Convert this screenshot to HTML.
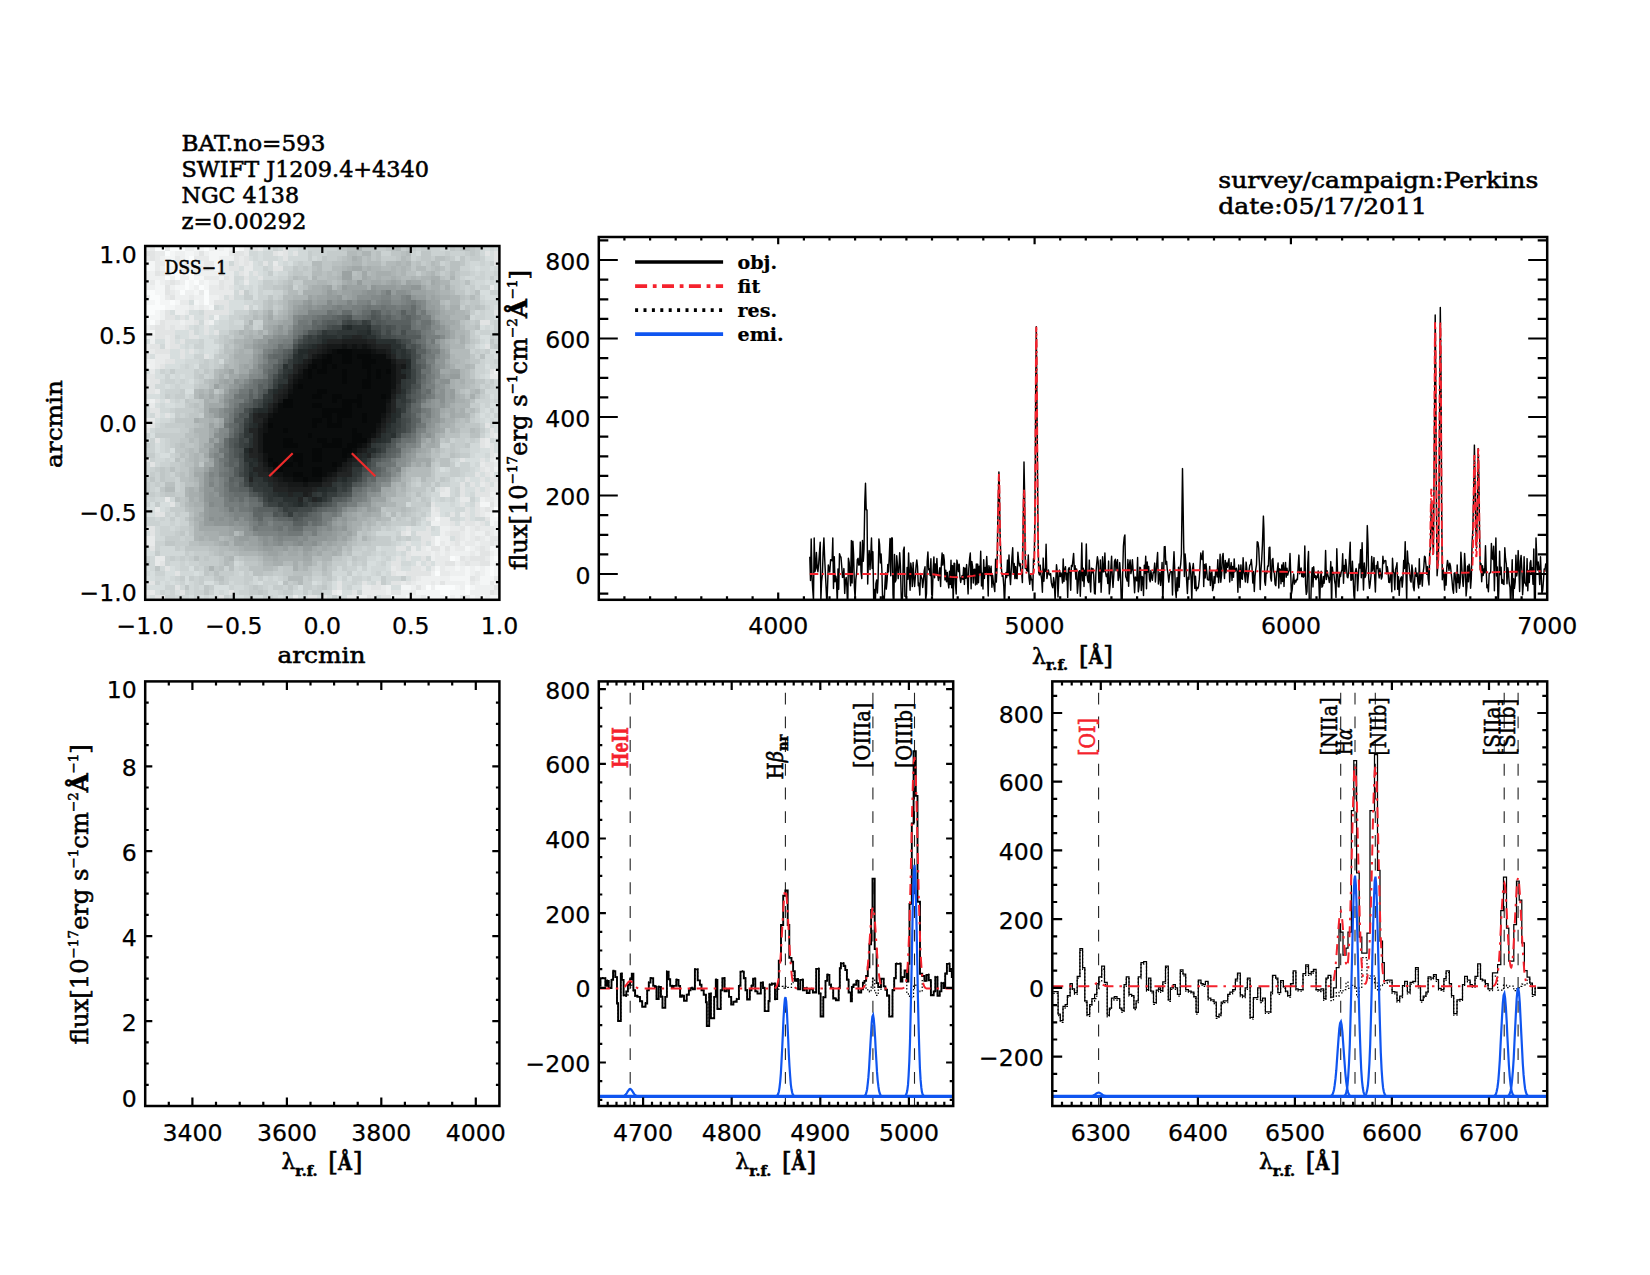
<!DOCTYPE html>
<html lang="en"><head><meta charset="utf-8"><title>BAT 593 - NGC 4138 spectrum</title>
<style>html,body{margin:0;padding:0;background:#fff}svg{display:block}text{font-family:"DejaVu Serif","Liberation Serif",serif;font-size:22px;fill:#000;stroke:#000;stroke-width:0.55px}.tk{font-family:"DejaVu Sans","Liberation Sans",sans-serif;font-size:23.6px;stroke-width:0.25px}.sm{font-size:14.5px;font-weight:bold}.lg{font-size:19px;font-weight:bold;stroke-width:0.2px}.sp{font-size:13px}.r{fill:#f5222d;stroke:#f5222d}</style></head><body>
<svg width="1650" height="1275" viewBox="0 0 1650 1275">
<rect width="1650" height="1275" fill="#fff"/>
<g transform="translate(145.2 246) scale(4.91944)" shape-rendering="crispEdges">
<rect width="72" height="72" fill="#e6eaea"/>
<path fill="rgb(6,8,8)" d="M39 21h3v1h-3zM37 22h1v1h-1zM40 22h2v1h-2zM43 22h3v1h-3zM36 23h2v1h-2zM40 23h2v1h-2zM44 23h3v1h-3zM34 24h1v1h-1zM36 24h1v1h-1zM38 24h1v1h-1zM44 24h2v1h-2zM33 25h1v1h-1zM35 25h2v1h-2zM40 25h1v1h-1zM45 25h1v1h-1zM47 25h1v1h-1zM49 25h1v1h-1zM33 26h1v1h-1zM40 26h1v1h-1zM45 26h1v1h-1zM47 26h1v1h-1zM40 27h1v1h-1zM44 27h2v1h-2zM31 28h1v1h-1zM44 28h2v1h-2zM35 29h2v1h-2zM34 30h2v1h-2zM38 30h2v1h-2zM43 30h1v1h-1zM48 30h1v1h-1zM28 31h2v1h-2zM38 31h1v1h-1zM40 31h4v1h-4zM28 32h2v1h-2zM34 32h2v1h-2zM40 32h2v1h-2zM43 32h1v1h-1zM36 33h6v1h-6zM36 34h2v1h-2zM39 34h3v1h-3zM44 34h1v1h-1zM34 35h2v1h-2zM37 35h1v1h-1zM39 35h1v1h-1zM44 35h1v1h-1zM25 36h1v1h-1zM34 36h1v1h-1zM37 36h3v1h-3zM28 37h1v1h-1zM42 37h1v1h-1zM33 38h1v1h-1zM42 38h2v1h-2zM28 39h2v1h-2zM35 39h2v1h-2zM38 39h2v1h-2zM42 39h3v1h-3zM28 40h3v1h-3zM36 40h4v1h-4zM41 40h2v1h-2zM34 41h2v1h-2zM40 41h2v1h-2zM30 42h2v1h-2zM34 42h2v1h-2zM40 42h1v1h-1zM25 43h1v1h-1zM30 43h2v1h-2zM34 43h2v1h-2zM26 44h1v1h-1zM28 44h2v1h-2zM31 44h1v1h-1zM38 44h1v1h-1zM27 45h1v1h-1zM34 45h2v1h-2zM30 46h2v1h-2zM34 46h2v1h-2zM32 47h1v1h-1z"/>
<path fill="rgb(10,12,12)" d="M38 21h1v1h-1zM42 21h4v1h-4zM36 22h1v1h-1zM38 22h2v1h-2zM42 22h1v1h-1zM46 22h3v1h-3zM34 23h2v1h-2zM38 23h2v1h-2zM42 23h2v1h-2zM47 23h3v1h-3zM33 24h1v1h-1zM35 24h1v1h-1zM37 24h1v1h-1zM39 24h5v1h-5zM46 24h4v1h-4zM32 25h1v1h-1zM34 25h1v1h-1zM37 25h3v1h-3zM41 25h4v1h-4zM46 25h1v1h-1zM48 25h1v1h-1zM32 26h1v1h-1zM34 26h6v1h-6zM41 26h4v1h-4zM46 26h1v1h-1zM48 26h2v1h-2zM31 27h9v1h-9zM41 27h3v1h-3zM46 27h4v1h-4zM30 28h1v1h-1zM32 28h12v1h-12zM46 28h4v1h-4zM30 29h5v1h-5zM37 29h13v1h-13zM29 30h5v1h-5zM36 30h2v1h-2zM40 30h3v1h-3zM44 30h4v1h-4zM49 30h1v1h-1zM30 31h8v1h-8zM39 31h1v1h-1zM44 31h5v1h-5zM27 32h1v1h-1zM30 32h4v1h-4zM36 32h4v1h-4zM42 32h1v1h-1zM44 32h5v1h-5zM27 33h9v1h-9zM42 33h7v1h-7zM26 34h10v1h-10zM38 34h1v1h-1zM42 34h2v1h-2zM45 34h3v1h-3zM25 35h9v1h-9zM36 35h1v1h-1zM38 35h1v1h-1zM40 35h4v1h-4zM45 35h3v1h-3zM26 36h8v1h-8zM35 36h2v1h-2zM40 36h7v1h-7zM25 37h3v1h-3zM29 37h13v1h-13zM43 37h4v1h-4zM24 38h9v1h-9zM34 38h8v1h-8zM44 38h2v1h-2zM24 39h4v1h-4zM30 39h5v1h-5zM37 39h1v1h-1zM40 39h2v1h-2zM24 40h4v1h-4zM31 40h5v1h-5zM40 40h1v1h-1zM43 40h1v1h-1zM24 41h10v1h-10zM36 41h4v1h-4zM42 41h1v1h-1zM25 42h5v1h-5zM32 42h2v1h-2zM36 42h4v1h-4zM41 42h1v1h-1zM26 43h4v1h-4zM32 43h2v1h-2zM36 43h5v1h-5zM25 44h1v1h-1zM27 44h1v1h-1zM30 44h1v1h-1zM32 44h6v1h-6zM39 44h1v1h-1zM26 45h1v1h-1zM28 45h6v1h-6zM36 45h3v1h-3zM28 46h2v1h-2zM32 46h2v1h-2zM36 46h1v1h-1zM30 47h2v1h-2zM33 47h3v1h-3z"/>
<path fill="rgb(16,18,18)" d="M40 20h1v1h-1zM42 20h1v1h-1zM44 20h1v1h-1zM37 21h1v1h-1zM46 21h1v1h-1zM35 22h1v1h-1zM50 24h1v1h-1zM50 25h1v1h-1zM31 26h1v1h-1zM50 26h1v1h-1zM30 27h1v1h-1zM50 27h1v1h-1zM50 28h1v1h-1zM29 29h1v1h-1zM49 31h1v1h-1zM26 33h1v1h-1zM25 34h1v1h-1zM48 34h1v1h-1zM24 36h1v1h-1zM47 36h1v1h-1zM24 37h1v1h-1zM46 38h1v1h-1zM45 39h1v1h-1zM44 40h1v1h-1zM24 42h1v1h-1zM24 43h1v1h-1zM26 46h2v1h-2zM37 46h1v1h-1zM28 47h2v1h-2zM32 48h1v1h-1z"/>
<path fill="rgb(22,24,24)" d="M37 20h3v1h-3zM41 20h1v1h-1zM43 20h1v1h-1zM45 20h1v1h-1zM36 21h1v1h-1zM47 21h2v1h-2zM34 22h1v1h-1zM49 22h1v1h-1zM33 23h1v1h-1zM50 23h1v1h-1zM32 24h1v1h-1zM52 24h1v1h-1zM31 25h1v1h-1zM30 26h1v1h-1zM29 28h1v1h-1zM50 29h1v1h-1zM28 30h1v1h-1zM27 31h1v1h-1zM26 32h1v1h-1zM49 32h1v1h-1zM49 33h1v1h-1zM24 35h1v1h-1zM48 35h1v1h-1zM23 37h1v1h-1zM47 37h1v1h-1zM23 38h1v1h-1zM23 39h1v1h-1zM23 40h1v1h-1zM23 41h1v1h-1zM43 41h1v1h-1zM42 42h1v1h-1zM41 43h1v1h-1zM24 44h1v1h-1zM40 44h1v1h-1zM25 45h1v1h-1zM39 45h1v1h-1zM38 46h1v1h-1zM27 47h1v1h-1zM36 47h1v1h-1zM29 48h3v1h-3zM33 48h3v1h-3z"/>
<path fill="rgb(28,30,30)" d="M40 19h5v1h-5zM36 20h1v1h-1zM46 20h1v1h-1zM35 21h1v1h-1zM49 21h1v1h-1zM32 23h1v1h-1zM31 24h1v1h-1zM51 24h1v1h-1zM51 25h1v1h-1zM51 26h2v1h-2zM29 27h1v1h-1zM51 27h1v1h-1zM28 29h1v1h-1zM27 30h1v1h-1zM50 30h1v1h-1zM25 33h1v1h-1zM23 34h2v1h-2zM49 34h1v1h-1zM23 36h1v1h-1zM48 36h1v1h-1zM47 38h1v1h-1zM45 40h1v1h-1zM21 41h1v1h-1zM44 41h1v1h-1zM23 42h1v1h-1zM23 43h1v1h-1zM42 43h1v1h-1zM41 44h1v1h-1zM24 45h1v1h-1zM40 45h1v1h-1zM25 46h1v1h-1zM26 47h1v1h-1zM37 47h1v1h-1zM27 48h2v1h-2zM29 49h5v1h-5zM32 50h1v1h-1z"/>
<path fill="rgb(34,36,36)" d="M42 18h2v1h-2zM37 19h3v1h-3zM45 19h2v1h-2zM35 20h1v1h-1zM47 20h3v1h-3zM33 21h2v1h-2zM33 22h1v1h-1zM50 22h1v1h-1zM51 23h2v1h-2zM30 24h1v1h-1zM30 25h1v1h-1zM29 26h1v1h-1zM28 28h1v1h-1zM51 28h1v1h-1zM27 29h1v1h-1zM51 29h1v1h-1zM26 30h1v1h-1zM26 31h1v1h-1zM50 31h1v1h-1zM25 32h1v1h-1zM50 32h1v1h-1zM50 33h1v1h-1zM22 34h1v1h-1zM22 35h2v1h-2zM49 35h1v1h-1zM21 37h2v1h-2zM48 37h1v1h-1zM22 38h1v1h-1zM22 39h1v1h-1zM46 39h1v1h-1zM22 40h1v1h-1zM22 41h1v1h-1zM21 42h2v1h-2zM43 42h1v1h-1zM45 42h1v1h-1zM23 44h1v1h-1zM22 45h2v1h-2zM41 45h1v1h-1zM23 46h2v1h-2zM39 46h3v1h-3zM21 47h1v1h-1zM25 47h1v1h-1zM38 47h1v1h-1zM26 48h1v1h-1zM36 48h2v1h-2zM26 49h3v1h-3zM34 49h1v1h-1zM29 50h1v1h-1zM33 50h1v1h-1zM31 51h1v1h-1zM34 51h1v1h-1z"/>
<path fill="rgb(35,42,42)" d="M41 16h1v1h-1zM45 17h1v1h-1zM40 18h2v1h-2zM44 18h1v1h-1zM36 19h1v1h-1zM34 20h1v1h-1zM31 21h2v1h-2zM50 21h1v1h-1zM31 22h1v1h-1zM31 23h1v1h-1zM53 23h1v1h-1zM53 24h1v1h-1zM52 25h1v1h-1zM27 28h1v1h-1zM26 29h1v1h-1zM23 33h2v1h-2zM50 34h1v1h-1zM50 35h1v1h-1zM22 36h1v1h-1zM49 36h1v1h-1zM47 39h1v1h-1zM20 41h1v1h-1zM45 41h2v1h-2zM44 42h1v1h-1zM22 43h1v1h-1zM43 43h1v1h-1zM21 44h1v1h-1zM42 44h2v1h-2zM21 46h1v1h-1zM24 47h1v1h-1zM40 47h1v1h-1zM25 48h1v1h-1zM35 49h2v1h-2zM27 50h2v1h-2zM30 50h2v1h-2zM35 51h1v1h-1zM31 52h1v1h-1z"/>
<path fill="rgb(41,48,48)" d="M40 16h1v1h-1zM45 16h1v1h-1zM43 17h2v1h-2zM36 18h3v1h-3zM45 18h2v1h-2zM47 19h4v1h-4zM33 20h1v1h-1zM50 20h2v1h-2zM52 21h1v1h-1zM30 22h1v1h-1zM32 22h1v1h-1zM52 22h1v1h-1zM30 23h1v1h-1zM28 24h1v1h-1zM29 25h1v1h-1zM53 25h1v1h-1zM28 26h1v1h-1zM53 26h1v1h-1zM52 29h1v1h-1zM51 30h1v1h-1zM25 31h1v1h-1zM24 32h1v1h-1zM22 33h1v1h-1zM51 33h1v1h-1zM51 34h1v1h-1zM21 36h1v1h-1zM49 37h1v1h-1zM48 38h1v1h-1zM50 38h1v1h-1zM21 39h1v1h-1zM48 39h1v1h-1zM21 40h1v1h-1zM20 42h1v1h-1zM20 43h2v1h-2zM44 43h1v1h-1zM22 44h1v1h-1zM21 45h1v1h-1zM22 46h1v1h-1zM39 47h1v1h-1zM37 49h2v1h-2zM26 50h1v1h-1zM36 50h1v1h-1zM28 51h3v1h-3zM33 51h1v1h-1zM30 52h1v1h-1z"/>
<path fill="rgb(47,54,54)" d="M42 16h3v1h-3zM36 17h1v1h-1zM39 17h4v1h-4zM35 18h1v1h-1zM39 18h1v1h-1zM35 19h1v1h-1zM32 20h1v1h-1zM51 21h1v1h-1zM51 22h1v1h-1zM53 22h1v1h-1zM28 25h1v1h-1zM27 27h2v1h-2zM52 27h1v1h-1zM52 28h1v1h-1zM25 29h1v1h-1zM25 30h1v1h-1zM52 30h1v1h-1zM24 31h1v1h-1zM52 31h1v1h-1zM21 34h1v1h-1zM21 35h1v1h-1zM50 36h1v1h-1zM20 37h1v1h-1zM50 37h1v1h-1zM20 38h2v1h-2zM49 38h1v1h-1zM49 39h1v1h-1zM46 40h1v1h-1zM47 41h1v1h-1zM44 44h1v1h-1zM42 45h2v1h-2zM42 46h1v1h-1zM22 47h2v1h-2zM41 47h1v1h-1zM21 48h1v1h-1zM23 48h2v1h-2zM38 48h1v1h-1zM40 48h1v1h-1zM24 49h2v1h-2zM25 50h1v1h-1zM34 50h1v1h-1zM25 51h1v1h-1zM36 51h1v1h-1zM27 52h1v1h-1zM29 52h1v1h-1zM32 52h1v1h-1z"/>
<path fill="rgb(53,60,60)" d="M44 15h1v1h-1zM37 17h2v1h-2zM46 17h1v1h-1zM33 18h1v1h-1zM47 18h1v1h-1zM33 19h2v1h-2zM51 19h1v1h-1zM31 20h1v1h-1zM52 20h1v1h-1zM30 21h1v1h-1zM53 21h1v1h-1zM29 23h1v1h-1zM29 24h1v1h-1zM27 26h1v1h-1zM53 27h1v1h-1zM26 28h1v1h-1zM53 28h1v1h-1zM24 30h1v1h-1zM51 31h1v1h-1zM51 32h2v1h-2zM52 33h1v1h-1zM51 35h1v1h-1zM20 36h1v1h-1zM51 36h1v1h-1zM20 40h1v1h-1zM47 40h1v1h-1zM46 42h1v1h-1zM45 43h1v1h-1zM20 44h1v1h-1zM20 45h1v1h-1zM20 46h1v1h-1zM43 46h1v1h-1zM42 47h1v1h-1zM22 48h1v1h-1zM39 48h1v1h-1zM41 48h1v1h-1zM22 49h2v1h-2zM40 49h1v1h-1zM24 50h1v1h-1zM35 50h1v1h-1zM37 50h2v1h-2zM26 51h2v1h-2zM32 51h1v1h-1zM28 52h1v1h-1zM34 52h1v1h-1zM28 53h1v1h-1zM29 54h1v1h-1z"/>
<path fill="rgb(59,66,66)" d="M41 15h1v1h-1zM45 15h1v1h-1zM47 17h1v1h-1zM34 18h1v1h-1zM32 19h1v1h-1zM54 25h1v1h-1zM54 26h1v1h-1zM26 27h1v1h-1zM54 27h1v1h-1zM53 29h1v1h-1zM53 31h1v1h-1zM23 32h1v1h-1zM21 33h1v1h-1zM20 35h1v1h-1zM51 37h1v1h-1zM19 39h1v1h-1zM19 40h1v1h-1zM48 40h1v1h-1zM48 41h1v1h-1zM20 47h1v1h-1zM39 49h1v1h-1zM24 51h1v1h-1zM37 51h1v1h-1zM25 52h2v1h-2zM33 52h1v1h-1zM35 52h1v1h-1zM29 53h2v1h-2z"/>
<path fill="rgb(65,72,72)" d="M40 15h1v1h-1zM42 15h1v1h-1zM38 16h2v1h-2zM46 16h2v1h-2zM35 17h1v1h-1zM49 17h1v1h-1zM32 18h1v1h-1zM48 18h2v1h-2zM52 19h1v1h-1zM54 21h1v1h-1zM54 22h1v1h-1zM54 23h1v1h-1zM54 24h1v1h-1zM27 25h1v1h-1zM23 31h1v1h-1zM52 35h1v1h-1zM52 36h1v1h-1zM52 37h1v1h-1zM19 38h1v1h-1zM51 38h1v1h-1zM20 39h1v1h-1zM19 42h1v1h-1zM47 42h1v1h-1zM45 44h1v1h-1zM44 45h1v1h-1zM19 46h1v1h-1zM43 47h1v1h-1zM20 48h1v1h-1zM41 49h1v1h-1zM23 50h1v1h-1zM39 50h1v1h-1zM31 53h3v1h-3z"/>
<path fill="rgb(71,78,78)" d="M43 15h1v1h-1zM37 16h1v1h-1zM49 16h1v1h-1zM52 17h1v1h-1zM50 18h1v1h-1zM31 19h1v1h-1zM53 19h1v1h-1zM30 20h1v1h-1zM54 20h1v1h-1zM29 22h1v1h-1zM28 23h1v1h-1zM26 26h1v1h-1zM54 28h1v1h-1zM53 30h1v1h-1zM22 31h1v1h-1zM22 32h1v1h-1zM53 32h1v1h-1zM20 33h1v1h-1zM52 34h1v1h-1zM53 35h1v1h-1zM18 40h1v1h-1zM49 40h1v1h-1zM19 41h1v1h-1zM19 43h1v1h-1zM19 44h1v1h-1zM19 45h1v1h-1zM45 45h1v1h-1zM21 49h1v1h-1zM40 50h1v1h-1zM24 52h1v1h-1zM36 52h1v1h-1zM27 53h1v1h-1zM28 54h1v1h-1zM31 54h1v1h-1z"/>
<path fill="rgb(77,84,84)" d="M41 14h1v1h-1zM46 14h1v1h-1zM47 15h1v1h-1zM48 16h1v1h-1zM50 16h1v1h-1zM33 17h2v1h-2zM48 17h1v1h-1zM51 18h2v1h-2zM53 20h1v1h-1zM55 22h1v1h-1zM27 24h1v1h-1zM55 24h1v1h-1zM55 25h1v1h-1zM55 26h1v1h-1zM25 28h1v1h-1zM55 28h1v1h-1zM24 29h1v1h-1zM54 29h1v1h-1zM54 31h1v1h-1zM53 33h1v1h-1zM19 34h2v1h-2zM53 34h1v1h-1zM19 36h1v1h-1zM53 36h1v1h-1zM19 37h1v1h-1zM53 37h1v1h-1zM18 39h1v1h-1zM50 39h1v1h-1zM18 41h1v1h-1zM18 42h1v1h-1zM48 42h1v1h-1zM46 43h1v1h-1zM46 44h1v1h-1zM44 46h1v1h-1zM42 48h1v1h-1zM22 50h1v1h-1zM41 50h1v1h-1zM37 52h1v1h-1zM34 53h1v1h-1zM26 54h1v1h-1zM30 54h1v1h-1zM32 54h1v1h-1zM30 55h1v1h-1z"/>
<path fill="rgb(83,90,90)" d="M46 13h1v1h-1zM40 14h1v1h-1zM47 14h1v1h-1zM37 15h2v1h-2zM46 15h1v1h-1zM48 15h1v1h-1zM36 16h1v1h-1zM52 16h2v1h-2zM50 17h1v1h-1zM53 18h3v1h-3zM55 20h1v1h-1zM29 21h1v1h-1zM28 22h1v1h-1zM25 27h1v1h-1zM55 27h1v1h-1zM23 30h1v1h-1zM54 30h1v1h-1zM21 32h1v1h-1zM18 35h2v1h-2zM18 38h1v1h-1zM17 39h1v1h-1zM17 40h1v1h-1zM50 40h1v1h-1zM49 41h1v1h-1zM47 43h1v1h-1zM18 45h1v1h-1zM46 45h1v1h-1zM18 46h1v1h-1zM45 46h1v1h-1zM44 47h1v1h-1zM19 48h1v1h-1zM43 48h1v1h-1zM21 50h1v1h-1zM23 51h1v1h-1zM38 51h2v1h-2zM26 53h1v1h-1zM27 54h1v1h-1zM31 55h1v1h-1z"/>
<path fill="rgb(89,96,96)" d="M47 13h1v1h-1zM52 13h1v1h-1zM39 14h1v1h-1zM45 14h1v1h-1zM49 14h1v1h-1zM53 14h1v1h-1zM36 15h1v1h-1zM39 15h1v1h-1zM49 15h5v1h-5zM35 16h1v1h-1zM51 16h1v1h-1zM51 17h1v1h-1zM53 17h2v1h-2zM31 18h1v1h-1zM30 19h1v1h-1zM54 19h1v1h-1zM28 21h1v1h-1zM55 21h2v1h-2zM27 23h1v1h-1zM55 23h1v1h-1zM26 24h1v1h-1zM56 24h1v1h-1zM26 25h1v1h-1zM25 26h1v1h-1zM23 28h1v1h-1zM23 29h1v1h-1zM55 29h1v1h-1zM21 30h1v1h-1zM55 30h1v1h-1zM21 31h1v1h-1zM20 32h1v1h-1zM54 34h1v1h-1zM54 35h1v1h-1zM54 36h1v1h-1zM18 37h1v1h-1zM52 38h1v1h-1zM51 39h1v1h-1zM17 41h1v1h-1zM50 41h1v1h-1zM17 42h1v1h-1zM49 42h1v1h-1zM17 43h2v1h-2zM17 44h1v1h-1zM47 45h1v1h-1zM46 46h1v1h-1zM17 47h1v1h-1zM19 47h1v1h-1zM19 49h2v1h-2zM40 51h1v1h-1zM38 52h1v1h-1zM23 53h3v1h-3zM35 53h1v1h-1zM33 54h1v1h-1zM29 55h1v1h-1zM30 56h2v1h-2z"/>
<path fill="rgb(95,102,102)" d="M38 14h1v1h-1zM44 14h1v1h-1zM48 14h1v1h-1zM52 14h1v1h-1zM34 15h1v1h-1zM34 16h1v1h-1zM32 17h1v1h-1zM55 17h1v1h-1zM26 22h2v1h-2zM56 23h1v1h-1zM25 25h1v1h-1zM56 26h1v1h-1zM24 27h1v1h-1zM24 28h1v1h-1zM21 29h1v1h-1zM55 31h1v1h-1zM19 32h1v1h-1zM54 32h1v1h-1zM19 33h1v1h-1zM54 33h2v1h-2zM18 34h1v1h-1zM55 35h1v1h-1zM18 36h1v1h-1zM54 37h1v1h-1zM53 38h1v1h-1zM51 41h1v1h-1zM50 42h1v1h-1zM48 43h1v1h-1zM18 44h1v1h-1zM47 46h1v1h-1zM18 47h1v1h-1zM46 47h1v1h-1zM17 48h1v1h-1zM44 48h1v1h-1zM17 49h2v1h-2zM22 53h1v1h-1zM36 53h1v1h-1zM22 54h2v1h-2zM34 54h1v1h-1zM23 55h1v1h-1zM27 55h2v1h-2zM32 55h3v1h-3zM32 56h1v1h-1z"/>
<path fill="rgb(101,108,108)" d="M54 12h1v1h-1zM40 13h2v1h-2zM44 13h2v1h-2zM49 13h1v1h-1zM54 13h1v1h-1zM36 14h2v1h-2zM42 14h2v1h-2zM50 14h1v1h-1zM54 14h1v1h-1zM35 15h1v1h-1zM55 19h1v1h-1zM56 20h1v1h-1zM27 21h1v1h-1zM25 22h1v1h-1zM56 22h1v1h-1zM23 27h1v1h-1zM56 27h1v1h-1zM57 29h1v1h-1zM22 30h1v1h-1zM56 30h1v1h-1zM20 31h1v1h-1zM55 32h1v1h-1zM18 33h1v1h-1zM17 36h1v1h-1zM17 38h1v1h-1zM16 39h1v1h-1zM16 40h1v1h-1zM16 42h1v1h-1zM49 43h1v1h-1zM16 44h1v1h-1zM47 44h1v1h-1zM17 45h1v1h-1zM48 45h1v1h-1zM17 46h1v1h-1zM45 47h1v1h-1zM18 48h1v1h-1zM42 49h2v1h-2zM18 50h3v1h-3zM19 51h1v1h-1zM21 51h2v1h-2zM41 51h1v1h-1zM23 52h1v1h-1zM37 53h2v1h-2zM24 54h2v1h-2zM35 54h1v1h-1zM26 55h1v1h-1zM35 55h1v1h-1zM34 56h1v1h-1zM30 57h2v1h-2z"/>
<path fill="rgb(107,114,114)" d="M45 12h1v1h-1zM48 12h1v1h-1zM37 13h1v1h-1zM48 13h1v1h-1zM51 13h1v1h-1zM53 13h1v1h-1zM35 14h1v1h-1zM51 14h1v1h-1zM55 14h1v1h-1zM54 15h1v1h-1zM56 15h2v1h-2zM32 16h2v1h-2zM54 16h1v1h-1zM56 16h1v1h-1zM31 17h1v1h-1zM30 18h1v1h-1zM56 18h1v1h-1zM56 19h1v1h-1zM27 20h1v1h-1zM29 20h1v1h-1zM26 21h1v1h-1zM57 21h1v1h-1zM25 23h2v1h-2zM25 24h1v1h-1zM57 24h1v1h-1zM24 25h1v1h-1zM56 25h2v1h-2zM22 27h1v1h-1zM22 28h1v1h-1zM56 28h1v1h-1zM22 29h1v1h-1zM56 29h1v1h-1zM19 30h2v1h-2zM55 34h1v1h-1zM55 36h1v1h-1zM17 37h1v1h-1zM54 38h1v1h-1zM52 39h2v1h-2zM51 40h1v1h-1zM16 41h1v1h-1zM51 42h1v1h-1zM16 43h1v1h-1zM48 44h2v1h-2zM16 46h1v1h-1zM48 46h1v1h-1zM16 48h1v1h-1zM45 48h1v1h-1zM17 50h1v1h-1zM42 50h1v1h-1zM17 51h1v1h-1zM21 52h2v1h-2zM39 52h2v1h-2zM21 53h1v1h-1zM22 55h1v1h-1zM23 56h1v1h-1zM28 56h2v1h-2zM35 56h1v1h-1zM27 57h1v1h-1zM29 57h1v1h-1z"/>
<path fill="rgb(113,120,120)" d="M54 11h1v1h-1zM44 12h1v1h-1zM46 12h2v1h-2zM49 12h2v1h-2zM52 12h2v1h-2zM38 13h1v1h-1zM43 13h1v1h-1zM50 13h1v1h-1zM56 13h1v1h-1zM34 14h1v1h-1zM31 15h2v1h-2zM31 16h1v1h-1zM55 16h1v1h-1zM57 16h1v1h-1zM30 17h1v1h-1zM56 17h1v1h-1zM58 19h1v1h-1zM28 20h1v1h-1zM57 22h2v1h-2zM24 24h1v1h-1zM24 26h1v1h-1zM57 26h1v1h-1zM57 27h1v1h-1zM21 28h1v1h-1zM19 29h2v1h-2zM18 30h1v1h-1zM57 30h1v1h-1zM56 31h1v1h-1zM18 32h1v1h-1zM56 33h1v1h-1zM17 34h1v1h-1zM17 35h1v1h-1zM16 36h1v1h-1zM56 36h1v1h-1zM54 39h1v1h-1zM52 40h1v1h-1zM15 41h1v1h-1zM15 43h1v1h-1zM50 44h1v1h-1zM16 45h1v1h-1zM15 46h1v1h-1zM49 46h1v1h-1zM16 47h1v1h-1zM46 48h1v1h-1zM16 49h1v1h-1zM44 49h1v1h-1zM16 50h1v1h-1zM43 50h1v1h-1zM18 51h1v1h-1zM20 51h1v1h-1zM19 52h1v1h-1zM17 53h1v1h-1zM19 53h2v1h-2zM39 53h1v1h-1zM38 54h1v1h-1zM24 55h2v1h-2zM24 56h1v1h-1zM26 56h2v1h-2zM33 56h1v1h-1zM22 57h1v1h-1zM26 57h1v1h-1zM29 58h3v1h-3z"/>
<path fill="rgb(119,126,126)" d="M49 9h1v1h-1zM53 10h1v1h-1zM45 11h1v1h-1zM48 11h2v1h-2zM53 11h1v1h-1zM39 12h1v1h-1zM42 12h2v1h-2zM51 12h1v1h-1zM55 12h1v1h-1zM39 13h1v1h-1zM42 13h1v1h-1zM32 14h2v1h-2zM56 14h2v1h-2zM33 15h1v1h-1zM55 15h1v1h-1zM30 16h1v1h-1zM57 17h1v1h-1zM57 18h3v1h-3zM28 19h2v1h-2zM57 20h1v1h-1zM25 21h1v1h-1zM58 21h2v1h-2zM24 22h1v1h-1zM57 23h2v1h-2zM58 26h1v1h-1zM21 27h1v1h-1zM20 28h1v1h-1zM57 28h2v1h-2zM58 30h1v1h-1zM18 31h2v1h-2zM17 33h1v1h-1zM57 33h1v1h-1zM57 34h1v1h-1zM55 37h1v1h-1zM50 43h1v1h-1zM15 44h1v1h-1zM15 45h1v1h-1zM49 45h1v1h-1zM47 47h2v1h-2zM46 49h1v1h-1zM44 50h1v1h-1zM16 51h1v1h-1zM42 51h2v1h-2zM16 52h3v1h-3zM20 52h1v1h-1zM41 52h2v1h-2zM21 54h1v1h-1zM36 54h2v1h-2zM21 55h1v1h-1zM36 55h2v1h-2zM22 56h1v1h-1zM36 56h1v1h-1zM23 57h3v1h-3zM28 57h1v1h-1zM32 57h3v1h-3zM27 58h2v1h-2zM34 58h1v1h-1z"/>
<path fill="rgb(125,132,132)" d="M48 10h2v1h-2zM52 10h1v1h-1zM41 11h1v1h-1zM43 11h2v1h-2zM47 11h1v1h-1zM52 11h1v1h-1zM55 11h1v1h-1zM38 12h1v1h-1zM40 12h2v1h-2zM33 13h4v1h-4zM55 13h1v1h-1zM31 14h1v1h-1zM58 15h1v1h-1zM58 17h1v1h-1zM29 18h1v1h-1zM27 19h1v1h-1zM57 19h1v1h-1zM26 20h1v1h-1zM58 20h1v1h-1zM24 21h1v1h-1zM24 23h1v1h-1zM23 24h1v1h-1zM58 24h1v1h-1zM58 25h1v1h-1zM23 26h1v1h-1zM58 27h1v1h-1zM58 29h1v1h-1zM17 31h1v1h-1zM17 32h1v1h-1zM16 33h1v1h-1zM56 34h1v1h-1zM16 35h1v1h-1zM56 35h1v1h-1zM56 37h1v1h-1zM16 38h1v1h-1zM55 38h1v1h-1zM15 40h1v1h-1zM53 40h2v1h-2zM52 41h1v1h-1zM14 42h1v1h-1zM51 45h1v1h-1zM13 46h1v1h-1zM15 47h1v1h-1zM49 47h1v1h-1zM13 48h1v1h-1zM15 48h1v1h-1zM47 48h1v1h-1zM15 49h1v1h-1zM45 49h1v1h-1zM47 49h1v1h-1zM15 50h1v1h-1zM44 51h1v1h-1zM18 53h1v1h-1zM18 54h3v1h-3zM39 54h1v1h-1zM18 55h1v1h-1zM20 55h1v1h-1zM21 56h1v1h-1zM25 56h1v1h-1zM23 58h4v1h-4zM27 59h1v1h-1z"/>
<path fill="rgb(131,138,138)" d="M48 9h1v1h-1zM46 10h2v1h-2zM37 11h1v1h-1zM50 11h2v1h-2zM56 11h1v1h-1zM36 12h2v1h-2zM56 12h1v1h-1zM30 14h1v1h-1zM30 15h1v1h-1zM58 16h2v1h-2zM29 17h1v1h-1zM27 18h2v1h-2zM60 18h1v1h-1zM25 19h2v1h-2zM25 20h1v1h-1zM59 20h1v1h-1zM59 22h1v1h-1zM23 25h1v1h-1zM59 25h1v1h-1zM21 26h2v1h-2zM59 26h1v1h-1zM20 27h1v1h-1zM19 28h1v1h-1zM18 29h1v1h-1zM57 31h1v1h-1zM56 32h1v1h-1zM16 34h1v1h-1zM57 35h1v1h-1zM15 37h2v1h-2zM15 38h1v1h-1zM15 39h1v1h-1zM55 39h1v1h-1zM14 40h1v1h-1zM53 41h1v1h-1zM15 42h1v1h-1zM52 42h1v1h-1zM14 43h1v1h-1zM51 43h1v1h-1zM14 44h1v1h-1zM14 45h1v1h-1zM50 45h1v1h-1zM14 46h1v1h-1zM50 46h1v1h-1zM13 47h1v1h-1zM14 49h1v1h-1zM13 52h1v1h-1zM16 53h1v1h-1zM40 53h1v1h-1zM17 54h1v1h-1zM37 56h1v1h-1zM21 57h1v1h-1zM35 57h1v1h-1zM37 57h1v1h-1zM22 58h1v1h-1zM32 58h2v1h-2zM26 59h1v1h-1zM28 59h3v1h-3zM32 59h1v1h-1zM27 60h1v1h-1zM31 60h1v1h-1z"/>
<path fill="rgb(137,144,144)" d="M45 9h2v1h-2zM51 9h2v1h-2zM43 10h3v1h-3zM50 10h2v1h-2zM39 11h2v1h-2zM42 11h1v1h-1zM46 11h1v1h-1zM33 12h1v1h-1zM35 12h1v1h-1zM57 13h1v1h-1zM59 15h1v1h-1zM26 18h1v1h-1zM24 20h1v1h-1zM23 22h1v1h-1zM23 23h1v1h-1zM59 24h1v1h-1zM22 25h1v1h-1zM18 27h1v1h-1zM60 27h2v1h-2zM59 28h1v1h-1zM17 29h1v1h-1zM60 29h1v1h-1zM17 30h1v1h-1zM59 30h2v1h-2zM16 31h1v1h-1zM60 31h1v1h-1zM57 32h1v1h-1zM15 33h1v1h-1zM58 33h1v1h-1zM15 34h1v1h-1zM58 34h1v1h-1zM57 36h1v1h-1zM14 38h1v1h-1zM57 38h1v1h-1zM55 40h1v1h-1zM14 41h1v1h-1zM13 42h1v1h-1zM52 43h1v1h-1zM51 44h2v1h-2zM13 45h1v1h-1zM14 47h1v1h-1zM14 48h1v1h-1zM48 48h2v1h-2zM13 50h1v1h-1zM45 50h2v1h-2zM13 51h3v1h-3zM45 51h1v1h-1zM14 52h2v1h-2zM43 52h1v1h-1zM15 53h1v1h-1zM16 54h1v1h-1zM13 55h1v1h-1zM15 55h1v1h-1zM17 55h1v1h-1zM19 55h1v1h-1zM38 55h1v1h-1zM17 56h1v1h-1zM19 56h2v1h-2zM36 57h1v1h-1zM35 58h1v1h-1zM24 59h1v1h-1zM31 59h1v1h-1zM24 60h1v1h-1zM26 60h1v1h-1zM30 60h1v1h-1zM34 60h1v1h-1z"/>
<path fill="rgb(143,150,150)" d="M46 8h1v1h-1zM54 8h2v1h-2zM44 9h1v1h-1zM47 9h1v1h-1zM53 9h1v1h-1zM39 10h1v1h-1zM54 10h1v1h-1zM33 11h1v1h-1zM38 11h1v1h-1zM32 12h1v1h-1zM34 12h1v1h-1zM31 13h2v1h-2zM58 13h1v1h-1zM58 14h1v1h-1zM27 16h1v1h-1zM29 16h1v1h-1zM60 16h1v1h-1zM27 17h1v1h-1zM59 17h2v1h-2zM59 19h1v1h-1zM23 20h1v1h-1zM60 21h1v1h-1zM60 22h1v1h-1zM59 23h2v1h-2zM22 24h1v1h-1zM60 24h1v1h-1zM21 25h1v1h-1zM19 27h1v1h-1zM59 27h1v1h-1zM18 28h1v1h-1zM60 28h1v1h-1zM59 29h1v1h-1zM16 30h1v1h-1zM58 31h1v1h-1zM16 32h1v1h-1zM58 32h1v1h-1zM60 32h1v1h-1zM59 33h1v1h-1zM59 34h1v1h-1zM58 35h2v1h-2zM58 36h1v1h-1zM57 37h1v1h-1zM56 38h1v1h-1zM13 39h1v1h-1zM13 41h1v1h-1zM54 41h1v1h-1zM53 42h1v1h-1zM53 43h1v1h-1zM12 46h1v1h-1zM51 46h1v1h-1zM12 47h1v1h-1zM12 48h1v1h-1zM12 49h2v1h-2zM12 50h1v1h-1zM14 50h1v1h-1zM47 50h1v1h-1zM12 51h1v1h-1zM44 52h2v1h-2zM13 53h2v1h-2zM41 53h2v1h-2zM13 54h3v1h-3zM14 55h1v1h-1zM16 55h1v1h-1zM40 55h1v1h-1zM14 56h3v1h-3zM18 56h1v1h-1zM20 57h1v1h-1zM38 57h1v1h-1zM40 57h1v1h-1zM20 58h2v1h-2zM36 58h2v1h-2zM23 59h1v1h-1zM25 59h1v1h-1zM33 59h4v1h-4zM25 60h1v1h-1zM28 60h2v1h-2zM32 60h2v1h-2z"/>
<path fill="rgb(149,156,156)" d="M43 7h1v1h-1zM40 8h1v1h-1zM47 8h4v1h-4zM52 8h2v1h-2zM37 9h1v1h-1zM42 9h2v1h-2zM50 9h1v1h-1zM37 10h2v1h-2zM42 10h1v1h-1zM55 10h2v1h-2zM32 11h1v1h-1zM35 11h2v1h-2zM57 11h1v1h-1zM31 12h1v1h-1zM57 12h2v1h-2zM30 13h1v1h-1zM59 13h1v1h-1zM26 17h1v1h-1zM28 17h1v1h-1zM61 17h1v1h-1zM24 18h2v1h-2zM61 18h1v1h-1zM23 19h2v1h-2zM22 20h1v1h-1zM23 21h1v1h-1zM22 22h1v1h-1zM61 22h1v1h-1zM22 23h1v1h-1zM19 26h2v1h-2zM60 26h1v1h-1zM62 26h2v1h-2zM17 28h1v1h-1zM62 29h1v1h-1zM62 30h1v1h-1zM59 31h1v1h-1zM59 32h1v1h-1zM13 33h2v1h-2zM14 34h1v1h-1zM14 37h1v1h-1zM58 37h1v1h-1zM58 38h1v1h-1zM54 42h1v1h-1zM53 44h1v1h-1zM50 47h1v1h-1zM12 52h1v1h-1zM12 53h1v1h-1zM45 53h1v1h-1zM12 54h1v1h-1zM40 54h1v1h-1zM12 55h1v1h-1zM39 55h1v1h-1zM12 56h2v1h-2zM38 56h1v1h-1zM40 56h1v1h-1zM18 57h2v1h-2zM39 57h1v1h-1zM38 58h1v1h-1zM19 59h2v1h-2zM37 59h2v1h-2zM23 60h1v1h-1zM35 60h1v1h-1zM24 61h2v1h-2zM28 61h1v1h-1zM32 61h2v1h-2z"/>
<path fill="rgb(155,162,162)" d="M40 5h2v1h-2zM40 6h2v1h-2zM50 7h1v1h-1zM53 7h1v1h-1zM37 8h1v1h-1zM41 8h4v1h-4zM51 8h1v1h-1zM38 9h1v1h-1zM40 9h2v1h-2zM54 9h3v1h-3zM33 10h1v1h-1zM35 10h2v1h-2zM41 10h1v1h-1zM58 10h1v1h-1zM34 11h1v1h-1zM58 11h2v1h-2zM30 12h1v1h-1zM59 12h1v1h-1zM29 14h1v1h-1zM59 14h1v1h-1zM28 15h2v1h-2zM60 15h1v1h-1zM26 16h1v1h-1zM28 16h1v1h-1zM61 16h1v1h-1zM22 19h1v1h-1zM60 19h1v1h-1zM60 20h1v1h-1zM22 21h1v1h-1zM61 21h1v1h-1zM20 24h1v1h-1zM61 24h1v1h-1zM17 25h1v1h-1zM62 25h2v1h-2zM61 26h1v1h-1zM16 27h1v1h-1zM14 28h1v1h-1zM61 28h1v1h-1zM16 29h1v1h-1zM61 29h1v1h-1zM61 30h1v1h-1zM15 31h1v1h-1zM61 31h2v1h-2zM61 32h1v1h-1zM60 35h1v1h-1zM13 36h1v1h-1zM15 36h1v1h-1zM59 36h1v1h-1zM59 37h1v1h-1zM14 39h1v1h-1zM56 39h1v1h-1zM58 39h1v1h-1zM13 40h1v1h-1zM55 41h1v1h-1zM13 43h1v1h-1zM54 43h1v1h-1zM12 45h1v1h-1zM51 47h1v1h-1zM11 49h1v1h-1zM46 51h3v1h-3zM43 53h1v1h-1zM46 53h1v1h-1zM41 54h1v1h-1zM41 55h2v1h-2zM39 56h1v1h-1zM17 57h1v1h-1zM17 58h1v1h-1zM39 58h1v1h-1zM41 58h1v1h-1zM18 59h1v1h-1zM21 59h2v1h-2zM40 59h1v1h-1zM18 60h2v1h-2zM21 60h2v1h-2zM37 60h1v1h-1zM23 61h1v1h-1zM26 61h2v1h-2zM30 61h1v1h-1zM25 62h2v1h-2zM32 62h1v1h-1z"/>
<path fill="rgb(161,168,168)" d="M42 4h2v1h-2zM44 5h1v1h-1zM44 6h1v1h-1zM41 7h1v1h-1zM46 7h2v1h-2zM49 7h1v1h-1zM51 7h1v1h-1zM54 7h2v1h-2zM58 7h1v1h-1zM36 8h1v1h-1zM56 8h1v1h-1zM36 9h1v1h-1zM39 9h1v1h-1zM57 9h2v1h-2zM34 10h1v1h-1zM40 10h1v1h-1zM57 10h1v1h-1zM59 10h1v1h-1zM30 11h2v1h-2zM29 13h1v1h-1zM60 13h1v1h-1zM25 14h1v1h-1zM60 14h2v1h-2zM27 15h1v1h-1zM61 15h2v1h-2zM25 16h1v1h-1zM25 17h1v1h-1zM62 17h1v1h-1zM62 18h1v1h-1zM20 20h2v1h-2zM61 20h1v1h-1zM21 23h1v1h-1zM61 23h1v1h-1zM19 24h1v1h-1zM21 24h1v1h-1zM19 25h2v1h-2zM60 25h2v1h-2zM17 26h2v1h-2zM15 27h1v1h-1zM17 27h1v1h-1zM16 28h1v1h-1zM13 30h1v1h-1zM15 30h1v1h-1zM13 32h3v1h-3zM60 33h1v1h-1zM62 33h1v1h-1zM13 34h1v1h-1zM62 34h1v1h-1zM15 35h1v1h-1zM13 37h1v1h-1zM60 37h1v1h-1zM13 38h1v1h-1zM12 40h1v1h-1zM57 40h2v1h-2zM56 41h1v1h-1zM12 42h1v1h-1zM55 43h3v1h-3zM12 44h2v1h-2zM55 44h1v1h-1zM57 44h1v1h-1zM52 45h1v1h-1zM10 46h2v1h-2zM11 47h1v1h-1zM11 48h1v1h-1zM48 49h2v1h-2zM11 50h1v1h-1zM48 50h1v1h-1zM11 51h1v1h-1zM46 52h1v1h-1zM44 53h1v1h-1zM47 53h1v1h-1zM11 54h1v1h-1zM42 54h1v1h-1zM44 54h2v1h-2zM11 56h1v1h-1zM41 56h1v1h-1zM11 57h6v1h-6zM41 57h1v1h-1zM15 58h2v1h-2zM40 58h1v1h-1zM39 59h1v1h-1zM16 60h1v1h-1zM20 60h1v1h-1zM36 60h1v1h-1zM38 60h1v1h-1zM20 61h3v1h-3zM29 61h1v1h-1zM31 61h1v1h-1zM34 61h1v1h-1zM36 61h1v1h-1zM24 62h1v1h-1zM27 62h1v1h-1zM29 62h2v1h-2zM33 62h1v1h-1zM35 62h1v1h-1zM26 63h1v1h-1zM32 63h2v1h-2z"/>
<path fill="rgb(167,174,174)" d="M42 2h1v1h-1zM41 4h1v1h-1zM45 4h1v1h-1zM47 5h3v1h-3zM45 6h1v1h-1zM47 6h1v1h-1zM50 6h1v1h-1zM58 6h2v1h-2zM40 7h1v1h-1zM42 7h1v1h-1zM44 7h2v1h-2zM48 7h1v1h-1zM59 7h1v1h-1zM34 8h2v1h-2zM39 8h1v1h-1zM45 8h1v1h-1zM58 8h2v1h-2zM61 8h1v1h-1zM32 9h4v1h-4zM59 9h1v1h-1zM60 10h2v1h-2zM29 11h1v1h-1zM29 12h1v1h-1zM60 12h1v1h-1zM62 12h2v1h-2zM25 13h1v1h-1zM61 13h2v1h-2zM28 14h1v1h-1zM65 14h1v1h-1zM25 15h2v1h-2zM63 15h1v1h-1zM24 16h1v1h-1zM62 16h2v1h-2zM23 17h1v1h-1zM21 18h1v1h-1zM64 18h1v1h-1zM20 19h2v1h-2zM61 19h1v1h-1zM64 19h1v1h-1zM19 21h1v1h-1zM18 22h4v1h-4zM19 23h2v1h-2zM62 24h1v1h-1zM16 25h1v1h-1zM15 26h1v1h-1zM62 27h1v1h-1zM64 27h1v1h-1zM15 28h1v1h-1zM62 28h1v1h-1zM13 29h1v1h-1zM11 30h1v1h-1zM63 30h1v1h-1zM66 30h1v1h-1zM12 31h1v1h-1zM63 31h2v1h-2zM12 32h1v1h-1zM62 32h1v1h-1zM12 33h1v1h-1zM61 33h1v1h-1zM64 33h1v1h-1zM12 34h1v1h-1zM60 34h1v1h-1zM63 34h2v1h-2zM10 35h1v1h-1zM13 35h1v1h-1zM61 35h2v1h-2zM14 36h1v1h-1zM60 36h2v1h-2zM59 38h1v1h-1zM57 39h1v1h-1zM59 39h1v1h-1zM56 40h1v1h-1zM59 40h1v1h-1zM11 41h2v1h-2zM57 41h1v1h-1zM55 42h2v1h-2zM54 44h1v1h-1zM10 45h2v1h-2zM52 46h1v1h-1zM50 48h1v1h-1zM52 48h1v1h-1zM9 49h1v1h-1zM50 49h1v1h-1zM9 50h2v1h-2zM49 50h2v1h-2zM9 51h1v1h-1zM10 52h2v1h-2zM47 52h2v1h-2zM43 54h1v1h-1zM46 54h2v1h-2zM10 55h2v1h-2zM43 55h2v1h-2zM42 56h2v1h-2zM42 57h1v1h-1zM12 58h3v1h-3zM19 58h1v1h-1zM42 58h1v1h-1zM11 59h1v1h-1zM13 59h2v1h-2zM17 59h1v1h-1zM41 59h1v1h-1zM15 60h1v1h-1zM39 60h2v1h-2zM19 61h1v1h-1zM35 61h1v1h-1zM37 61h1v1h-1zM39 61h1v1h-1zM23 62h1v1h-1zM28 62h1v1h-1zM31 62h1v1h-1zM34 62h1v1h-1zM38 62h1v1h-1zM24 63h2v1h-2zM27 63h5v1h-5zM26 64h2v1h-2zM30 64h1v1h-1zM32 64h2v1h-2zM30 65h1v1h-1z"/>
<path fill="rgb(173,180,180)" d="M43 0h1v1h-1zM44 1h2v1h-2zM43 2h1v1h-1zM42 3h2v1h-2zM51 3h1v1h-1zM53 3h1v1h-1zM40 4h1v1h-1zM44 4h1v1h-1zM46 4h2v1h-2zM50 4h1v1h-1zM52 4h1v1h-1zM46 5h1v1h-1zM50 5h1v1h-1zM52 5h1v1h-1zM58 5h1v1h-1zM34 6h1v1h-1zM39 6h1v1h-1zM46 6h1v1h-1zM48 6h2v1h-2zM51 6h1v1h-1zM54 6h1v1h-1zM56 6h2v1h-2zM62 6h1v1h-1zM35 7h2v1h-2zM52 7h1v1h-1zM56 7h1v1h-1zM60 7h2v1h-2zM33 8h1v1h-1zM57 8h1v1h-1zM60 9h2v1h-2zM30 10h3v1h-3zM62 10h2v1h-2zM62 11h2v1h-2zM28 13h1v1h-1zM63 13h2v1h-2zM24 14h1v1h-1zM27 14h1v1h-1zM62 14h3v1h-3zM21 15h1v1h-1zM24 15h1v1h-1zM19 17h1v1h-1zM21 17h1v1h-1zM63 17h2v1h-2zM20 18h1v1h-1zM22 18h2v1h-2zM63 18h1v1h-1zM18 19h2v1h-2zM62 19h1v1h-1zM19 20h1v1h-1zM62 20h3v1h-3zM18 21h1v1h-1zM20 21h2v1h-2zM62 22h1v1h-1zM18 23h1v1h-1zM62 23h2v1h-2zM16 24h1v1h-1zM18 24h1v1h-1zM65 24h1v1h-1zM15 25h1v1h-1zM18 25h1v1h-1zM64 25h1v1h-1zM64 26h1v1h-1zM14 27h1v1h-1zM63 27h1v1h-1zM63 28h2v1h-2zM11 29h1v1h-1zM63 29h1v1h-1zM67 29h1v1h-1zM12 30h1v1h-1zM14 30h1v1h-1zM64 30h1v1h-1zM13 31h2v1h-2zM65 31h1v1h-1zM63 32h3v1h-3zM63 33h1v1h-1zM61 34h1v1h-1zM65 34h1v1h-1zM11 35h2v1h-2zM14 35h1v1h-1zM12 36h1v1h-1zM62 36h1v1h-1zM10 37h3v1h-3zM62 37h1v1h-1zM11 38h2v1h-2zM60 38h1v1h-1zM11 39h2v1h-2zM11 40h1v1h-1zM10 42h1v1h-1zM57 42h1v1h-1zM10 43h1v1h-1zM12 43h1v1h-1zM10 44h1v1h-1zM56 44h1v1h-1zM53 45h1v1h-1zM10 47h1v1h-1zM52 47h1v1h-1zM51 48h1v1h-1zM8 49h1v1h-1zM10 49h1v1h-1zM52 49h1v1h-1zM8 50h1v1h-1zM10 51h1v1h-1zM49 51h1v1h-1zM9 52h1v1h-1zM49 52h2v1h-2zM10 53h2v1h-2zM10 54h1v1h-1zM45 55h1v1h-1zM47 55h1v1h-1zM10 56h1v1h-1zM45 56h1v1h-1zM10 57h1v1h-1zM43 57h1v1h-1zM10 58h2v1h-2zM10 59h1v1h-1zM12 59h1v1h-1zM16 59h1v1h-1zM44 59h1v1h-1zM14 60h1v1h-1zM17 60h1v1h-1zM17 61h2v1h-2zM38 61h1v1h-1zM19 62h4v1h-4zM36 62h2v1h-2zM39 62h1v1h-1zM17 63h1v1h-1zM36 63h2v1h-2zM24 64h2v1h-2zM13 65h1v1h-1zM32 65h1v1h-1z"/>
<path fill="rgb(179,186,186)" d="M51 0h1v1h-1zM41 1h2v1h-2zM53 1h1v1h-1zM41 2h1v1h-1zM45 2h1v1h-1zM52 2h1v1h-1zM34 3h2v1h-2zM40 3h2v1h-2zM45 3h3v1h-3zM49 3h2v1h-2zM52 3h1v1h-1zM58 3h1v1h-1zM35 4h1v1h-1zM38 4h2v1h-2zM48 4h2v1h-2zM51 4h1v1h-1zM53 4h1v1h-1zM55 4h2v1h-2zM59 4h1v1h-1zM34 5h2v1h-2zM37 5h1v1h-1zM39 5h1v1h-1zM43 5h1v1h-1zM45 5h1v1h-1zM51 5h1v1h-1zM57 5h1v1h-1zM62 5h1v1h-1zM30 6h1v1h-1zM37 6h2v1h-2zM42 6h2v1h-2zM52 6h2v1h-2zM55 6h1v1h-1zM32 7h3v1h-3zM37 7h1v1h-1zM39 7h1v1h-1zM57 7h1v1h-1zM29 8h1v1h-1zM38 8h1v1h-1zM60 8h1v1h-1zM29 9h2v1h-2zM62 9h1v1h-1zM28 10h2v1h-2zM66 10h1v1h-1zM28 11h1v1h-1zM60 11h1v1h-1zM28 12h1v1h-1zM61 12h1v1h-1zM24 13h1v1h-1zM27 13h1v1h-1zM65 13h1v1h-1zM22 14h1v1h-1zM26 14h1v1h-1zM20 16h1v1h-1zM64 16h1v1h-1zM20 17h1v1h-1zM22 17h1v1h-1zM24 17h1v1h-1zM65 17h1v1h-1zM65 18h1v1h-1zM63 19h1v1h-1zM65 19h1v1h-1zM18 20h1v1h-1zM62 21h4v1h-4zM17 22h1v1h-1zM63 22h3v1h-3zM17 23h1v1h-1zM64 23h1v1h-1zM17 24h1v1h-1zM63 24h2v1h-2zM66 24h1v1h-1zM14 25h1v1h-1zM65 25h1v1h-1zM14 26h1v1h-1zM16 26h1v1h-1zM65 26h1v1h-1zM13 27h1v1h-1zM65 27h2v1h-2zM13 28h1v1h-1zM65 28h1v1h-1zM10 29h1v1h-1zM12 29h1v1h-1zM15 29h1v1h-1zM66 29h1v1h-1zM10 30h1v1h-1zM66 33h1v1h-1zM63 35h1v1h-1zM65 35h1v1h-1zM11 36h1v1h-1zM63 37h1v1h-1zM66 37h1v1h-1zM10 38h1v1h-1zM9 39h1v1h-1zM9 41h1v1h-1zM59 41h1v1h-1zM9 42h1v1h-1zM11 42h1v1h-1zM9 43h1v1h-1zM11 43h1v1h-1zM58 43h1v1h-1zM9 45h1v1h-1zM54 45h4v1h-4zM9 46h1v1h-1zM53 46h5v1h-5zM9 47h1v1h-1zM53 47h1v1h-1zM56 47h1v1h-1zM10 48h1v1h-1zM4 49h2v1h-2zM51 49h1v1h-1zM51 50h2v1h-2zM8 52h1v1h-1zM9 53h1v1h-1zM52 53h1v1h-1zM50 54h1v1h-1zM9 55h1v1h-1zM46 55h1v1h-1zM48 55h2v1h-2zM44 56h1v1h-1zM46 56h1v1h-1zM45 57h1v1h-1zM18 58h1v1h-1zM15 59h1v1h-1zM42 59h1v1h-1zM11 60h3v1h-3zM41 60h1v1h-1zM15 61h2v1h-2zM41 61h1v1h-1zM15 62h1v1h-1zM18 62h1v1h-1zM16 63h1v1h-1zM23 63h1v1h-1zM34 63h2v1h-2zM16 64h1v1h-1zM28 64h2v1h-2zM31 64h1v1h-1zM34 64h1v1h-1zM36 64h1v1h-1zM24 65h2v1h-2zM31 65h1v1h-1zM36 65h1v1h-1zM29 67h3v1h-3zM31 68h1v1h-1z"/>
<path fill="rgb(185,192,192)" d="M41 0h2v1h-2zM50 0h1v1h-1zM65 0h1v1h-1zM43 1h1v1h-1zM47 1h1v1h-1zM52 1h1v1h-1zM40 2h1v1h-1zM44 2h1v1h-1zM47 2h1v1h-1zM53 2h1v1h-1zM59 2h2v1h-2zM38 3h2v1h-2zM44 3h1v1h-1zM55 3h1v1h-1zM59 3h1v1h-1zM62 3h2v1h-2zM34 4h1v1h-1zM58 4h1v1h-1zM60 4h1v1h-1zM62 4h2v1h-2zM36 5h1v1h-1zM38 5h1v1h-1zM42 5h1v1h-1zM53 5h2v1h-2zM56 5h1v1h-1zM59 5h1v1h-1zM31 6h2v1h-2zM35 6h2v1h-2zM60 6h1v1h-1zM29 7h1v1h-1zM38 7h1v1h-1zM65 7h1v1h-1zM28 8h1v1h-1zM32 8h1v1h-1zM62 8h1v1h-1zM67 9h1v1h-1zM64 10h1v1h-1zM25 11h1v1h-1zM27 11h1v1h-1zM61 11h1v1h-1zM25 12h1v1h-1zM65 12h1v1h-1zM67 12h1v1h-1zM22 13h1v1h-1zM23 14h1v1h-1zM64 15h1v1h-1zM21 16h1v1h-1zM67 16h1v1h-1zM18 17h1v1h-1zM18 18h2v1h-2zM17 19h1v1h-1zM16 20h1v1h-1zM16 21h2v1h-2zM68 22h1v1h-1zM16 23h1v1h-1zM65 23h1v1h-1zM12 27h1v1h-1zM66 28h1v1h-1zM64 29h1v1h-1zM65 30h1v1h-1zM67 30h1v1h-1zM66 31h1v1h-1zM10 32h1v1h-1zM11 33h1v1h-1zM65 33h1v1h-1zM64 35h1v1h-1zM10 36h1v1h-1zM63 36h2v1h-2zM9 37h1v1h-1zM61 37h1v1h-1zM67 37h1v1h-1zM8 38h2v1h-2zM61 38h3v1h-3zM66 38h2v1h-2zM10 39h1v1h-1zM61 39h1v1h-1zM7 40h1v1h-1zM10 40h1v1h-1zM8 41h1v1h-1zM10 41h1v1h-1zM58 41h1v1h-1zM7 42h1v1h-1zM58 42h2v1h-2zM62 42h1v1h-1zM6 43h1v1h-1zM8 43h1v1h-1zM60 43h2v1h-2zM8 44h2v1h-2zM60 44h2v1h-2zM5 45h1v1h-1zM7 46h1v1h-1zM7 47h2v1h-2zM4 48h2v1h-2zM8 48h2v1h-2zM53 48h1v1h-1zM53 49h1v1h-1zM55 50h1v1h-1zM6 51h1v1h-1zM8 51h1v1h-1zM50 51h4v1h-4zM51 52h2v1h-2zM8 53h1v1h-1zM49 53h3v1h-3zM53 53h1v1h-1zM9 54h1v1h-1zM48 54h1v1h-1zM52 54h1v1h-1zM9 56h1v1h-1zM48 56h1v1h-1zM44 57h1v1h-1zM44 58h1v1h-1zM45 59h1v1h-1zM9 60h2v1h-2zM42 60h1v1h-1zM13 61h2v1h-2zM40 61h1v1h-1zM14 62h1v1h-1zM16 62h2v1h-2zM41 62h1v1h-1zM10 63h1v1h-1zM20 63h3v1h-3zM17 64h1v1h-1zM23 64h1v1h-1zM37 64h1v1h-1zM15 65h1v1h-1zM17 65h1v1h-1zM21 65h3v1h-3zM26 65h1v1h-1zM33 65h1v1h-1zM14 66h1v1h-1zM22 66h2v1h-2zM30 66h4v1h-4zM36 66h1v1h-1zM15 67h1v1h-1zM28 68h1v1h-1z"/>
<path fill="rgb(191,198,198)" d="M40 0h1v1h-1zM44 0h3v1h-3zM49 0h1v1h-1zM53 0h1v1h-1zM62 0h1v1h-1zM64 0h1v1h-1zM66 0h1v1h-1zM46 1h1v1h-1zM50 1h2v1h-2zM56 1h2v1h-2zM66 1h1v1h-1zM36 2h1v1h-1zM39 2h1v1h-1zM46 2h1v1h-1zM51 2h1v1h-1zM56 2h2v1h-2zM61 2h1v1h-1zM64 2h1v1h-1zM36 3h2v1h-2zM48 3h1v1h-1zM54 3h1v1h-1zM57 3h1v1h-1zM64 3h1v1h-1zM30 4h1v1h-1zM32 4h1v1h-1zM36 4h2v1h-2zM54 4h1v1h-1zM57 4h1v1h-1zM30 5h2v1h-2zM61 5h1v1h-1zM63 5h1v1h-1zM29 6h1v1h-1zM61 6h1v1h-1zM63 6h1v1h-1zM28 7h1v1h-1zM62 7h2v1h-2zM26 8h2v1h-2zM31 8h1v1h-1zM63 8h1v1h-1zM28 9h1v1h-1zM31 9h1v1h-1zM63 9h2v1h-2zM25 10h1v1h-1zM65 10h1v1h-1zM67 10h1v1h-1zM24 11h1v1h-1zM26 11h1v1h-1zM64 11h1v1h-1zM66 11h2v1h-2zM24 12h1v1h-1zM27 12h1v1h-1zM66 12h1v1h-1zM68 12h1v1h-1zM21 13h1v1h-1zM23 13h1v1h-1zM26 13h1v1h-1zM20 14h2v1h-2zM20 15h1v1h-1zM65 15h1v1h-1zM67 15h1v1h-1zM65 16h2v1h-2zM17 17h1v1h-1zM16 18h1v1h-1zM16 19h1v1h-1zM66 19h1v1h-1zM70 19h1v1h-1zM17 20h1v1h-1zM65 20h1v1h-1zM71 20h1v1h-1zM15 22h2v1h-2zM66 22h1v1h-1zM66 23h2v1h-2zM15 24h1v1h-1zM12 25h1v1h-1zM66 25h1v1h-1zM11 26h1v1h-1zM66 26h1v1h-1zM67 27h2v1h-2zM11 28h2v1h-2zM67 28h1v1h-1zM14 29h1v1h-1zM65 29h1v1h-1zM68 29h1v1h-1zM8 31h1v1h-1zM11 31h1v1h-1zM9 32h1v1h-1zM11 32h1v1h-1zM10 33h1v1h-1zM67 33h1v1h-1zM9 34h2v1h-2zM66 34h1v1h-1zM6 35h4v1h-4zM8 36h2v1h-2zM65 36h3v1h-3zM64 37h2v1h-2zM7 39h2v1h-2zM60 39h1v1h-1zM6 40h1v1h-1zM8 40h2v1h-2zM62 40h1v1h-1zM65 40h1v1h-1zM6 41h2v1h-2zM60 41h1v1h-1zM62 41h1v1h-1zM8 42h1v1h-1zM63 42h1v1h-1zM59 43h1v1h-1zM7 44h1v1h-1zM11 44h1v1h-1zM58 44h1v1h-1zM3 45h1v1h-1zM7 45h2v1h-2zM58 45h1v1h-1zM3 46h1v1h-1zM6 46h1v1h-1zM8 46h1v1h-1zM58 46h1v1h-1zM1 47h1v1h-1zM3 47h1v1h-1zM54 47h1v1h-1zM57 47h2v1h-2zM60 47h1v1h-1zM56 48h2v1h-2zM59 48h1v1h-1zM3 49h1v1h-1zM54 49h3v1h-3zM58 49h1v1h-1zM4 50h2v1h-2zM53 50h1v1h-1zM7 51h1v1h-1zM56 51h1v1h-1zM7 52h1v1h-1zM57 52h1v1h-1zM48 53h1v1h-1zM54 53h1v1h-1zM53 54h1v1h-1zM8 55h1v1h-1zM51 55h1v1h-1zM54 55h1v1h-1zM47 56h1v1h-1zM49 56h1v1h-1zM54 56h1v1h-1zM9 57h1v1h-1zM46 57h2v1h-2zM7 58h1v1h-1zM9 58h1v1h-1zM43 58h1v1h-1zM45 58h1v1h-1zM43 59h1v1h-1zM46 59h1v1h-1zM4 60h2v1h-2zM43 60h3v1h-3zM8 61h5v1h-5zM13 62h1v1h-1zM40 62h1v1h-1zM12 63h1v1h-1zM15 63h1v1h-1zM19 63h1v1h-1zM38 63h2v1h-2zM42 63h1v1h-1zM15 64h1v1h-1zM20 64h3v1h-3zM35 64h1v1h-1zM2 65h1v1h-1zM12 65h1v1h-1zM14 65h1v1h-1zM28 65h2v1h-2zM34 65h2v1h-2zM37 65h1v1h-1zM12 66h1v1h-1zM24 66h2v1h-2zM28 66h2v1h-2zM37 66h1v1h-1zM14 67h1v1h-1zM33 67h1v1h-1zM37 67h1v1h-1zM15 68h1v1h-1zM30 68h1v1h-1zM8 69h1v1h-1zM12 69h1v1h-1zM22 69h1v1h-1zM29 69h1v1h-1zM36 69h1v1h-1zM12 70h1v1h-1zM23 70h1v1h-1z"/>
<path fill="rgb(197,204,204)" d="M39 0h1v1h-1zM47 0h2v1h-2zM52 0h1v1h-1zM54 0h1v1h-1zM56 0h2v1h-2zM63 0h1v1h-1zM67 0h1v1h-1zM33 1h1v1h-1zM37 1h4v1h-4zM61 1h1v1h-1zM65 1h1v1h-1zM67 1h1v1h-1zM33 2h1v1h-1zM37 2h2v1h-2zM48 2h3v1h-3zM55 2h1v1h-1zM58 2h1v1h-1zM62 2h1v1h-1zM66 2h2v1h-2zM31 3h1v1h-1zM56 3h1v1h-1zM61 3h1v1h-1zM31 4h1v1h-1zM33 4h1v1h-1zM61 4h1v1h-1zM25 5h1v1h-1zM29 5h1v1h-1zM32 5h2v1h-2zM55 5h1v1h-1zM60 5h1v1h-1zM64 5h2v1h-2zM33 6h1v1h-1zM70 6h1v1h-1zM24 7h2v1h-2zM27 7h1v1h-1zM30 7h2v1h-2zM64 7h1v1h-1zM24 8h2v1h-2zM64 8h1v1h-1zM66 8h1v1h-1zM20 9h1v1h-1zM66 9h1v1h-1zM20 10h2v1h-2zM27 10h1v1h-1zM65 11h1v1h-1zM26 12h1v1h-1zM64 12h1v1h-1zM66 13h1v1h-1zM19 14h1v1h-1zM66 15h1v1h-1zM23 16h1v1h-1zM66 17h1v1h-1zM15 18h1v1h-1zM17 18h1v1h-1zM66 18h1v1h-1zM15 19h1v1h-1zM67 19h1v1h-1zM66 20h1v1h-1zM70 20h1v1h-1zM15 21h1v1h-1zM67 21h1v1h-1zM69 21h1v1h-1zM14 22h1v1h-1zM12 23h1v1h-1zM14 23h1v1h-1zM11 24h2v1h-2zM14 24h1v1h-1zM5 25h1v1h-1zM10 25h1v1h-1zM13 25h1v1h-1zM10 26h1v1h-1zM13 26h1v1h-1zM11 27h1v1h-1zM70 27h1v1h-1zM10 28h1v1h-1zM69 28h1v1h-1zM7 29h1v1h-1zM4 30h1v1h-1zM6 30h2v1h-2zM68 30h1v1h-1zM9 31h2v1h-2zM8 32h1v1h-1zM66 32h2v1h-2zM6 33h4v1h-4zM6 34h1v1h-1zM8 34h1v1h-1zM11 34h1v1h-1zM66 35h1v1h-1zM4 36h4v1h-4zM7 37h2v1h-2zM68 37h1v1h-1zM2 38h6v1h-6zM64 38h2v1h-2zM5 39h2v1h-2zM63 39h2v1h-2zM66 39h1v1h-1zM0 40h1v1h-1zM5 40h1v1h-1zM63 40h2v1h-2zM61 41h1v1h-1zM63 41h1v1h-1zM0 42h2v1h-2zM6 42h1v1h-1zM60 42h2v1h-2zM64 42h2v1h-2zM7 43h1v1h-1zM5 44h2v1h-2zM59 44h1v1h-1zM62 44h1v1h-1zM2 45h1v1h-1zM4 45h1v1h-1zM6 45h1v1h-1zM62 45h2v1h-2zM1 46h1v1h-1zM4 46h1v1h-1zM62 46h2v1h-2zM4 47h2v1h-2zM55 47h1v1h-1zM61 47h1v1h-1zM0 48h1v1h-1zM2 48h1v1h-1zM7 48h1v1h-1zM54 48h1v1h-1zM0 49h1v1h-1zM7 49h1v1h-1zM1 50h1v1h-1zM3 50h1v1h-1zM6 50h2v1h-2zM54 50h1v1h-1zM56 50h1v1h-1zM54 51h1v1h-1zM57 51h1v1h-1zM2 52h1v1h-1zM54 52h3v1h-3zM5 53h3v1h-3zM55 53h1v1h-1zM6 54h1v1h-1zM49 54h1v1h-1zM51 54h1v1h-1zM54 54h1v1h-1zM56 54h1v1h-1zM5 55h1v1h-1zM52 55h1v1h-1zM55 55h1v1h-1zM50 56h4v1h-4zM7 57h2v1h-2zM49 57h1v1h-1zM6 58h1v1h-1zM46 58h1v1h-1zM4 59h3v1h-3zM8 59h2v1h-2zM47 59h3v1h-3zM51 59h1v1h-1zM53 59h1v1h-1zM6 60h3v1h-3zM46 60h4v1h-4zM6 61h1v1h-1zM42 61h2v1h-2zM45 61h2v1h-2zM2 62h1v1h-1zM8 62h1v1h-1zM10 62h3v1h-3zM44 62h2v1h-2zM5 63h1v1h-1zM7 63h1v1h-1zM9 63h1v1h-1zM11 63h1v1h-1zM13 63h2v1h-2zM18 63h1v1h-1zM40 63h1v1h-1zM43 63h2v1h-2zM0 64h1v1h-1zM11 64h4v1h-4zM38 64h3v1h-3zM42 64h1v1h-1zM44 64h1v1h-1zM10 65h1v1h-1zM19 65h2v1h-2zM27 65h1v1h-1zM38 65h1v1h-1zM40 65h1v1h-1zM13 66h1v1h-1zM15 66h3v1h-3zM20 66h1v1h-1zM26 66h2v1h-2zM34 66h2v1h-2zM41 66h1v1h-1zM7 67h1v1h-1zM9 67h1v1h-1zM11 67h1v1h-1zM16 67h1v1h-1zM20 67h2v1h-2zM23 67h1v1h-1zM28 67h1v1h-1zM32 67h1v1h-1zM36 67h1v1h-1zM48 67h1v1h-1zM52 67h1v1h-1zM11 68h1v1h-1zM16 68h1v1h-1zM20 68h1v1h-1zM29 68h1v1h-1zM32 68h2v1h-2zM36 68h1v1h-1zM48 68h1v1h-1zM13 69h1v1h-1zM21 69h1v1h-1zM23 69h1v1h-1zM26 69h2v1h-2zM32 69h2v1h-2zM35 69h1v1h-1zM21 70h2v1h-2zM24 70h1v1h-1zM28 70h2v1h-2zM32 70h1v1h-1zM34 70h2v1h-2z"/>
<path fill="rgb(203,210,210)" d="M26 0h1v1h-1zM33 0h6v1h-6zM55 0h1v1h-1zM58 0h2v1h-2zM34 1h3v1h-3zM48 1h2v1h-2zM54 1h1v1h-1zM58 1h3v1h-3zM62 1h3v1h-3zM35 2h1v1h-1zM54 2h1v1h-1zM65 2h1v1h-1zM68 2h1v1h-1zM30 3h1v1h-1zM32 3h2v1h-2zM60 3h1v1h-1zM65 3h1v1h-1zM68 3h1v1h-1zM70 3h1v1h-1zM24 4h1v1h-1zM28 4h2v1h-2zM64 4h2v1h-2zM66 5h1v1h-1zM68 5h1v1h-1zM71 5h1v1h-1zM27 6h2v1h-2zM64 6h1v1h-1zM67 6h2v1h-2zM26 7h1v1h-1zM66 7h1v1h-1zM23 8h1v1h-1zM30 8h1v1h-1zM65 8h1v1h-1zM68 8h2v1h-2zM23 9h1v1h-1zM26 9h2v1h-2zM65 9h1v1h-1zM70 9h2v1h-2zM23 10h2v1h-2zM26 10h1v1h-1zM22 11h2v1h-2zM68 11h1v1h-1zM21 12h1v1h-1zM23 12h1v1h-1zM69 12h1v1h-1zM18 13h3v1h-3zM68 13h1v1h-1zM17 14h2v1h-2zM67 14h2v1h-2zM17 15h1v1h-1zM22 15h2v1h-2zM71 15h1v1h-1zM17 16h3v1h-3zM22 16h1v1h-1zM71 16h1v1h-1zM15 17h2v1h-2zM68 17h2v1h-2zM71 17h1v1h-1zM67 18h1v1h-1zM70 18h1v1h-1zM11 19h1v1h-1zM14 19h1v1h-1zM71 19h1v1h-1zM10 20h2v1h-2zM15 20h1v1h-1zM66 21h1v1h-1zM68 21h1v1h-1zM10 22h2v1h-2zM67 22h1v1h-1zM11 23h1v1h-1zM13 23h1v1h-1zM68 23h1v1h-1zM71 23h1v1h-1zM8 24h1v1h-1zM13 24h1v1h-1zM67 24h2v1h-2zM3 25h1v1h-1zM11 25h1v1h-1zM67 25h2v1h-2zM4 26h1v1h-1zM12 26h1v1h-1zM67 26h1v1h-1zM4 27h2v1h-2zM7 27h1v1h-1zM10 27h1v1h-1zM69 27h1v1h-1zM6 28h1v1h-1zM68 28h1v1h-1zM70 28h1v1h-1zM4 29h3v1h-3zM5 30h1v1h-1zM9 30h1v1h-1zM69 30h1v1h-1zM6 31h1v1h-1zM67 31h3v1h-3zM71 31h1v1h-1zM69 32h1v1h-1zM5 33h1v1h-1zM70 33h1v1h-1zM7 34h1v1h-1zM67 34h1v1h-1zM71 34h1v1h-1zM5 35h1v1h-1zM67 35h1v1h-1zM3 36h1v1h-1zM68 36h1v1h-1zM2 37h5v1h-5zM0 38h1v1h-1zM68 38h1v1h-1zM1 39h1v1h-1zM4 39h1v1h-1zM62 39h1v1h-1zM65 39h1v1h-1zM67 39h1v1h-1zM1 40h1v1h-1zM4 40h1v1h-1zM60 40h2v1h-2zM0 41h2v1h-2zM4 41h1v1h-1zM64 41h2v1h-2zM5 42h1v1h-1zM1 43h1v1h-1zM4 43h1v1h-1zM62 43h1v1h-1zM3 44h2v1h-2zM64 44h2v1h-2zM1 45h1v1h-1zM59 45h1v1h-1zM64 45h2v1h-2zM2 46h1v1h-1zM5 46h1v1h-1zM59 46h3v1h-3zM64 46h1v1h-1zM0 47h1v1h-1zM2 47h1v1h-1zM6 47h1v1h-1zM59 47h1v1h-1zM1 48h1v1h-1zM3 48h1v1h-1zM6 48h1v1h-1zM55 48h1v1h-1zM58 48h1v1h-1zM60 48h2v1h-2zM1 49h1v1h-1zM6 49h1v1h-1zM57 49h1v1h-1zM63 49h1v1h-1zM0 50h1v1h-1zM2 50h1v1h-1zM57 50h1v1h-1zM63 50h1v1h-1zM1 51h1v1h-1zM55 51h1v1h-1zM60 51h1v1h-1zM62 51h1v1h-1zM66 51h1v1h-1zM0 52h1v1h-1zM6 52h1v1h-1zM56 53h2v1h-2zM4 54h1v1h-1zM7 54h2v1h-2zM55 54h1v1h-1zM0 55h2v1h-2zM3 55h1v1h-1zM7 55h1v1h-1zM50 55h1v1h-1zM53 55h1v1h-1zM0 56h3v1h-3zM5 56h1v1h-1zM7 56h2v1h-2zM55 56h1v1h-1zM3 57h2v1h-2zM6 57h1v1h-1zM48 57h1v1h-1zM50 57h1v1h-1zM3 58h3v1h-3zM8 58h1v1h-1zM51 58h1v1h-1zM7 59h1v1h-1zM52 59h1v1h-1zM2 60h2v1h-2zM50 60h1v1h-1zM2 61h1v1h-1zM7 61h1v1h-1zM44 61h1v1h-1zM9 62h1v1h-1zM42 62h2v1h-2zM46 62h1v1h-1zM48 62h1v1h-1zM0 63h1v1h-1zM4 63h1v1h-1zM6 63h1v1h-1zM8 63h1v1h-1zM41 63h1v1h-1zM49 63h1v1h-1zM4 64h1v1h-1zM7 64h1v1h-1zM9 64h2v1h-2zM19 64h1v1h-1zM43 64h1v1h-1zM48 64h1v1h-1zM7 65h2v1h-2zM11 65h1v1h-1zM16 65h1v1h-1zM18 65h1v1h-1zM41 65h2v1h-2zM44 65h1v1h-1zM2 66h2v1h-2zM18 66h1v1h-1zM21 66h1v1h-1zM47 66h1v1h-1zM6 67h1v1h-1zM10 67h1v1h-1zM12 67h2v1h-2zM17 67h3v1h-3zM25 67h1v1h-1zM27 67h1v1h-1zM34 67h2v1h-2zM38 67h1v1h-1zM40 67h1v1h-1zM42 67h2v1h-2zM45 67h1v1h-1zM2 68h1v1h-1zM7 68h1v1h-1zM10 68h1v1h-1zM14 68h1v1h-1zM18 68h2v1h-2zM21 68h1v1h-1zM24 68h3v1h-3zM37 68h1v1h-1zM42 68h1v1h-1zM4 69h2v1h-2zM10 69h1v1h-1zM17 69h1v1h-1zM20 69h1v1h-1zM24 69h1v1h-1zM28 69h1v1h-1zM30 69h1v1h-1zM34 69h1v1h-1zM37 69h1v1h-1zM41 69h1v1h-1zM3 70h1v1h-1zM5 70h1v1h-1zM8 70h1v1h-1zM10 70h2v1h-2zM13 70h1v1h-1zM19 70h2v1h-2zM27 70h1v1h-1zM43 70h1v1h-1zM4 71h2v1h-2zM10 71h1v1h-1zM16 71h1v1h-1zM21 71h1v1h-1zM24 71h2v1h-2zM38 71h1v1h-1z"/>
<path fill="rgb(209,216,216)" d="M27 0h1v1h-1zM31 0h2v1h-2zM60 0h2v1h-2zM68 0h1v1h-1zM70 0h1v1h-1zM21 1h2v1h-2zM24 1h2v1h-2zM31 1h2v1h-2zM55 1h1v1h-1zM68 1h1v1h-1zM22 2h1v1h-1zM24 2h3v1h-3zM29 2h4v1h-4zM34 2h1v1h-1zM63 2h1v1h-1zM17 3h1v1h-1zM23 3h1v1h-1zM25 3h1v1h-1zM28 3h1v1h-1zM66 3h2v1h-2zM69 3h1v1h-1zM25 4h1v1h-1zM66 4h1v1h-1zM68 4h2v1h-2zM71 4h1v1h-1zM24 5h1v1h-1zM27 5h2v1h-2zM67 5h1v1h-1zM69 5h2v1h-2zM18 6h2v1h-2zM24 6h3v1h-3zM65 6h2v1h-2zM69 6h1v1h-1zM71 6h1v1h-1zM18 7h1v1h-1zM23 7h1v1h-1zM67 7h2v1h-2zM70 7h1v1h-1zM19 8h1v1h-1zM21 8h1v1h-1zM67 8h1v1h-1zM18 9h1v1h-1zM21 9h1v1h-1zM24 9h2v1h-2zM18 10h2v1h-2zM68 10h1v1h-1zM20 11h2v1h-2zM69 11h3v1h-3zM14 12h1v1h-1zM70 12h1v1h-1zM11 13h1v1h-1zM67 13h1v1h-1zM69 13h2v1h-2zM66 14h1v1h-1zM69 14h2v1h-2zM11 15h1v1h-1zM15 15h2v1h-2zM18 15h2v1h-2zM70 15h1v1h-1zM10 16h1v1h-1zM14 16h3v1h-3zM69 16h1v1h-1zM10 17h1v1h-1zM67 17h1v1h-1zM70 17h1v1h-1zM6 18h1v1h-1zM13 18h2v1h-2zM71 18h1v1h-1zM8 19h3v1h-3zM68 19h1v1h-1zM3 20h1v1h-1zM8 20h1v1h-1zM67 20h1v1h-1zM11 21h1v1h-1zM14 21h1v1h-1zM69 22h2v1h-2zM8 23h3v1h-3zM15 23h1v1h-1zM69 23h2v1h-2zM7 24h1v1h-1zM9 24h1v1h-1zM70 24h2v1h-2zM4 25h1v1h-1zM6 25h4v1h-4zM69 25h1v1h-1zM6 26h1v1h-1zM8 26h2v1h-2zM68 26h1v1h-1zM3 27h1v1h-1zM6 27h1v1h-1zM8 27h1v1h-1zM71 27h1v1h-1zM2 28h2v1h-2zM5 28h1v1h-1zM7 28h3v1h-3zM71 28h1v1h-1zM3 29h1v1h-1zM69 29h3v1h-3zM3 30h1v1h-1zM8 30h1v1h-1zM71 30h1v1h-1zM5 31h1v1h-1zM7 31h1v1h-1zM70 31h1v1h-1zM3 32h1v1h-1zM6 32h2v1h-2zM68 32h1v1h-1zM3 33h2v1h-2zM68 33h1v1h-1zM1 34h1v1h-1zM69 34h1v1h-1zM3 35h2v1h-2zM68 35h1v1h-1zM70 35h1v1h-1zM2 36h1v1h-1zM70 36h1v1h-1zM1 37h1v1h-1zM69 37h1v1h-1zM3 39h1v1h-1zM70 39h1v1h-1zM3 40h1v1h-1zM66 40h2v1h-2zM3 41h1v1h-1zM66 41h2v1h-2zM2 42h1v1h-1zM66 42h1v1h-1zM69 42h1v1h-1zM2 43h2v1h-2zM5 43h1v1h-1zM63 43h1v1h-1zM0 44h1v1h-1zM2 44h1v1h-1zM67 44h1v1h-1zM0 45h1v1h-1zM61 45h1v1h-1zM66 45h1v1h-1zM0 46h1v1h-1zM65 46h2v1h-2zM62 47h1v1h-1zM64 47h1v1h-1zM62 48h2v1h-2zM65 48h1v1h-1zM2 49h1v1h-1zM62 49h1v1h-1zM58 50h2v1h-2zM62 50h1v1h-1zM66 50h1v1h-1zM0 51h1v1h-1zM2 51h2v1h-2zM5 51h1v1h-1zM59 51h1v1h-1zM61 51h1v1h-1zM53 52h1v1h-1zM62 52h1v1h-1zM66 52h1v1h-1zM4 53h1v1h-1zM63 53h2v1h-2zM5 54h1v1h-1zM57 54h1v1h-1zM61 54h1v1h-1zM63 54h1v1h-1zM2 55h1v1h-1zM4 55h1v1h-1zM6 55h1v1h-1zM56 55h1v1h-1zM62 55h2v1h-2zM67 55h2v1h-2zM3 56h2v1h-2zM6 56h1v1h-1zM57 56h1v1h-1zM2 57h1v1h-1zM5 57h1v1h-1zM51 57h1v1h-1zM58 57h1v1h-1zM2 58h1v1h-1zM47 58h4v1h-4zM54 58h1v1h-1zM2 59h2v1h-2zM50 59h1v1h-1zM54 59h2v1h-2zM51 60h1v1h-1zM3 61h3v1h-3zM48 61h3v1h-3zM53 61h1v1h-1zM3 62h5v1h-5zM47 62h1v1h-1zM49 62h2v1h-2zM52 62h1v1h-1zM1 63h1v1h-1zM45 63h2v1h-2zM48 63h1v1h-1zM57 63h1v1h-1zM1 64h1v1h-1zM5 64h2v1h-2zM8 64h1v1h-1zM18 64h1v1h-1zM41 64h1v1h-1zM47 64h1v1h-1zM52 64h2v1h-2zM1 65h1v1h-1zM3 65h1v1h-1zM6 65h1v1h-1zM39 65h1v1h-1zM46 65h3v1h-3zM0 66h1v1h-1zM7 66h3v1h-3zM11 66h1v1h-1zM19 66h1v1h-1zM38 66h3v1h-3zM43 66h1v1h-1zM46 66h1v1h-1zM49 66h1v1h-1zM2 67h2v1h-2zM5 67h1v1h-1zM22 67h1v1h-1zM24 67h1v1h-1zM26 67h1v1h-1zM44 67h1v1h-1zM49 67h3v1h-3zM4 68h1v1h-1zM6 68h1v1h-1zM9 68h1v1h-1zM17 68h1v1h-1zM22 68h1v1h-1zM35 68h1v1h-1zM40 68h2v1h-2zM43 68h1v1h-1zM46 68h1v1h-1zM49 68h1v1h-1zM7 69h1v1h-1zM9 69h1v1h-1zM11 69h1v1h-1zM18 69h2v1h-2zM25 69h1v1h-1zM40 69h1v1h-1zM4 70h1v1h-1zM9 70h1v1h-1zM15 70h1v1h-1zM18 70h1v1h-1zM25 70h2v1h-2zM30 70h2v1h-2zM33 70h1v1h-1zM36 70h2v1h-2zM6 71h3v1h-3zM12 71h1v1h-1zM17 71h1v1h-1zM20 71h1v1h-1zM26 71h1v1h-1zM28 71h2v1h-2z"/>
<path fill="rgb(215,222,222)" d="M21 0h1v1h-1zM24 0h2v1h-2zM29 0h2v1h-2zM69 0h1v1h-1zM71 0h1v1h-1zM23 1h1v1h-1zM29 1h1v1h-1zM70 1h1v1h-1zM21 2h1v1h-1zM23 2h1v1h-1zM27 2h1v1h-1zM69 2h2v1h-2zM22 3h1v1h-1zM27 3h1v1h-1zM29 3h1v1h-1zM19 4h1v1h-1zM22 4h2v1h-2zM67 4h1v1h-1zM70 4h1v1h-1zM18 5h1v1h-1zM21 5h1v1h-1zM23 5h1v1h-1zM26 5h1v1h-1zM21 6h2v1h-2zM19 7h1v1h-1zM21 7h2v1h-2zM69 7h1v1h-1zM71 7h1v1h-1zM18 8h1v1h-1zM20 8h1v1h-1zM22 8h1v1h-1zM71 8h1v1h-1zM22 9h1v1h-1zM68 9h2v1h-2zM16 10h1v1h-1zM22 10h1v1h-1zM69 10h3v1h-3zM9 11h1v1h-1zM17 11h3v1h-3zM15 12h1v1h-1zM17 12h3v1h-3zM22 12h1v1h-1zM71 12h1v1h-1zM5 13h1v1h-1zM9 13h2v1h-2zM17 13h1v1h-1zM6 14h1v1h-1zM8 14h1v1h-1zM10 14h2v1h-2zM13 14h1v1h-1zM15 14h2v1h-2zM71 14h1v1h-1zM14 15h1v1h-1zM9 16h1v1h-1zM11 16h1v1h-1zM13 16h1v1h-1zM68 16h1v1h-1zM70 16h1v1h-1zM6 17h3v1h-3zM11 17h1v1h-1zM13 17h1v1h-1zM7 18h2v1h-2zM11 18h2v1h-2zM68 18h2v1h-2zM0 19h1v1h-1zM2 19h2v1h-2zM6 19h1v1h-1zM12 19h2v1h-2zM69 19h1v1h-1zM7 20h1v1h-1zM9 20h1v1h-1zM12 20h3v1h-3zM68 20h1v1h-1zM5 21h2v1h-2zM8 21h1v1h-1zM10 21h1v1h-1zM12 21h2v1h-2zM70 21h2v1h-2zM1 22h1v1h-1zM5 22h2v1h-2zM8 22h2v1h-2zM13 22h1v1h-1zM71 22h1v1h-1zM6 23h2v1h-2zM4 24h3v1h-3zM10 24h1v1h-1zM69 24h1v1h-1zM0 25h1v1h-1zM2 25h1v1h-1zM2 26h2v1h-2zM5 26h1v1h-1zM7 26h1v1h-1zM69 26h1v1h-1zM9 27h1v1h-1zM4 28h1v1h-1zM8 29h2v1h-2zM0 30h3v1h-3zM70 30h1v1h-1zM3 31h1v1h-1zM0 32h1v1h-1zM2 32h1v1h-1zM4 32h2v1h-2zM70 32h2v1h-2zM0 33h1v1h-1zM69 33h1v1h-1zM71 33h1v1h-1zM0 34h1v1h-1zM3 34h1v1h-1zM5 34h1v1h-1zM68 34h1v1h-1zM70 34h1v1h-1zM2 35h1v1h-1zM69 35h1v1h-1zM71 35h1v1h-1zM71 36h1v1h-1zM71 37h1v1h-1zM1 38h1v1h-1zM69 38h1v1h-1zM0 39h1v1h-1zM71 39h1v1h-1zM2 40h1v1h-1zM71 40h1v1h-1zM2 41h1v1h-1zM5 41h1v1h-1zM68 41h2v1h-2zM71 41h1v1h-1zM3 42h2v1h-2zM67 42h2v1h-2zM65 43h3v1h-3zM69 43h1v1h-1zM63 44h1v1h-1zM66 44h1v1h-1zM60 45h1v1h-1zM67 45h1v1h-1zM68 46h1v1h-1zM71 46h1v1h-1zM63 47h1v1h-1zM66 47h2v1h-2zM69 47h1v1h-1zM67 48h1v1h-1zM70 48h1v1h-1zM59 49h1v1h-1zM65 49h2v1h-2zM68 49h1v1h-1zM65 50h1v1h-1zM58 51h1v1h-1zM63 51h1v1h-1zM67 51h1v1h-1zM1 52h1v1h-1zM3 52h2v1h-2zM59 52h3v1h-3zM63 52h1v1h-1zM65 52h1v1h-1zM0 53h2v1h-2zM3 53h1v1h-1zM60 53h3v1h-3zM66 53h1v1h-1zM0 54h2v1h-2zM60 54h1v1h-1zM66 54h1v1h-1zM64 55h1v1h-1zM66 55h1v1h-1zM56 56h1v1h-1zM63 56h1v1h-1zM69 56h1v1h-1zM52 57h1v1h-1zM54 57h3v1h-3zM59 57h1v1h-1zM0 58h1v1h-1zM58 58h2v1h-2zM62 59h1v1h-1zM52 60h1v1h-1zM54 60h2v1h-2zM57 60h1v1h-1zM0 61h1v1h-1zM47 61h1v1h-1zM55 61h1v1h-1zM0 62h2v1h-2zM51 62h1v1h-1zM47 63h1v1h-1zM50 63h1v1h-1zM52 63h1v1h-1zM54 63h2v1h-2zM45 64h2v1h-2zM49 64h1v1h-1zM54 64h1v1h-1zM56 64h1v1h-1zM58 64h1v1h-1zM0 65h1v1h-1zM5 65h1v1h-1zM9 65h1v1h-1zM43 65h1v1h-1zM45 65h1v1h-1zM49 65h1v1h-1zM52 65h2v1h-2zM57 65h1v1h-1zM1 66h1v1h-1zM4 66h2v1h-2zM10 66h1v1h-1zM42 66h1v1h-1zM44 66h2v1h-2zM48 66h1v1h-1zM0 67h2v1h-2zM4 67h1v1h-1zM8 67h1v1h-1zM39 67h1v1h-1zM41 67h1v1h-1zM46 67h2v1h-2zM53 67h1v1h-1zM3 68h1v1h-1zM5 68h1v1h-1zM8 68h1v1h-1zM12 68h2v1h-2zM23 68h1v1h-1zM27 68h1v1h-1zM34 68h1v1h-1zM38 68h1v1h-1zM45 68h1v1h-1zM0 69h4v1h-4zM14 69h3v1h-3zM31 69h1v1h-1zM38 69h1v1h-1zM42 69h2v1h-2zM50 69h2v1h-2zM2 70h1v1h-1zM6 70h1v1h-1zM14 70h1v1h-1zM16 70h1v1h-1zM40 70h2v1h-2zM1 71h1v1h-1zM9 71h1v1h-1zM11 71h1v1h-1zM13 71h2v1h-2zM18 71h2v1h-2zM22 71h2v1h-2zM27 71h1v1h-1zM31 71h2v1h-2zM35 71h1v1h-1zM37 71h1v1h-1zM39 71h2v1h-2zM47 71h1v1h-1z"/>
<path fill="rgb(226,228,228)" d="M22 0h1v1h-1zM28 0h1v1h-1zM0 1h2v1h-2zM11 1h1v1h-1zM18 1h2v1h-2zM26 1h1v1h-1zM28 1h1v1h-1zM30 1h1v1h-1zM69 1h1v1h-1zM71 1h1v1h-1zM1 2h1v1h-1zM18 2h1v1h-1zM20 2h1v1h-1zM28 2h1v1h-1zM71 2h1v1h-1zM18 3h1v1h-1zM20 3h1v1h-1zM24 3h1v1h-1zM71 3h1v1h-1zM8 4h1v1h-1zM12 4h1v1h-1zM17 4h2v1h-2zM26 4h2v1h-2zM2 5h1v1h-1zM15 5h1v1h-1zM19 5h1v1h-1zM22 5h1v1h-1zM16 6h1v1h-1zM20 6h1v1h-1zM23 6h1v1h-1zM5 7h1v1h-1zM15 7h1v1h-1zM4 8h1v1h-1zM15 8h1v1h-1zM17 8h1v1h-1zM4 9h1v1h-1zM19 9h1v1h-1zM5 10h1v1h-1zM17 10h1v1h-1zM14 11h3v1h-3zM16 12h1v1h-1zM20 12h1v1h-1zM4 13h1v1h-1zM12 13h5v1h-5zM71 13h1v1h-1zM4 14h2v1h-2zM7 14h1v1h-1zM12 14h1v1h-1zM3 15h1v1h-1zM10 15h1v1h-1zM68 15h2v1h-2zM2 16h2v1h-2zM5 16h1v1h-1zM8 16h1v1h-1zM12 16h1v1h-1zM2 17h4v1h-4zM9 17h1v1h-1zM12 17h1v1h-1zM14 17h1v1h-1zM2 18h2v1h-2zM5 18h1v1h-1zM9 18h2v1h-2zM5 19h1v1h-1zM7 19h1v1h-1zM1 20h2v1h-2zM5 20h2v1h-2zM69 20h1v1h-1zM2 21h3v1h-3zM7 21h1v1h-1zM9 21h1v1h-1zM0 22h1v1h-1zM7 22h1v1h-1zM12 22h1v1h-1zM4 23h2v1h-2zM3 24h1v1h-1zM70 25h1v1h-1zM0 26h2v1h-2zM1 27h2v1h-2zM0 28h2v1h-2zM0 29h2v1h-2zM2 31h1v1h-1zM4 31h1v1h-1zM1 33h2v1h-2zM2 34h1v1h-1zM4 34h1v1h-1zM1 36h1v1h-1zM69 36h1v1h-1zM0 37h1v1h-1zM70 37h1v1h-1zM70 38h1v1h-1zM2 39h1v1h-1zM68 39h1v1h-1zM68 40h1v1h-1zM70 40h1v1h-1zM70 41h1v1h-1zM70 42h1v1h-1zM0 43h1v1h-1zM64 43h1v1h-1zM68 43h1v1h-1zM1 44h1v1h-1zM69 44h2v1h-2zM68 45h1v1h-1zM70 45h1v1h-1zM67 46h1v1h-1zM69 46h1v1h-1zM65 47h1v1h-1zM68 47h1v1h-1zM70 47h2v1h-2zM64 48h1v1h-1zM66 48h1v1h-1zM69 48h1v1h-1zM60 49h1v1h-1zM64 49h1v1h-1zM67 49h1v1h-1zM69 49h1v1h-1zM64 50h1v1h-1zM67 50h3v1h-3zM5 52h1v1h-1zM58 52h1v1h-1zM64 52h1v1h-1zM67 52h1v1h-1zM70 52h1v1h-1zM59 53h1v1h-1zM65 53h1v1h-1zM67 53h1v1h-1zM69 53h1v1h-1zM2 54h2v1h-2zM62 54h1v1h-1zM65 54h1v1h-1zM67 54h1v1h-1zM57 55h1v1h-1zM65 55h1v1h-1zM69 55h1v1h-1zM62 56h1v1h-1zM65 56h2v1h-2zM68 56h1v1h-1zM0 57h2v1h-2zM53 57h1v1h-1zM57 57h1v1h-1zM64 57h1v1h-1zM67 57h1v1h-1zM1 58h1v1h-1zM52 58h1v1h-1zM55 58h3v1h-3zM62 58h2v1h-2zM69 58h1v1h-1zM56 59h2v1h-2zM63 59h1v1h-1zM67 59h1v1h-1zM70 59h2v1h-2zM53 60h1v1h-1zM56 60h1v1h-1zM63 60h1v1h-1zM70 60h1v1h-1zM1 61h1v1h-1zM51 61h2v1h-2zM58 61h2v1h-2zM61 61h1v1h-1zM68 61h1v1h-1zM53 62h1v1h-1zM68 62h2v1h-2zM51 63h1v1h-1zM53 63h1v1h-1zM56 63h1v1h-1zM64 63h1v1h-1zM66 63h3v1h-3zM3 64h1v1h-1zM50 64h2v1h-2zM57 64h1v1h-1zM61 64h2v1h-2zM65 64h1v1h-1zM68 64h2v1h-2zM4 65h1v1h-1zM51 65h1v1h-1zM54 65h2v1h-2zM6 66h1v1h-1zM50 66h1v1h-1zM53 66h5v1h-5zM54 67h1v1h-1zM66 67h1v1h-1zM0 68h2v1h-2zM39 68h1v1h-1zM44 68h1v1h-1zM47 68h1v1h-1zM50 68h2v1h-2zM53 68h1v1h-1zM60 68h1v1h-1zM6 69h1v1h-1zM39 69h1v1h-1zM46 69h2v1h-2zM55 69h1v1h-1zM71 69h1v1h-1zM7 70h1v1h-1zM17 70h1v1h-1zM42 70h1v1h-1zM50 70h2v1h-2zM70 70h1v1h-1zM0 71h1v1h-1zM2 71h2v1h-2zM15 71h1v1h-1zM33 71h2v1h-2zM36 71h1v1h-1zM45 71h1v1h-1zM48 71h2v1h-2z"/>
<path fill="rgb(232,234,234)" d="M1 0h1v1h-1zM4 0h1v1h-1zM20 0h1v1h-1zM23 0h1v1h-1zM2 1h2v1h-2zM17 1h1v1h-1zM20 1h1v1h-1zM27 1h1v1h-1zM0 2h1v1h-1zM2 2h1v1h-1zM6 2h1v1h-1zM10 2h3v1h-3zM19 2h1v1h-1zM2 3h2v1h-2zM8 3h1v1h-1zM12 3h2v1h-2zM15 3h2v1h-2zM19 3h1v1h-1zM21 3h1v1h-1zM26 3h1v1h-1zM2 4h1v1h-1zM11 4h1v1h-1zM13 4h1v1h-1zM15 4h2v1h-2zM20 4h2v1h-2zM3 5h1v1h-1zM16 5h2v1h-2zM20 5h1v1h-1zM12 6h3v1h-3zM17 6h1v1h-1zM1 7h1v1h-1zM4 7h1v1h-1zM6 7h1v1h-1zM16 7h2v1h-2zM20 7h1v1h-1zM13 8h2v1h-2zM16 8h1v1h-1zM70 8h1v1h-1zM5 9h1v1h-1zM11 9h1v1h-1zM13 9h5v1h-5zM4 10h1v1h-1zM9 10h1v1h-1zM15 10h1v1h-1zM7 11h2v1h-2zM9 12h1v1h-1zM11 12h1v1h-1zM8 13h1v1h-1zM9 14h1v1h-1zM4 15h3v1h-3zM8 15h2v1h-2zM12 15h1v1h-1zM1 16h1v1h-1zM4 16h1v1h-1zM6 16h2v1h-2zM4 18h1v1h-1zM4 19h1v1h-1zM0 20h1v1h-1zM4 20h1v1h-1zM0 21h2v1h-2zM2 22h3v1h-3zM2 23h2v1h-2zM2 24h1v1h-1zM1 25h1v1h-1zM70 26h2v1h-2zM0 27h1v1h-1zM2 29h1v1h-1zM0 31h1v1h-1zM1 32h1v1h-1zM0 35h2v1h-2zM0 36h1v1h-1zM71 38h1v1h-1zM69 39h1v1h-1zM69 40h1v1h-1zM71 42h1v1h-1zM70 43h1v1h-1zM68 44h1v1h-1zM71 44h1v1h-1zM69 45h1v1h-1zM70 46h1v1h-1zM68 48h1v1h-1zM71 48h1v1h-1zM61 49h1v1h-1zM70 49h2v1h-2zM60 50h2v1h-2zM4 51h1v1h-1zM64 51h2v1h-2zM69 51h2v1h-2zM2 53h1v1h-1zM58 53h1v1h-1zM68 53h1v1h-1zM70 53h1v1h-1zM58 54h2v1h-2zM64 54h1v1h-1zM68 54h1v1h-1zM58 55h1v1h-1zM60 55h2v1h-2zM60 56h2v1h-2zM64 56h1v1h-1zM67 56h1v1h-1zM62 57h2v1h-2zM66 57h1v1h-1zM68 57h3v1h-3zM53 58h1v1h-1zM61 58h1v1h-1zM64 58h1v1h-1zM66 58h1v1h-1zM70 58h1v1h-1zM0 59h2v1h-2zM58 59h1v1h-1zM64 59h1v1h-1zM66 59h1v1h-1zM68 59h1v1h-1zM0 60h2v1h-2zM58 60h1v1h-1zM60 60h1v1h-1zM62 60h1v1h-1zM65 60h2v1h-2zM68 60h2v1h-2zM71 60h1v1h-1zM54 61h1v1h-1zM56 61h1v1h-1zM63 61h2v1h-2zM67 61h1v1h-1zM69 61h1v1h-1zM54 62h4v1h-4zM59 62h1v1h-1zM61 62h1v1h-1zM66 62h1v1h-1zM2 63h2v1h-2zM59 63h3v1h-3zM65 63h1v1h-1zM69 63h1v1h-1zM2 64h1v1h-1zM55 64h1v1h-1zM59 64h2v1h-2zM64 64h1v1h-1zM66 64h2v1h-2zM50 65h1v1h-1zM56 65h1v1h-1zM58 65h1v1h-1zM60 65h1v1h-1zM51 66h2v1h-2zM60 66h2v1h-2zM67 66h1v1h-1zM55 67h1v1h-1zM67 67h1v1h-1zM71 67h1v1h-1zM52 68h1v1h-1zM54 68h1v1h-1zM58 68h1v1h-1zM66 68h1v1h-1zM70 68h1v1h-1zM44 69h2v1h-2zM48 69h1v1h-1zM0 70h2v1h-2zM38 70h1v1h-1zM44 70h5v1h-5zM54 70h1v1h-1zM71 70h1v1h-1zM30 71h1v1h-1zM41 71h2v1h-2zM46 71h1v1h-1zM56 71h1v1h-1zM64 71h2v1h-2z"/>
<path fill="rgb(238,240,240)" d="M0 0h1v1h-1zM8 0h2v1h-2zM13 0h1v1h-1zM15 0h1v1h-1zM17 0h1v1h-1zM6 1h2v1h-2zM10 1h1v1h-1zM12 1h1v1h-1zM3 2h1v1h-1zM7 2h1v1h-1zM15 2h3v1h-3zM6 3h1v1h-1zM9 3h1v1h-1zM11 3h1v1h-1zM3 4h1v1h-1zM7 4h1v1h-1zM9 4h2v1h-2zM0 5h2v1h-2zM4 5h1v1h-1zM7 5h1v1h-1zM10 5h5v1h-5zM0 6h4v1h-4zM5 6h1v1h-1zM7 6h2v1h-2zM15 6h1v1h-1zM0 7h1v1h-1zM3 7h1v1h-1zM7 7h1v1h-1zM11 7h1v1h-1zM13 7h2v1h-2zM0 8h2v1h-2zM5 8h1v1h-1zM10 8h1v1h-1zM6 9h1v1h-1zM8 9h2v1h-2zM0 10h1v1h-1zM6 10h3v1h-3zM10 10h2v1h-2zM13 10h2v1h-2zM11 11h1v1h-1zM13 11h1v1h-1zM6 12h3v1h-3zM10 12h1v1h-1zM12 12h1v1h-1zM3 13h1v1h-1zM6 13h2v1h-2zM3 14h1v1h-1zM14 14h1v1h-1zM2 15h1v1h-1zM7 15h1v1h-1zM13 15h1v1h-1zM0 16h1v1h-1zM0 18h2v1h-2zM1 19h1v1h-1zM0 23h2v1h-2zM1 24h1v1h-1zM71 25h1v1h-1zM1 31h1v1h-1zM71 43h1v1h-1zM71 45h1v1h-1zM70 50h2v1h-2zM68 51h1v1h-1zM71 51h1v1h-1zM71 52h1v1h-1zM69 54h1v1h-1zM58 56h2v1h-2zM71 56h1v1h-1zM60 57h2v1h-2zM65 57h1v1h-1zM71 57h1v1h-1zM60 58h1v1h-1zM65 58h1v1h-1zM67 58h2v1h-2zM71 58h1v1h-1zM60 59h2v1h-2zM65 59h1v1h-1zM69 59h1v1h-1zM61 60h1v1h-1zM64 60h1v1h-1zM67 60h1v1h-1zM57 61h1v1h-1zM60 61h1v1h-1zM62 61h1v1h-1zM66 61h1v1h-1zM58 62h1v1h-1zM60 62h1v1h-1zM62 62h4v1h-4zM67 62h1v1h-1zM70 62h1v1h-1zM58 63h1v1h-1zM63 64h1v1h-1zM61 65h2v1h-2zM64 65h1v1h-1zM66 65h1v1h-1zM68 65h1v1h-1zM58 66h1v1h-1zM62 66h3v1h-3zM66 66h1v1h-1zM68 66h1v1h-1zM56 67h6v1h-6zM55 68h3v1h-3zM59 68h1v1h-1zM61 68h4v1h-4zM67 68h1v1h-1zM49 69h1v1h-1zM54 69h1v1h-1zM56 69h1v1h-1zM58 69h1v1h-1zM64 69h1v1h-1zM67 69h4v1h-4zM39 70h1v1h-1zM49 70h1v1h-1zM52 70h2v1h-2zM66 70h4v1h-4zM43 71h2v1h-2zM51 71h2v1h-2zM54 71h2v1h-2zM62 71h1v1h-1zM67 71h1v1h-1zM69 71h1v1h-1z"/>
<path fill="rgb(244,246,246)" d="M10 0h2v1h-2zM14 0h1v1h-1zM16 0h1v1h-1zM19 0h1v1h-1zM5 1h1v1h-1zM8 1h2v1h-2zM13 1h4v1h-4zM4 2h2v1h-2zM8 2h1v1h-1zM13 2h2v1h-2zM0 3h2v1h-2zM7 3h1v1h-1zM10 3h1v1h-1zM14 3h1v1h-1zM1 4h1v1h-1zM5 4h2v1h-2zM14 4h1v1h-1zM5 5h1v1h-1zM8 5h1v1h-1zM10 6h2v1h-2zM2 7h1v1h-1zM9 7h1v1h-1zM12 7h1v1h-1zM2 8h2v1h-2zM6 8h2v1h-2zM9 8h1v1h-1zM12 8h1v1h-1zM2 9h2v1h-2zM10 9h1v1h-1zM3 10h1v1h-1zM0 11h2v1h-2zM3 11h2v1h-2zM6 11h1v1h-1zM10 11h1v1h-1zM4 12h2v1h-2zM13 12h1v1h-1zM2 13h1v1h-1zM1 14h2v1h-2zM0 15h1v1h-1zM0 17h2v1h-2zM0 24h1v1h-1zM68 52h2v1h-2zM70 54h1v1h-1zM59 55h1v1h-1zM70 55h2v1h-2zM70 56h1v1h-1zM59 59h1v1h-1zM59 60h1v1h-1zM65 61h1v1h-1zM70 61h2v1h-2zM71 62h1v1h-1zM63 63h1v1h-1zM70 63h1v1h-1zM70 64h2v1h-2zM59 65h1v1h-1zM63 65h1v1h-1zM65 65h1v1h-1zM67 65h1v1h-1zM69 65h1v1h-1zM71 65h1v1h-1zM65 66h1v1h-1zM69 66h1v1h-1zM71 66h1v1h-1zM62 67h4v1h-4zM68 67h3v1h-3zM65 68h1v1h-1zM68 68h2v1h-2zM71 68h1v1h-1zM52 69h2v1h-2zM63 69h1v1h-1zM66 69h1v1h-1zM55 70h5v1h-5zM62 70h3v1h-3zM50 71h1v1h-1zM53 71h1v1h-1zM57 71h4v1h-4zM63 71h1v1h-1zM66 71h1v1h-1zM68 71h1v1h-1zM70 71h2v1h-2z"/>
<path fill="rgb(250,252,252)" d="M2 0h2v1h-2zM5 0h3v1h-3zM12 0h1v1h-1zM18 0h1v1h-1zM4 1h1v1h-1zM9 2h1v1h-1zM4 3h2v1h-2zM0 4h1v1h-1zM4 4h1v1h-1zM6 5h1v1h-1zM9 5h1v1h-1zM4 6h1v1h-1zM6 6h1v1h-1zM9 6h1v1h-1zM8 7h1v1h-1zM10 7h1v1h-1zM8 8h1v1h-1zM11 8h1v1h-1zM0 9h2v1h-2zM7 9h1v1h-1zM12 9h1v1h-1zM1 10h2v1h-2zM12 10h1v1h-1zM2 11h1v1h-1zM5 11h1v1h-1zM12 11h1v1h-1zM0 12h4v1h-4zM0 13h2v1h-2zM0 14h1v1h-1zM1 15h1v1h-1zM71 53h1v1h-1zM71 54h1v1h-1zM62 63h1v1h-1zM71 63h1v1h-1zM70 65h1v1h-1zM59 66h1v1h-1zM70 66h1v1h-1zM57 69h1v1h-1zM59 69h4v1h-4zM65 69h1v1h-1zM60 70h2v1h-2zM65 70h1v1h-1zM61 71h1v1h-1z"/>
</g>
<path d="M269.2 476.3L292.7 453.3M351.8 453.3L375.3 476.3" stroke="#ee2b2b" stroke-width="2.2" fill="none"/>
<clipPath id="cd"><rect x="598.8" y="681.4" width="354.4" height="424.6"/></clipPath>
<g clip-path="url(#cd)" fill="none" stroke-linejoin="miter">
<path d="M630.2 692.7V1106" stroke="#222" stroke-width="1.1" stroke-dasharray="11.9 11.8" fill="none"/>
<path d="M785.4 692.7V1106" stroke="#222" stroke-width="1.1" stroke-dasharray="11.9 11.8" fill="none"/>
<path d="M872.9 692.7V1106" stroke="#222" stroke-width="1.1" stroke-dasharray="11.9 11.8" fill="none"/>
<path d="M914.5 692.7V1106" stroke="#222" stroke-width="1.1" stroke-dasharray="11.9 11.8" fill="none"/>
<path d="M599.4 985.1H600.5V977.5H605.4V985.1H607.1V980.2H608.7V987.3H611.5V979.1H613.1V970.3H615.3V976.4H617V1002.7H618.1V1020.3H620.8V973.2H621.9V979.6H623.6V996.4H626.3V995.4H627.9V988.8H630.1V987.2H631.8V978.6H633.4V992.8H635.1V996.3H637.3V996.3H640V1000.5H642.2V1006H645.5V1002.7H647.2V989.5H648.8V981.8H650.5V977.5H653.2V985.1H654.9V986.2H656.5V998.3H658.7V986.2H660.9V996.1H662.5V1007.1H665.3V996.1H666.9V970.9H668.6V978.6H670.2V985.1H671.9V986.8H673.5V985.1H676.3V979.1H678.5V985.1H680.1V996.1H681.8V995H684V1000H686.7V993.9H688.9V989.5H690.5V987.3H692.7V988.4H694.9V968.7H697.7V979.7H699.9V984H701.5V989.5H703.7V993.9H705.9V1001.6H706.8V1025.2H709.2V992.8H710.9V1017.5H714.2V996.1H715.8V979.1H717.4V1008.2H720.7V989.5H722.4V977.5H724.6V990.6H726.8V988.4H729V996.1H731.2V1003.8H733.4V1001.1H736.7V998.3H738.9V985.1H740.5V970.9H743.8V977.5H745.5V989.5H747.1V998.9H749.8V989.5H751.5V985.1H753.1V978H755.3V990.6H757.5V992.8H760.8V981.8H763V987.3H764.7V1010.4H768.5V1000.5H769.6V984H771.8V983H775V999.7H777.2V989.1H778.8V986.4H781V986.4H783.2V988.1H785.4V986.3H787.7V987.3H789.3V987.4H791.5V982.6H793.1V973H794.8V980.8H796.4V978.7H798.1V988.4H800.3V979.1H803V989.5H804.7V987.3H806.8V992.3H809.6V988.4H812.9V991.7H816.2V968.1H818.9V992.8H820.6V1015.9H823.3V996.7H825.5V980.2H827.2V974.2H829.4V984H831V987.3H833.2V997.8H835.9V999.4H838.7V987.3H839.8V967.6H840.9V962.6H843.6V965.4H845.3V969.2H846.9V979.1H848.6V991.7H850.8V1000.5H851.9V986.2H853.5V984H856.3V980.2H858.5V991.8H861.2V988.7H862.9V983.1H864.5V985H866.1V988.3H867.8V991.2H869.4V991.8H871.1V987.2H872.5V978.7H874.7V992.9H876.6V995.3H878.2V992.4H878.2V990.1H881V979H883.7V985.8H885.4V989H887V995H889.2V1015.9H892.5V989.5H894.2V977.5H895.8V963.2H900.7V980.8H902.4V977H904.6V974.9H906.8V992.5H908.4V996.1H909.5V996.4H911.8V997.8H913.6V986H915.8V985.2H917.5V990.2H920V991.6H922.2V980.5H924.4V980.8H926.5V974.2H928.7V979.7H930.9V994.5H933.7V990.6H935.3V976.4H937.5V995H939.7V990.6H941.4V982.4H943.6V987.3H945.2V973.1H946.9V963.2H949.6V970.3H951.8V976.4H953.5" stroke="#000" stroke-width="1.2" stroke-dasharray="1.5 1.9"/>
<path d="M599.4 985.9H600.5V978.2H605.4V985.9H607.1V980.9H608.7V988.1H611.5V979.9H613.1V971.1H615.3V977.1H617V1003.5H618.1V1021H620.8V973.8H621.9V979.9H623.6V995.2H626.3V991.4H627.9V984.8H630.1V979.3H631.8V973.8H633.4V990.3H635.1V995.8H637.3V996.9H640V1001.3H642.2V1006.8H645.5V1003.5H647.2V990.3H648.8V982.6H650.5V978.2H653.2V985.9H654.9V987H656.5V999.1H658.7V987H660.9V996.9H662.5V1007.9H665.3V996.9H666.9V971.6H668.6V979.3H670.2V985.9H671.9V987.5H673.5V985.9H676.3V979.9H678.5V985.9H680.1V996.9H681.8V995.8H684V1000.7H686.7V994.7H688.9V990.3H690.5V988.1H692.7V989.2H694.9V969.4H697.7V980.4H699.9V984.8H701.5V990.3H703.7V994.7H705.9V1002.4H706.8V1026H709.2V993.6H710.9V1018.3H714.2V996.9H715.8V979.9H717.4V1009H720.7V990.3H722.4V978.2H724.6V991.4H726.8V989.2H729V996.9H731.2V1004.6H733.4V1001.8H736.7V999.1H738.9V985.9H740.5V971.6H743.8V978.2H745.5V990.3H747.1V999.6H749.8V990.3H751.5V985.9H753.1V978.8H755.3V991.4H757.5V993.6H760.8V982.6H763V988.1H764.7V1011.1H768.5V1001.3H769.6V984.8H771.8V983.7H775V999.1H777.2V985.9H778.8V960.6H781V925H783.2V895.7H785.4V890.5H787.7V925H789.3V957.9H791.5V961.7H793.1V971.1H794.8V980.9H796.4V979.3H798.1V989.2H800.3V979.9H803V990.3H804.7V988.1H806.8V993H809.6V989.2H812.9V992.5H816.2V968.9H818.9V993.6H820.6V1016.6H823.3V997.4H825.5V980.9H827.2V974.9H829.4V984.8H831V988.1H833.2V998.5H835.9V1000.2H838.7V988.1H839.8V968.3H840.9V963.4H843.6V966.1H845.3V970H846.9V979.9H848.6V992.5H850.8V1001.3H851.9V987H853.5V984.8H856.3V980.9H858.5V992.5H861.2V989.2H862.9V982.6H864.5V980.9H866.1V976H867.8V967.2H869.4V944.2H871.1V910H872.5V878.6H874.7V949.1H876.6V983.1H878.2V983.1H878.2V987H881V978.8H883.7V986.4H885.4V989.7H887V995.8H889.2V1016.6H892.5V990.3H894.2V978.2H895.8V963.9H900.7V981.5H902.4V977.1H904.6V970.5H906.8V981.5H908.4V963.9H909.5V903.9H911.8V823.5H913.6V751.2H915.8V795.9H917.5V901.7H920V973.8H922.2V976H924.4V980.9H926.5V974.9H928.7V980.4H930.9V995.2H933.7V991.4H935.3V977.1H937.5V995.8H939.7V991.4H941.4V983.1H943.6V988.1H945.2V973.8H946.9V963.9H949.6V971.1H951.8V977.1H953.5" stroke="#000" stroke-width="1.9"/>
<path d="M598.8 988.6L616.8 988.6L617.6 988.6L618.4 988.6L619.2 988.5L620 988.5L620.8 988.5L621.6 988.4L622.3 988.2L623.1 987.9L623.9 987.4L624.7 986.8L625.5 986L626.3 984.9L627.1 983.8L627.9 982.7L628.7 981.8L629.5 981.2L630.3 981.1L631.1 981.4L631.9 982.1L632.7 983.1L633.5 984.3L634.3 985.4L635.1 986.3L635.9 987.1L636.7 987.7L637.5 988L638.3 988.3L639.1 988.4L639.9 988.5L640.7 988.5L641.5 988.6L642.3 988.6L643.1 988.6L772 988.5L772.8 988.5L773.6 988.5L774.4 988.3L775.2 988L776 987.3L776.8 986L777.6 983.6L778.4 979.7L779.2 973.7L780 965.1L780.8 953.8L781.6 940.2L782.4 925.3L783.2 910.8L784 898.8L784.8 891.2L785.6 889.4L786.3 893.6L787.1 903.2L787.9 916.4L788.7 931.3L789.5 945.9L790.3 958.7L791.1 968.9L791.9 976.4L792.7 981.5L793.5 984.7L794.3 986.6L795.1 987.6L795.9 988.1L796.7 988.4L797.5 988.5L798.3 988.5L859.5 988.6L860.3 988.5L861.1 988.5L861.9 988.4L862.7 988.1L863.5 987.5L864.3 986.4L865.1 984.5L865.9 981.3L866.7 976.4L867.5 969.4L868.3 960.1L869.1 948.9L869.9 936.7L870.7 924.8L871.5 915L872.3 908.8L873.1 907.3L873.9 910.7L874.7 918.6L875.5 929.5L876.3 941.7L877.1 953.6L877.9 964.1L878.7 972.5L879.5 978.6L880.3 982.8L881.1 985.4L881.9 986.9L882.7 987.8L883.5 988.2L884.3 988.4L885 988.5L885.8 988.5L901.1 988.5L901.9 988.5L902.7 988.3L903.5 988L904.3 987.2L905.1 985.6L905.9 982.5L906.7 977L907.5 967.9L908.3 953.9L909.1 933.9L909.9 907.5L910.7 875.7L911.5 840.9L912.2 807.1L913 779L913.8 761.3L914.6 757L915.4 766.9L916.2 789.2L917 820.2L917.8 854.9L918.6 889L919.4 918.8L920.2 942.7L921 960.2L921.8 972.1L922.6 979.6L923.4 984L924.2 986.3L925 987.6L925.8 988.1L926.6 988.4L927.4 988.5L953.5 988.6" stroke="#f5222d" stroke-width="2" stroke-dasharray="11 6 2.5 6.5"/>
<path d="M619 1096.4L619 1096.4L619.7 1096.4L620.3 1096.4L621 1096.4L621.7 1096.4L622.3 1096.3L623 1096.2L623.7 1096L624.3 1095.7L625 1095.3L625.6 1094.6L626.3 1093.8L627 1092.8L627.6 1091.6L628.3 1090.6L629 1089.7L629.6 1089.1L630.3 1088.9L631 1089.3L631.6 1090L632.3 1091L633 1092.1L633.6 1093.2L634.3 1094.2L634.9 1094.9L635.6 1095.5L636.3 1095.9L636.9 1096.1L637.6 1096.3L638.3 1096.3L638.9 1096.4L639.6 1096.4L640.3 1096.4L640.9 1096.4L641.3 1096.4" stroke="#0f55f0" stroke-width="2.2"/>
<path d="M774.2 1096.4L774.9 1096.4L775.6 1096.3L776.2 1096.1L776.9 1095.8L777.6 1095.1L778.2 1093.8L778.9 1091.5L779.5 1087.6L780.2 1081.6L780.9 1073L781.5 1061.7L782.2 1048.1L782.9 1033.1L783.5 1018.7L784.2 1006.6L784.9 999L785.5 997.2L786.2 1001.4L786.9 1011L787.5 1024.3L788.2 1039.2L788.8 1053.7L789.5 1066.5L790.2 1076.7L790.8 1084.3L791.5 1089.3L792.2 1092.6L792.8 1094.4L793.5 1095.5L794.2 1096L794.8 1096.2L795.5 1096.3L796.2 1096.4L796.6 1096.4" stroke="#0f55f0" stroke-width="2.2"/>
<path d="M861.8 1096.4L861.8 1096.4L862.4 1096.4L863.1 1096.3L863.8 1096.2L864.4 1095.9L865.1 1095.4L865.8 1094.3L866.4 1092.4L867.1 1089.2L867.7 1084.2L868.4 1077.2L869.1 1067.9L869.7 1056.8L870.4 1044.6L871.1 1032.7L871.7 1022.8L872.4 1016.6L873.1 1015.1L873.7 1018.6L874.4 1026.4L875.1 1037.3L875.7 1049.5L876.4 1061.4L877 1071.9L877.7 1080.3L878.4 1086.4L879 1090.6L879.7 1093.2L880.4 1094.8L881 1095.6L881.7 1096L882.4 1096.3L883 1096.3L883.7 1096.4L884.1 1096.4" stroke="#0f55f0" stroke-width="2.2"/>
<path d="M903.3 1096.4L904 1096.3L904.6 1096.2L905.3 1095.8L906 1095L906.6 1093.4L907.3 1090.3L908 1084.9L908.6 1075.8L909.3 1061.8L910 1041.7L910.6 1015.4L911.3 983.5L912 948.7L912.6 914.9L913.3 886.8L914 869.1L914.6 864.8L915.3 874.7L915.9 897.1L916.6 928L917.3 962.8L917.9 996.8L918.6 1026.6L919.3 1050.5L919.9 1068L920.6 1079.9L921.3 1087.4L921.9 1091.8L922.6 1094.2L923.3 1095.4L923.9 1096L924.6 1096.2L925.2 1096.3L925.6 1096.4" stroke="#0f55f0" stroke-width="2.2"/>
<path d="M598.8 1096.4H953.2" stroke="#0f55f0" stroke-width="3.2"/>
</g>
<clipPath id="ce"><rect x="1052.3" y="681.4" width="494.9" height="424.6"/></clipPath>
<g clip-path="url(#ce)" fill="none" stroke-linejoin="miter">
<path d="M1098.6 692.7V1106" stroke="#222" stroke-width="1.1" stroke-dasharray="11.9 11.8" fill="none"/>
<path d="M1340.7 692.7V1106" stroke="#222" stroke-width="1.1" stroke-dasharray="11.9 11.8" fill="none"/>
<path d="M1355 692.7V1106" stroke="#222" stroke-width="1.1" stroke-dasharray="11.9 11.8" fill="none"/>
<path d="M1375.3 692.7V1106" stroke="#222" stroke-width="1.1" stroke-dasharray="11.9 11.8" fill="none"/>
<path d="M1504.2 692.7V1106" stroke="#222" stroke-width="1.1" stroke-dasharray="11.9 11.8" fill="none"/>
<path d="M1518.1 692.7V1106" stroke="#222" stroke-width="1.1" stroke-dasharray="11.9 11.8" fill="none"/>
<path d="M1053.2 993.4H1058.1V1015.7H1060.3V1022.3H1063V1008.1H1065.2V1006.4H1067.4V997.2H1070.1V985.2H1072.3V990.6H1074.5V994.4H1077.2V978.1H1079.9V950.3H1082.6V969.4H1084.8V1002.6H1087V1016.3H1089.7V1006.6H1091.9V1001.4H1094.6V998.6H1096.8V988.9H1099V981.9H1101.7V969.1H1104.5V984.4H1107.2V1016.8H1109.4V1009.7H1111.5V999.9H1114.3V998.3H1117V1000.4H1119.7V1009.7H1121.9V1012.4H1124.1V986.3H1126.3V978.6H1129V996.1H1131.7V997.2H1133.9V1009.7H1136.1V1002.6H1138.3V978.6H1141V964.4H1143.7V963.4H1146.5V991.2H1148.6V979.7H1150.8V992.8H1153.5V1004.3H1156.3V991.7H1158.5V989.5H1160.6V992.3H1162.8V983.5H1165.5V967.7H1168.3V1001.5H1170.4V989.5H1173.2V986.3H1175.4V989.5H1177.5V996.1H1180.3V971.5H1183V975.9H1185.7V991.2H1188.4V992.8H1191.2V993.9H1193.9V998.3H1196.1V1014.1H1198.3V981.9H1201V985.2H1203.2V986.3H1205.4V983H1208.1V999.9H1210.8V1001.5H1214.1V1003.7H1216.3V1018.4H1219V1015.7H1221.2V1003.7H1223.4V1002.6H1225V1002.6H1227.7V996.1H1229.9V993.9H1232.6V991.2H1235.4V980.8H1237.5V974.8H1240.3V996.6H1242.5V997.7H1245.2V989.5H1247.4V979.7H1250.1V1019H1253.4V999.4H1257.7V989.5H1260.5V1002.6H1262.6V999.9H1265.4V1013.5H1270.8V993.9H1272.5V977H1275.7V979.7H1277.9V994.4H1280.6V982.4H1283.4V988.4H1285.5V992.8H1287.7V997.2H1290.5V985.2H1293.2V972.6H1295.9V990.6H1298.1V991.2H1303V975.4H1305.7V966.6H1308.5V975.4H1311.2V973.2H1313.4V971H1316.1V991.2H1318.8V991.7H1321V990.6H1323.7V1000.4H1325.9V979.7H1328.1V977.1H1330.8V1000.7H1333.5V992.5H1336.3V996.3H1339V990.7H1340.5V992.9H1343V989.7H1346V982.2H1348V988.4H1351.4V985.3H1353.8V986.4H1356.6V996.9H1359.2V987.3H1361.8V957.7H1367V978.2H1370V976H1374.5V983H1377.5V989.9H1380V985.7H1382.5V983.4H1384.3V983.4H1387.2V981.9H1392.1V993.4H1394.8V993.9H1397V1002.1H1399.7V997.7H1402.5V987.4H1404.6V983H1407.4V993.9H1410.1V984.1H1412.8V983H1415.5V969.4H1418.3V987.9H1420.5V1002.1H1423.2V997.7H1425.9V993.9H1428.1V978.6H1430.8V979.7H1433.5V976.4H1436.3V981.4H1438.5V990.1H1441.2V991.2H1443.9V980.3H1446.1V972.6H1449.4V985.2H1451.5V997.2H1453.7V1015.2H1457V1001.5H1459.7V1001H1462.5V986.3H1464.6V978.1H1467.4V981.9H1470.1V986.3H1472.3V987.4H1475V978.1H1477.7V965.5H1480.5V980.8H1482.6V981.9H1485.4V985.2H1488.1V990.6H1492.5V976.1H1497.6V990.2H1500.8V990.2H1503.5V985.2H1506.5V987.7H1508.8V986.1H1513.8V990.6H1516.5V988.9H1519.2V986.3H1521.8V984.1H1524.4V984.9H1527.1V979.2H1529.8V984.7H1532.4V996.4H1535.1V988.7H1536" stroke="#000" stroke-width="1.2" stroke-dasharray="1.5 1.9"/>
<path d="M1053.2 991.6H1058.1V1014H1060.3V1020.5H1063V1006.4H1065.2V1004.7H1067.4V995.5H1070.1V983.5H1072.3V988.9H1074.5V992.7H1077.2V976.4H1079.9V948.5H1082.6V967.6H1084.8V1000.9H1087V1014.5H1089.7V1004.7H1091.9V998.7H1094.6V994.4H1096.8V983.5H1099V976.9H1101.7V966H1104.5V982.4H1107.2V1015.1H1109.4V1008H1111.5V998.2H1114.3V996.5H1117V998.7H1119.7V1008H1121.9V1010.7H1124.1V984.5H1126.3V976.9H1129V994.4H1131.7V995.5H1133.9V1008H1136.1V1000.9H1138.3V976.9H1141V962.7H1143.7V961.6H1146.5V989.5H1148.6V978H1150.8V991.1H1153.5V1002.5H1156.3V990H1158.5V987.8H1160.6V990.5H1162.8V981.8H1165.5V966H1168.3V999.8H1170.4V987.8H1173.2V984.5H1175.4V987.8H1177.5V994.4H1180.3V969.8H1183V974.2H1185.7V989.5H1188.4V991.1H1191.2V992.2H1193.9V996.5H1196.1V1012.4H1198.3V980.2H1201V983.5H1203.2V984.5H1205.4V981.3H1208.1V998.2H1210.8V999.8H1214.1V1002H1216.3V1016.7H1219V1014H1221.2V1002H1223.4V1000.9H1225V1000.9H1227.7V994.4H1229.9V992.2H1232.6V989.5H1235.4V979.1H1237.5V973.1H1240.3V994.9H1242.5V996H1245.2V987.8H1247.4V978H1250.1V1017.3H1253.4V997.6H1257.7V987.8H1260.5V1000.9H1262.6V998.2H1265.4V1011.8H1270.8V992.2H1272.5V975.3H1275.7V978H1277.9V992.7H1280.6V980.7H1283.4V986.7H1285.5V991.1H1287.7V995.5H1290.5V983.5H1293.2V970.9H1295.9V988.9H1298.1V989.5H1303V973.6H1305.7V964.9H1308.5V973.6H1311.2V971.5H1313.4V969.3H1316.1V989.5H1318.8V990H1321V988.9H1323.7V998.7H1325.9V978H1328.1V975.3H1330.8V997.1H1333.5V987.8H1336.3V967.6H1339V923.8H1340.5V932H1343V955H1346V948H1348V932H1351.4V810.7H1353.8V760.7H1356.6V872.9H1359.2V937H1361.8V953H1367V933H1370V810.7H1374.5V754.7H1377.5V870.3H1380V941H1382.5V962.7H1384.3V980.7H1387.2V980.2H1392.1V991.6H1394.8V992.2H1397V1000.4H1399.7V996H1402.5V985.6H1404.6V981.3H1407.4V992.2H1410.1V982.4H1412.8V981.3H1415.5V967.6H1418.3V986.2H1420.5V1000.4H1423.2V996H1425.9V992.2H1428.1V976.9H1430.8V978H1433.5V974.7H1436.3V979.6H1438.5V988.4H1441.2V989.5H1443.9V978.5H1446.1V970.9H1449.4V983.5H1451.5V995.5H1453.7V1013.5H1457V999.8H1459.7V999.3H1462.5V984.5H1464.6V976.4H1467.4V980.2H1470.1V984.5H1472.3V985.6H1475V976.4H1477.7V963.8H1480.5V979.1H1482.6V980.2H1485.4V983.5H1488.1V988.9H1492.5V972.9H1497.6V964.7H1500.8V910.6H1503.5V877.1H1506.5V928.2H1508.8V961.2H1513.8V924.7H1516.5V881.2H1519.2V900H1521.8V942.9H1524.4V970.6H1527.1V977H1529.8V983H1532.4V994.7H1535.1V987H1536" stroke="#000" stroke-width="1.25"/>
<path d="M1052.3 986.2L1085.4 986.2L1086.1 986.2L1086.9 986.2L1087.7 986.2L1088.5 986.2L1089.3 986.1L1090.1 986.1L1090.9 986L1091.7 985.9L1092.4 985.6L1093.2 985.3L1094 984.9L1094.8 984.3L1095.6 983.8L1096.4 983.2L1097.2 982.8L1098 982.5L1098.7 982.4L1099.5 982.6L1100.3 982.9L1101.1 983.4L1101.9 984L1102.7 984.6L1103.5 985.1L1104.3 985.4L1105 985.7L1105.8 985.9L1106.6 986L1107.4 986.1L1108.2 986.2L1109 986.2L1109.8 986.2L1110.6 986.2L1111.3 986.2L1327.5 986.2L1328.3 986.2L1329.1 986.1L1329.8 986L1330.6 985.7L1331.4 985.2L1332.2 984.2L1333 982.5L1333.8 979.5L1334.6 975L1335.3 968.6L1336.1 959.9L1336.9 949.7L1337.7 938.4L1338.5 927.5L1339.3 918.5L1340.1 912.7L1340.9 911.3L1341.6 914.5L1341.7 915.2L1342.4 921.7L1342.5 922.8L1343.2 931.6L1343.3 933L1344 942.5L1344.1 943.9L1344.8 952.8L1344.9 954L1345.6 961.1L1345.7 961.9L1346.4 966L1346.5 966.4L1347.2 966.8L1347.3 966.6L1347.9 962.5L1348 961.6L1348.7 952.3L1348.8 950.6L1349.5 935.4L1349.6 932.8L1350.3 911.5L1350.4 908.1L1351.1 882.1L1351.2 878.2L1351.9 849.3L1352 845.2L1352.7 816.9L1352.8 813.1L1353.5 789.3L1353.5 786.5L1354.3 769.6L1355.1 765.5L1355.9 774.9L1356.7 796.1L1357.5 825.9L1358.3 859L1359.1 891.3L1359.8 919.7L1360.6 942.4L1361.4 959.1L1362.1 969.4L1362.2 970.4L1362.9 976.9L1363 977.5L1363.7 981.2L1363.8 981.5L1364.5 983.3L1364.6 983.5L1365.3 983.8L1365.4 983.8L1366.1 982.9L1366.1 982.7L1366.8 980.3L1366.9 979.8L1367.6 975.2L1367.7 974.4L1368.4 966.6L1369.2 953.4L1370 934.4L1370.8 909.2L1371.6 879L1372.4 846L1373.1 814L1373.9 787.4L1374.7 770.6L1375.5 766.5L1376.3 775.8L1377.1 797L1377.9 826.6L1378.7 859.6L1379.4 891.8L1380.2 920.1L1381 942.7L1381.8 959.3L1382.6 970.5L1383.4 977.6L1384.2 981.8L1385 984.1L1385.7 985.2L1386.5 985.8L1387.3 986L1388.1 986.1L1491 986.2L1491.8 986.1L1492.6 986.1L1493.4 985.9L1494.1 985.6L1494.9 984.9L1495.7 983.5L1496.5 981.1L1497.3 977L1498.1 970.8L1498.9 961.9L1499.7 950.1L1500.4 935.9L1501.2 920.5L1502 905.5L1502.8 893L1503.6 885.1L1504.4 883.2L1504.9 885.2L1505.2 887.6L1505.6 893.2L1505.9 897.4L1506.4 905.9L1506.7 911.2L1507.2 920.8L1507.5 926.4L1508 935.8L1508.3 941.1L1508.8 949.2L1509.1 953.4L1509.6 959.4L1509.9 962.2L1510.4 965.6L1510.7 966.8L1511.2 967.5L1511.5 967.1L1511.9 964.9L1512.2 962.9L1512.7 958L1513 954.4L1513.5 946.9L1513.8 941.9L1514.3 932.7L1514.6 926.9L1515.1 916.7L1515.4 910.8L1515.9 901.1L1516.2 895.8L1516.7 888L1517 884.3L1517.5 879.7L1518.2 877.7L1519 882.3L1519.8 892.8L1520.6 907.4L1521.4 923.7L1522.2 939.6L1523 953.5L1523.8 964.7L1524.5 972.9L1525.3 978.5L1526.1 982L1526.9 984L1527.7 985.2L1528.5 985.7L1529.3 986L1530.1 986.1L1530.8 986.2L1536 986.2" stroke="#f5222d" stroke-width="2" stroke-dasharray="11 6 2.5 6.5"/>
<path d="M1085.7 1096.4L1086.5 1096.4L1087.3 1096.4L1088 1096.4L1088.8 1096.4L1089.6 1096.4L1090.3 1096.3L1091.1 1096.2L1091.9 1096.1L1092.6 1095.8L1093.4 1095.5L1094.2 1095.1L1094.9 1094.6L1095.7 1094L1096.5 1093.4L1097.2 1093L1098 1092.7L1098.7 1092.6L1099.5 1092.8L1100.3 1093.1L1101 1093.7L1101.8 1094.2L1102.6 1094.8L1103.3 1095.3L1104.1 1095.7L1104.9 1095.9L1105.6 1096.1L1106.4 1096.3L1107.1 1096.3L1107.9 1096.4L1108.7 1096.4L1109.4 1096.4L1110.2 1096.4L1111 1096.4L1111.4 1096.4" stroke="#0f55f0" stroke-width="2.2"/>
<path d="M1327.9 1096.4L1328.6 1096.4L1329.4 1096.3L1330.2 1096.2L1330.9 1096L1331.7 1095.4L1332.5 1094.4L1333.2 1092.7L1334 1089.7L1334.7 1085.2L1335.5 1078.7L1336.3 1070.2L1337 1059.9L1337.8 1048.6L1338.6 1037.7L1339.3 1028.7L1340.1 1023L1340.9 1021.6L1341.6 1024.8L1342.4 1032L1343.1 1042L1343.9 1053.3L1344.7 1064.3L1345.4 1073.8L1346.2 1081.6L1347 1087.3L1347.7 1091.1L1348.5 1093.5L1349.3 1094.9L1350 1095.7L1350.8 1096.1L1351.5 1096.3L1352.3 1096.3L1353.1 1096.4L1353.5 1096.4" stroke="#0f55f0" stroke-width="2.2"/>
<path d="M1342.1 1096.4L1342.9 1096.3L1343.7 1096.2L1344.4 1095.8L1345.2 1095.1L1346 1093.5L1346.7 1090.6L1347.5 1085.4L1348.2 1076.7L1349 1063.3L1349.8 1044.2L1350.5 1019.3L1351.3 988.8L1352.1 955.6L1352.8 923.2L1353.6 896.8L1354.4 879.8L1355.1 875.7L1355.9 885.2L1356.6 906.3L1357.4 935.9L1358.2 969.2L1358.9 1001.7L1359.7 1029.8L1360.5 1052.7L1361.2 1069.4L1362 1080.8L1362.8 1087.8L1363.5 1092L1364.3 1094.3L1365.1 1095.5L1365.8 1096L1366.6 1096.2L1367.3 1096.3L1367.8 1096.4" stroke="#0f55f0" stroke-width="2.2"/>
<path d="M1362.5 1096.4L1363.3 1096.3L1364 1096.2L1364.8 1095.8L1365.6 1095.1L1366.3 1093.6L1367.1 1090.6L1367.9 1085.5L1368.6 1076.8L1369.4 1063.5L1370.2 1044.4L1370.9 1019.6L1371.7 989.3L1372.4 956.2L1373.2 924L1374 897.7L1374.7 880.8L1375.5 876.7L1376.3 886.2L1377 907.2L1377.8 936.7L1378.6 969.8L1379.3 1002.1L1380.1 1030.1L1380.8 1052.9L1381.6 1069.5L1382.4 1080.8L1383.1 1087.9L1383.9 1092L1384.7 1094.3L1385.4 1095.5L1386.2 1096L1387 1096.2L1387.7 1096.3L1388.2 1096.4" stroke="#0f55f0" stroke-width="2.2"/>
<path d="M1491.4 1096.4L1492.1 1096.4L1492.9 1096.3L1493.7 1096.1L1494.4 1095.8L1495.2 1095.1L1496 1093.7L1496.7 1091.3L1497.5 1087.2L1498.3 1081L1499 1072L1499.8 1060.4L1500.5 1046.2L1501.3 1030.7L1502.1 1015.6L1502.8 1003.3L1503.6 995.3L1504.4 993.4L1505.1 997.9L1505.9 1007.7L1506.7 1021.5L1507.4 1037L1508.2 1052.2L1508.9 1065.3L1509.7 1076L1510.5 1083.8L1511.2 1089.1L1512 1092.4L1512.8 1094.4L1513.5 1095.4L1514.3 1096L1515.1 1096.2L1515.8 1096.3L1516.6 1096.4L1517 1096.4" stroke="#0f55f0" stroke-width="2.2"/>
<path d="M1505.2 1096.4L1506 1096.4L1506.8 1096.3L1507.5 1096.1L1508.3 1095.8L1509.1 1095L1509.8 1093.6L1510.6 1091L1511.4 1086.7L1512.1 1080.2L1512.9 1070.7L1513.7 1058.5L1514.4 1043.5L1515.2 1027.2L1516 1011.3L1516.7 998.3L1517.5 989.9L1518.2 987.9L1519 992.6L1519.8 1003L1520.5 1017.5L1521.3 1033.9L1522.1 1049.8L1522.8 1063.7L1523.6 1074.9L1524.4 1083.1L1525.1 1088.7L1525.9 1092.2L1526.6 1094.2L1527.4 1095.4L1528.2 1095.9L1528.9 1096.2L1529.7 1096.3L1530.5 1096.4L1530.9 1096.4" stroke="#0f55f0" stroke-width="2.2"/>
<path d="M1052.3 1096.4H1547.2" stroke="#0f55f0" stroke-width="3.2"/>
</g>
<text transform="translate(628.3 768) rotate(-90)" textLength="41" lengthAdjust="spacingAndGlyphs" class="r" style="font-weight:bold">HeII</text>
<text transform="translate(782.9 779.6) rotate(-90)" textLength="45" lengthAdjust="spacingAndGlyphs">H<tspan style="font-style:italic">β</tspan><tspan class="sm" dy="5.5">nr</tspan></text>
<text transform="translate(870 768) rotate(-90)" textLength="65.4" lengthAdjust="spacingAndGlyphs">[OIIIa]</text>
<text transform="translate(912.4 768) rotate(-90)" textLength="65.4" lengthAdjust="spacingAndGlyphs">[OIIIb]</text>
<text transform="translate(1095.4 755.9) rotate(-90)" textLength="37.8" lengthAdjust="spacingAndGlyphs" class="r">[OI]</text>
<text transform="translate(1337.1 755.5) rotate(-90)" textLength="58.1" lengthAdjust="spacingAndGlyphs">[NIIa]</text>
<text transform="translate(1351.7 755.5) rotate(-90)" textLength="27.6" lengthAdjust="spacingAndGlyphs">H<tspan style="font-style:italic">α</tspan></text>
<text transform="translate(1385.6 755.5) rotate(-90)" textLength="58.1" lengthAdjust="spacingAndGlyphs">[NIIb]</text>
<text transform="translate(1499.8 755.5) rotate(-90)" textLength="56.7" lengthAdjust="spacingAndGlyphs">[SIIa]</text>
<text transform="translate(1515.1 755.5) rotate(-90)" textLength="56.7" lengthAdjust="spacingAndGlyphs">[SIIb]</text>
<clipPath id="cb"><rect x="598.8" y="237" width="948.4" height="362.8"/></clipPath>
<g clip-path="url(#cb)" fill="none">
<path d="M809.8 556.7L810.5 580.5L811.2 538.9L812 576.2L812.7 589L813.5 600.7L814.2 537.9L815 571.5L815.7 568.4L816.4 552.5L817.2 567.8L817.9 571.7L818.7 563.6L819.4 553.3L820.2 542.3L820.9 598.7L821.6 581.3L822.4 574L823.1 552.7L823.9 537.9L824.6 556.9L825.4 573.7L826.1 587.7L826.9 605.2L827.6 585.5L828.3 565L829.1 569.3L829.8 572L830.6 559.8L831.3 559.8L832.1 560.7L832.8 537.9L833.5 588.5L834.3 556.7L835 581.7L835.8 576.1L836.5 580.4L837.3 604.4L838 568.9L838.7 589.2L839.5 553.7L840.2 555.8L841 557.4L841.7 566L842.5 577.4L843.2 576.7L843.9 568.6L844.7 593.4L845.4 581L846.2 577.5L846.9 587L847.7 610.6L848.4 558.3L849.2 562.7L849.9 575.1L850.6 585.7L851.4 540.6L852.1 583L852.9 541.3L853.6 554.4L854.4 587.1L855.1 598.1L855.8 579.6L856.6 573.1L857.3 559.7L858.1 558.3L858.8 565.1L859.6 564.9L860.3 542.1L861 571.7L861.8 578.6L862.5 540.5L863.3 561.3L864 549.4L864.8 502L865.5 483.3L866.2 509.7L867 510L867.7 584L868.5 559.1L869.2 550.6L870 569.6L870.7 557L871.5 537.9L872.2 568.4L872.9 551.7L873.7 601L874.4 589.5L875.2 607.5L875.9 583.7L876.7 579.9L877.4 593L878.1 578.8L878.9 538.9L879.6 544.7L880.4 562.9L881.1 553.9L881.9 570.8L882.6 599.5L883.3 596.3L884.1 605L884.8 587.2L885.6 573L886.3 589.1L887.1 580.4L887.8 564.4L888.5 571.9L889.3 555.8L890 538.6L890.8 575.8L891.5 537.9L892.3 537.9L893 594.4L893.8 610.7L894.5 554.5L895.2 582.1L896 580.1L896.7 555.8L897.5 565.5L898.2 578.6L899 567.7L899.7 552.8L900.4 565.5L901.2 595.4L901.9 613.5L902.7 591.1L903.4 550.7L904.2 547.1L904.9 596.3L905.6 596.6L906.4 597L907.1 567.5L907.9 579.2L908.6 553L909.4 576.8L910.1 590.3L910.8 563.1L911.6 570.3L912.3 586.6L913.1 562.4L913.8 576.3L914.6 586.5L915.3 577.2L916.1 565.5L916.8 560L917.5 566.3L918.3 585.7L919 583.1L919.8 595.1L920.5 573.5L921.3 577L922 579L922.7 587.5L923.5 580L924.2 570.8L925 566.8L925.7 599.8L926.5 593.3L927.2 561.2L927.9 552L928.7 569.8L929.4 568.9L930.2 575.5L930.9 558.8L931.7 594.9L932.4 595.9L933.1 570.6L933.9 556.9L934.6 577.7L935.4 564L936.1 573.7L936.9 558.5L937.6 573.8L938.4 580.5L939.1 574.7L939.8 567.8L940.6 586.5L941.3 564.6L942.1 553L942.8 565.1L943.6 554.8L944.3 560.4L945 579.9L945.8 570.3L946.5 581.8L947.3 572.4L948 581.7L948.8 587.9L949.5 571.3L950.2 584.4L951 560.2L951.7 587.8L952.5 565.6L953.2 603.2L954 563.2L954.7 563.4L955.4 583.8L956.2 594L956.9 560.1L957.7 564.9L958.4 571.6L959.2 564.2L959.9 576.9L960.7 582.5L961.4 578.2L962.1 575.6L962.9 579.4L963.6 567.5L964.4 584.4L965.1 568.1L965.9 578.2L966.6 564.6L967.3 577.3L968.1 593.9L968.8 568.7L969.6 558.6L970.3 553L971.1 588.7L971.8 561.4L972.5 566L973.3 583L974 569.4L974.8 569.3L975.5 584.9L976.3 564L977 584.3L977.7 564.1L978.5 582.7L979.2 566.3L980 572.9L980.7 551.2L981.5 585.9L982.2 573.2L983 589L983.7 559.7L984.4 578.4L985.2 567.5L985.9 574.1L986.7 556.4L987.4 569.7L988.2 596L988.9 565.7L989.6 569.1L990.4 575.6L991.1 566.3L991.9 587.3L992.6 575.1L993.4 582.5L994.1 586.8L994.8 591.6L995.6 559.3L996.3 582.1L997.1 566.1L997.8 520.1L998.9 471.9L999.3 484.5L1000.1 534.5L1000.8 555.8L1001.5 569.7L1002.3 576.3L1003 575.7L1003.8 586.2L1004.5 606.2L1005.3 580.4L1006 572.6L1006.7 577.5L1007.5 560.1L1008.2 575.6L1009 555L1009.7 574.1L1010.5 584.6L1011.2 571L1011.9 558.5L1012.7 547.8L1013.4 572.8L1014.2 563.5L1014.9 578.6L1015.7 566.6L1016.4 578.3L1017.1 578.7L1017.9 552.2L1018.6 560.5L1019.4 565.8L1020.1 563.5L1020.9 570.9L1021.6 571.8L1022.4 582.6L1023.1 529.4L1024 461.9L1024.6 492.8L1025.3 568.5L1026.1 565.2L1026.8 570.7L1027.6 571.2L1028.3 555L1029 577.5L1029.8 584.3L1030.5 574L1031.3 579.7L1032 579.5L1032.8 590.5L1033.5 558.7L1034.2 561.5L1035 515.1L1035.7 389.1L1036.3 326.8L1037.2 433.2L1038 533.6L1038.7 572.2L1039.4 574.9L1040.2 565.1L1040.9 574.5L1041.7 579.4L1042.4 592.2L1043.2 558.1L1043.9 581.2L1044.7 569.3L1045.4 571.2L1046.1 544.3L1046.9 578.5L1047.6 574.7L1048.4 569.9L1049.1 574L1049.9 575.1L1050.6 573.6L1051.3 582.4L1052.1 586L1052.8 587.8L1053.6 577.6L1054.3 582.4L1055.1 600L1055.8 581L1056.5 564.7L1057.3 572.4L1058 596.9L1058.8 577.9L1059.5 570.1L1060.3 576.5L1061 573L1061.7 575.2L1062.5 583L1063.2 559L1064 581.4L1064.7 570L1065.5 566.8L1066.2 579.8L1067 573.3L1067.7 597.4L1068.4 569.3L1069.2 567.6L1069.9 573.3L1070.7 590.2L1071.4 565.5L1072.2 566.5L1072.9 560.4L1073.6 553.4L1074.4 570.8L1075.1 565.7L1075.9 579.1L1076.6 569L1077.4 593.3L1078.1 584.9L1078.8 571.9L1079.6 570.7L1080.3 596.2L1081.1 573.8L1081.8 543L1082.6 580.8L1083.3 568.2L1084 586.5L1084.8 570.3L1085.5 575.4L1086.3 544L1087 574.1L1087.8 580.8L1088.5 582.5L1089.3 560.1L1090 581.7L1090.7 592L1091.5 568.1L1092.2 572.7L1093 568.6L1093.7 575.1L1094.5 593.4L1095.2 594L1095.9 573L1096.7 563.8L1097.4 556.8L1098.2 561.7L1098.9 582.6L1099.7 581.1L1100.4 560L1101.1 592.3L1101.9 574.9L1102.6 556.8L1103.4 571.9L1104.1 571.4L1104.9 553L1105.6 572.5L1106.3 576.5L1107.1 574L1107.8 583.5L1108.6 561.1L1109.3 593.9L1110.1 585.2L1110.8 569.7L1111.6 556.3L1112.3 577.5L1113 587.4L1113.8 575L1114.5 561.3L1115.3 559.2L1116 570.8L1116.8 562.9L1117.5 559.7L1118.2 580.5L1119 577.3L1119.7 562.6L1120.5 574.6L1121.2 598.5L1122 610.3L1122.7 573.2L1123.4 546.4L1124.2 537.5L1124.9 535L1125.7 576.8L1126.4 578.3L1127.2 581L1127.9 559.6L1128.6 586.3L1129.4 564.6L1130.1 559.9L1130.9 573.6L1131.6 570.3L1132.4 559.7L1133.1 569.7L1133.9 579.4L1134.6 592.7L1135.3 577.1L1136.1 577.9L1136.8 580.7L1137.6 557.5L1138.3 591.8L1139.1 586.1L1139.8 567.2L1140.5 567.8L1141.3 590.5L1142 576.5L1142.8 577.5L1143.5 595.5L1144.3 565.2L1145 573.5L1145.7 556.2L1146.5 588.7L1147.2 562L1148 572.1L1148.7 566.5L1149.5 579.2L1150.2 581.8L1150.9 570.6L1151.7 577.1L1152.4 580.3L1153.2 572.2L1153.9 572.7L1154.7 563.1L1155.4 582L1156.2 570.8L1156.9 561.5L1157.6 552.5L1158.4 584L1159.1 577.5L1159.9 572.3L1160.6 585.4L1161.4 575.7L1162.1 562.4L1162.8 603.8L1163.6 575.5L1164.3 546.7L1165.1 546.6L1165.8 564.2L1166.6 561.4L1167.3 569.7L1168 573.7L1168.8 582.1L1169.5 575.5L1170.3 571.9L1171 571.6L1171.8 571.7L1172.5 595.1L1173.2 569.1L1174 551.7L1174.7 568.8L1175.5 590.7L1176.2 597.8L1177 577.8L1177.7 590.8L1178.5 567.3L1179.2 587.2L1179.9 570L1180.7 564.1L1181.4 554L1182.5 468.6L1182.9 492.6L1183.7 545.3L1184.4 576.6L1185.1 553.9L1185.9 564.6L1186.6 579.6L1187.4 593.5L1188.1 577.3L1188.9 579.3L1189.6 562.9L1190.3 566.8L1191.1 579L1191.8 601.7L1192.6 568.9L1193.3 563.5L1194.1 575L1194.8 588.4L1195.5 576.2L1196.3 590.7L1197 587.5L1197.8 588.6L1198.5 586.5L1199.3 579.4L1200 567L1200.8 553L1201.5 558.8L1202.2 559.5L1203 550.9L1203.7 586.6L1204.5 564.5L1205.2 577.9L1206 563.8L1206.7 570.7L1207.4 579.3L1208.2 579.9L1208.9 579.9L1209.7 566.4L1210.4 585.5L1211.2 573.9L1211.9 571.7L1212.6 590.6L1213.4 587L1214.1 576.6L1214.9 583.2L1215.6 571.1L1216.4 570.3L1217.1 576.9L1217.8 559.8L1218.6 582.6L1219.3 575.7L1220.1 554.3L1220.8 582.3L1221.6 574.6L1222.3 557.6L1223.1 553.4L1223.8 568.1L1224.5 578.5L1225.3 560.4L1226 572.7L1226.8 562.9L1227.5 567.3L1228.3 561.8L1229 558.8L1229.7 582L1230.5 568.6L1231.2 562.6L1232 580.4L1232.7 566.5L1233.5 577.2L1234.2 558.9L1234.9 571.7L1235.7 569.4L1236.4 568.2L1237.2 572.1L1237.9 592.2L1238.7 565L1239.4 572.5L1240.1 587.5L1240.9 564.9L1241.6 578.3L1242.4 579.2L1243.1 557.7L1243.9 571.9L1244.6 574.9L1245.4 581.9L1246.1 562.1L1246.8 568.7L1247.6 582.6L1248.3 576.1L1249.1 570.1L1249.8 565.2L1250.6 564.3L1251.3 559.5L1252 567.2L1252.8 583L1253.5 571.5L1254.3 591.5L1255 576.5L1255.8 569.2L1256.5 564.6L1257.2 541.7L1258 542.6L1258.7 548.1L1259.5 565.2L1260.2 589.6L1261 569.8L1261.7 559.6L1262.4 545.4L1263.4 516.1L1263.9 528.5L1264.7 581.5L1265.4 585.2L1266.2 571.9L1266.9 573.3L1267.7 565.9L1268.4 566.1L1269.1 547.7L1269.9 547.2L1270.6 577.6L1271.4 581.1L1272.1 560.1L1272.9 558.5L1273.6 571.6L1274.3 573L1275.1 584.1L1275.8 585.7L1276.6 572L1277.3 570.6L1278.1 563L1278.8 588L1279.5 568.7L1280.3 569.5L1281 583.7L1281.8 565L1282.5 581.5L1283.3 562.8L1284 586.4L1284.7 570.3L1285.5 562.4L1286.2 577.2L1287 568.3L1287.7 575.1L1288.5 571.9L1289.2 570.3L1290 553.5L1290.7 572.4L1291.4 594L1292.2 589.5L1292.9 580.6L1293.7 574.1L1294.4 584.1L1295.2 580.4L1295.9 582L1296.6 579.3L1297.4 579.7L1298.1 567.5L1298.9 555.1L1299.6 573.7L1300.4 569.8L1301.1 567.9L1301.8 576.6L1302.6 572.2L1303.3 577.2L1304.1 576L1304.8 546L1305.6 584.3L1306.3 594.4L1307 591.5L1307.8 563.1L1308.5 551.5L1309.3 602.8L1310 601.9L1310.8 602.7L1311.5 576.5L1312.3 567.8L1313 586.9L1313.7 566.8L1314.5 577.4L1315.2 575.5L1316 579.5L1316.7 576.1L1317.5 577.6L1318.2 570.9L1318.9 583.1L1319.7 606.1L1320.4 578.8L1321.2 571.3L1321.9 587.2L1322.7 585.9L1323.4 576.5L1324.1 583.3L1324.9 575.4L1325.6 550.5L1326.4 579.5L1327.1 570.7L1327.9 575.6L1328.6 577.6L1329.3 582.5L1330.1 576.3L1330.8 561.6L1331.6 607L1332.3 567.1L1333.1 574.2L1333.8 573L1334.6 580.8L1335.3 584.6L1336 597.5L1336.8 548.7L1337.5 570.8L1338.3 586.7L1339 586.9L1339.8 572.6L1340.5 576.6L1341.2 572.1L1342 569.5L1342.7 553.7L1343.5 583.3L1344.2 565.5L1345 572.5L1345.7 559.4L1346.4 566L1347.2 577L1347.9 577.8L1348.7 572.3L1349.4 557.5L1350.2 542.2L1350.9 580.3L1351.7 579.8L1352.4 561.2L1353.1 576.2L1353.9 595.7L1354.6 600.4L1355.4 571.4L1356.1 568.5L1356.9 572.6L1357.6 590.7L1358.3 577.7L1359.1 564.1L1359.8 568L1360.6 549.7L1361.3 577.7L1362.1 542.7L1362.8 568.6L1363.5 590.1L1364.3 563L1365 577.6L1365.8 575.2L1366.5 565.2L1367.3 525.6L1368 543.4L1368.7 578.1L1369.5 588.3L1370.2 583.8L1371 575.8L1371.7 556.4L1372.5 570.9L1373.2 567.7L1374 557.6L1374.7 578.2L1375.4 592L1376.2 565.4L1376.9 568.6L1377.7 561.6L1378.4 572.5L1379.2 577.9L1379.9 568.5L1380.6 573L1381.4 579.1L1382.1 576.9L1382.9 556.2L1383.6 563.5L1384.4 561.1L1385.1 560.5L1385.8 560.6L1386.6 573.7L1387.3 566.6L1388.1 572.8L1388.8 582.2L1389.6 582.5L1390.3 574.3L1391 574.5L1391.8 591.7L1392.5 558.2L1393.3 571.7L1394 573.1L1394.8 589.8L1395.5 569.4L1396.3 567L1397 562.8L1397.7 589.3L1398.5 576.8L1399.2 595.4L1400 581.5L1400.7 578.3L1401.5 576.8L1402.2 587.1L1402.9 579.4L1403.7 560.5L1404.4 568.5L1405.2 541.8L1405.9 568.9L1406.7 601.7L1407.4 551L1408.1 562.3L1408.9 564.1L1409.6 571.8L1410.4 580.4L1411.1 582.1L1411.9 565L1412.6 570.7L1413.3 586.8L1414.1 590.7L1414.8 578.2L1415.6 568L1416.3 576.2L1417.1 573L1417.8 581.7L1418.6 588L1419.3 558.8L1420 584.2L1420.8 574.5L1421.5 573.8L1422.3 586.1L1423 573.7L1423.8 567.5L1424.5 556.2L1425.2 556.9L1426 565.4L1426.7 574.3L1427.5 566.6L1428.2 578.9L1429 584.9L1429.7 552.5L1430.4 548.1L1431.3 501.1L1431.9 517.8L1432.7 539.2L1433.4 553.9L1434.2 460.6L1435.2 314.9L1435.6 356L1436.4 499.2L1437.1 575.7L1437.9 564.4L1438.6 546.6L1439.4 444.8L1440.3 307.5L1440.9 362L1441.6 501.5L1442.3 579.7L1443.1 568.6L1443.8 574.8L1444.6 590.1L1445.3 573.4L1446.1 585.1L1446.8 567L1447.5 560.4L1448.3 565.2L1449 570.4L1449.8 563.3L1450.5 566.2L1451.3 574L1452 580.3L1452.7 588.8L1453.5 593.2L1454.2 573.4L1455 572.7L1455.7 582.5L1456.5 592.3L1457.2 565L1457.9 582.6L1458.7 574.6L1459.4 588.2L1460.2 582.5L1460.9 552.3L1461.7 565.5L1462.4 577.7L1463.2 586.5L1463.9 575.6L1464.6 553.4L1465.4 567.8L1466.1 595.9L1466.9 587L1467.6 566L1468.4 581.7L1469.1 564.2L1469.8 569.4L1470.6 588.2L1471.3 578.4L1472.1 543L1472.8 530.8L1473.6 496.3L1474.4 445.1L1475 480.1L1475.8 527.4L1476.5 548.1L1477.3 510.9L1478.2 448.6L1478.8 474L1479.5 527.2L1480.2 569.8L1481 563.8L1481.7 581.8L1482.5 565.7L1483.2 575.4L1484 569L1484.7 572.7L1485.5 545.7L1486.2 569.5L1486.9 587.7L1487.7 585L1488.4 591.8L1489.2 573.4L1489.9 573.2L1490.7 572L1491.4 543.4L1492.1 557.6L1492.9 559.4L1493.6 546.3L1494.4 590.8L1495.1 559.7L1495.9 537.9L1496.6 576.1L1497.3 567L1498.1 608.9L1498.8 590.3L1499.6 551.2L1500.3 574.5L1501.1 567.3L1501.8 583.3L1502.5 579.6L1503.3 584L1504 584.4L1504.8 547.8L1505.5 558.2L1506.3 563.8L1507 583.8L1507.8 567.7L1508.5 572.6L1509.2 583L1510 587.3L1510.7 607.8L1511.5 582.2L1512.2 559.8L1513 605.5L1513.7 578.7L1514.4 588.4L1515.2 581.8L1515.9 555.3L1516.7 576L1517.4 571.5L1518.2 550.6L1518.9 569.9L1519.6 591.6L1520.4 561.4L1521.1 555.4L1521.9 570.5L1522.6 594.8L1523.4 582.9L1524.1 556.7L1524.8 582.7L1525.6 583.7L1526.3 586.1L1527.1 558.6L1527.8 590.7L1528.6 570.5L1529.3 582.5L1530.1 562.9L1530.8 560.6L1531.5 573.7L1532.3 567.7L1533 584.2L1533.8 548.9L1534.5 605.5L1535.3 602.9L1536 537.9L1536.7 556L1537.5 570L1538.2 562L1539 569L1539.7 584.5L1540.5 556.7L1541.2 575.1L1541.9 593.3L1542.7 590.4L1543.4 581.2L1544.2 569L1544.9 571.2L1545.7 564L1546.4 564.3" stroke="#000" stroke-width="1.45" stroke-linejoin="round"/>
<path d="M809.8 574L812.8 574L815.9 574L819 574L822.1 574L825.1 574L828.2 574L831.3 574L834.4 574L837.4 574L840.5 574L843.6 574L846.7 574L849.7 574L852.8 574L855.9 574L859 574L862 574L865.1 574L868.2 574L871.3 574L874.3 574L877.4 574L880.5 574L883.6 574L886.7 574L889.7 574L892.8 574L895.9 574L899 574L902 574L905.1 574L908.2 574L911.3 574L914.3 574L917.4 574L920.5 574L923.6 574L926.6 574L929.7 574L932.8 574.2L935.9 574.7L938.9 575.3L942 575.8L945.1 576.3L948.2 576.6L951.2 576.9L954.3 577.1L957.4 577.2L960.5 577.1L963.5 576.9L966.6 576.7L969.7 576.3L972.8 575.9L975.9 575.4L978.9 574.8L982 574.3L985.1 574L988.2 574L991.2 574L994.3 574L995.6 574L995.8 573.9L996 573.8L996.2 573.6L996.4 573.1L996.6 572.1L996.8 570.3L997 567.1L997.2 562.1L997.4 556.8L997.4 554.6L997.6 544.5L997.8 531.7L998.1 517.1L998.3 502.1L998.5 488.6L998.7 478.7L998.9 474.1L999.1 475.7L999.3 483.1L999.5 495L999.7 509.5L999.9 524.6L1000.1 538.4L1000.3 549.9L1000.5 556.8L1000.5 558.7L1000.7 564.9L1000.9 568.9L1001.1 571.3L1001.3 572.7L1001.5 573.4L1001.7 573.7L1001.9 573.9L1002.2 574L1003.5 574L1006.6 574L1009.7 574L1012.8 574L1015.8 574L1018.9 574L1020.7 574L1020.9 574L1021.1 573.9L1021.3 573.7L1021.5 573.2L1021.7 572.4L1021.9 570.8L1022 570.3L1022.1 568.2L1022.4 564L1022.6 557.7L1022.8 549.1L1023 538.3L1023.2 526L1023.4 513.3L1023.6 502L1023.8 493.6L1024 489.8L1024.2 491.1L1024.4 497.3L1024.6 507.4L1024.8 519.6L1025 532.3L1025.1 535.4L1025.2 544L1025.4 553.7L1025.6 561.1L1025.8 566.3L1026 569.7L1026.2 571.7L1026.5 572.9L1026.7 573.5L1026.9 573.8L1027.1 573.9L1027.3 574L1028.1 574L1031.2 574L1033 573.9L1033.2 573.8L1033.4 573.6L1033.6 573L1033.8 571.8L1034 569.3L1034.2 564.8L1034.3 563.2L1034.4 557.1L1034.7 542.4L1034.9 524.2L1035.1 499.3L1035.3 468L1035.5 432.1L1035.7 395.3L1035.9 362.2L1036.1 338L1036.3 326.8L1036.5 330.6L1036.7 348.7L1036.9 377.9L1037.1 413.5L1037.3 450.4L1037.4 459.3L1037.5 484.3L1037.7 512.5L1037.9 534L1038.1 549.2L1038.3 559L1038.6 564.9L1038.8 568.3L1039 570L1039.2 570.9L1039.4 571.3L1039.6 571.4L1040.4 571.5L1043.5 571.5L1046.6 571.4L1049.7 571.4L1052.8 571.3L1055.8 571.2L1058.9 571.2L1062 571.1L1065.1 571.1L1068.1 571L1071.2 570.9L1074.3 570.9L1077.4 570.8L1080.4 570.8L1083.5 570.7L1086.6 570.7L1089.7 570.6L1092.7 570.6L1095.8 570.5L1098.9 570.5L1102 570.5L1105 570.4L1108.1 570.4L1111.2 570.3L1114.3 570.3L1117.3 570.3L1120.4 570.2L1123.5 570.2L1126.6 570.2L1129.6 570.2L1132.7 570.2L1135.8 570.1L1138.9 570.1L1142 570.1L1145 570.1L1148.1 570.1L1151.2 570.1L1154.3 570.1L1157.3 570.1L1160.4 570.1L1163.5 570.1L1166.6 570.1L1169.6 570.1L1172.7 570.1L1175.8 570.1L1178.9 570.2L1181.9 570.2L1185 570.2L1188.1 570.2L1191.2 570.3L1194.2 570.3L1197.3 570.3L1200.4 570.3L1203.5 570.4L1206.5 570.4L1209.6 570.5L1212.7 570.5L1215.8 570.5L1218.8 570.6L1221.9 570.6L1225 570.7L1228.1 570.7L1231.2 570.8L1234.2 570.8L1237.3 570.9L1240.4 571L1243.5 571L1246.5 571.1L1249.6 571.1L1252.7 571.2L1255.8 571.2L1258.8 571.3L1261.9 571.4L1265 571.4L1268.1 571.5L1271.1 571.6L1274.2 571.6L1277.3 571.7L1280.4 571.7L1283.4 571.8L1286.5 571.9L1289.6 571.9L1292.7 572L1295.7 572.1L1298.8 572.1L1301.9 572.2L1305 572.2L1308 572.3L1311.1 572.3L1314.2 572.4L1317.3 572.5L1320.4 572.5L1323.4 572.6L1326.5 572.6L1329.6 572.7L1332.7 572.7L1335.7 572.8L1338.8 572.8L1341.9 572.8L1345 572.9L1348 572.9L1351.1 573L1354.2 573L1357.3 573L1360.3 573.1L1363.4 573.1L1366.5 573.1L1369.6 573.1L1372.6 573.1L1375.7 573.2L1378.8 573.2L1381.9 573.2L1384.9 573.2L1388 573.2L1391.1 573.2L1394.2 573.2L1397.3 573.2L1400.3 573.2L1403.4 573.2L1406.5 573.2L1409.6 573.2L1412.6 573.2L1415.7 573.2L1418.8 573.2L1421.9 573.1L1424.9 573.1L1428 573.1L1428.2 573L1428.4 572.9L1428.6 572.7L1428.8 572.3L1429 571.5L1429.2 569.9L1429.4 567.3L1429.6 563L1429.9 556.8L1430.1 548.2L1430.3 537.4L1430.5 525.1L1430.7 512.4L1430.9 501L1431.1 492.7L1431.3 488.8L1431.5 490.1L1431.7 496.4L1431.9 503.6L1431.9 506.4L1432.1 515.3L1432.1 518.5L1432.3 527.8L1432.3 530.8L1432.5 539.2L1432.5 541.8L1432.7 548.2L1432.7 549.9L1432.9 553.7L1432.9 554.4L1433.1 554.8L1433.1 554.3L1433.3 550.7L1433.3 548.7L1433.5 540.4L1433.5 536.8L1433.7 523.1L1433.8 517.6L1433.9 498.3L1434 491L1434.1 466.6L1434.2 457.8L1434.3 430.1L1434.4 420.6L1434.5 392.4L1434.6 383.4L1434.7 358.6L1434.9 333.8L1435.1 322.3L1435.3 326.2L1435.5 344.8L1435.8 374.7L1436 411.2L1436.2 448.9L1436.4 483.6L1436.6 512.5L1436.8 534.5L1437 550L1437.2 560L1437.2 561.8L1437.4 565.8L1437.6 568.6L1437.8 569.1L1438 567.5L1438.2 563.3L1438.4 555.6L1438.6 543L1438.8 524.4L1439 498.9L1439.2 466.8L1439.4 430.1L1439.6 392.4L1439.9 358.5L1440.1 333.7L1440.3 322.3L1440.3 321.8L1440.5 326.2L1440.7 344.7L1440.9 374.6L1441.1 411.1L1441.3 448.9L1441.5 483.6L1441.7 512.5L1441.9 534.5L1442.1 550L1442.3 560.1L1442.5 566.2L1442.7 569.6L1442.9 571.4L1443.1 572.3L1443.3 572.7L1443.4 572.7L1443.5 572.8L1446.5 572.9L1449.5 572.9L1452.6 572.8L1455.7 572.8L1458.8 572.7L1461.8 572.7L1464.9 572.7L1468 572.6L1471.1 572.5L1471.3 572.5L1471.5 572.3L1471.7 572.1L1471.9 571.5L1472.1 570.3L1472.3 568.1L1472.5 564.4L1472.7 558.5L1472.9 549.7L1473.1 537.8L1473.3 522.8L1473.5 505.5L1473.7 487.9L1473.9 472L1474.1 460.4L1474.4 455L1474.6 456.8L1474.8 465.5L1474.9 475.6L1475 479.5L1475.1 492.1L1475.2 496.5L1475.3 509.7L1475.4 514L1475.5 526.2L1475.6 529.9L1475.7 539.9L1475.8 542.7L1475.9 549.8L1476 551.6L1476.1 555.5L1476.2 556.3L1476.4 556.9L1476.4 556.6L1476.6 553.9L1476.6 552.5L1476.8 546.6L1476.8 544.1L1477 535L1477 531.4L1477.2 519.6L1477.2 515.3L1477.4 501.7L1477.4 497.1L1477.6 483.2L1477.6 478.8L1477.8 466.5L1478 454.3L1478.2 448.6L1478.4 450.6L1478.6 459.7L1478.8 474.5L1479 492.5L1479.2 511.1L1479.4 528.3L1479.6 542.5L1479.8 553.4L1480 561.1L1480.2 566L1480.3 566.9L1480.5 569L1480.7 570.7L1480.9 571.6L1481.1 572L1481.3 572.2L1481.5 572.3L1483.4 572.3L1486.5 572.3L1489.5 572.2L1492.6 572.2L1495.7 572.1L1498.8 572L1501.8 572L1504.9 571.9L1508 571.9L1511.1 571.8L1514.1 571.7L1517.2 571.7L1520.3 571.6L1523.4 571.5L1526.4 571.5L1529.5 571.4L1532.6 571.4L1535.7 571.3L1538.7 571.2L1541.8 571.2L1544.9 571.1" stroke="#f5222d" stroke-width="1.9" stroke-dasharray="8.5 3.5 2 3.5"/>
</g>
<path d="M635.1 262H723.1" stroke="#000" stroke-width="3.6" fill="none"/>
<text x="737.6" y="269" class="lg">obj.</text>
<path d="M635.1 286.1H723.1" stroke="#f5222d" stroke-width="3.6" stroke-dasharray="12 5.7 3.8 5.4" fill="none"/>
<text x="737.6" y="293.1" class="lg">fit</text>
<path d="M635.1 310.1H723.1" stroke="#000" stroke-width="3.6" stroke-dasharray="3 5.4" fill="none"/>
<text x="737.6" y="317.1" class="lg">res.</text>
<path d="M635.1 334.1H723.1" stroke="#0f55f0" stroke-width="3.6" fill="none"/>
<text x="737.6" y="341.1" class="lg">emi.</text>
<path d="M162.9 599.8v-3.5 M162.9 246v3.5 M180.6 599.8v-3.5 M180.6 246v3.5 M198.3 599.8v-3.5 M198.3 246v3.5 M216 599.8v-3.5 M216 246v3.5 M233.8 599.8v-7.1 M233.8 246v7.1 M251.5 599.8v-3.5 M251.5 246v3.5 M269.2 599.8v-3.5 M269.2 246v3.5 M286.9 599.8v-3.5 M286.9 246v3.5 M304.6 599.8v-3.5 M304.6 246v3.5 M322.3 599.8v-7.1 M322.3 246v7.1 M340 599.8v-3.5 M340 246v3.5 M357.7 599.8v-3.5 M357.7 246v3.5 M375.4 599.8v-3.5 M375.4 246v3.5 M393.1 599.8v-3.5 M393.1 246v3.5 M410.8 599.8v-7.1 M410.8 246v7.1 M428.6 599.8v-3.5 M428.6 246v3.5 M446.3 599.8v-3.5 M446.3 246v3.5 M464 599.8v-3.5 M464 246v3.5 M481.7 599.8v-3.5 M481.7 246v3.5 M145.2 582.1h3.5 M499.4 582.1h-3.5 M145.2 564.4h3.5 M499.4 564.4h-3.5 M145.2 546.7h3.5 M499.4 546.7h-3.5 M145.2 529h3.5 M499.4 529h-3.5 M145.2 511.3h7.1 M499.4 511.3h-7.1 M145.2 493.7h3.5 M499.4 493.7h-3.5 M145.2 476h3.5 M499.4 476h-3.5 M145.2 458.3h3.5 M499.4 458.3h-3.5 M145.2 440.6h3.5 M499.4 440.6h-3.5 M145.2 422.9h7.1 M499.4 422.9h-7.1 M145.2 405.2h3.5 M499.4 405.2h-3.5 M145.2 387.5h3.5 M499.4 387.5h-3.5 M145.2 369.8h3.5 M499.4 369.8h-3.5 M145.2 352.1h3.5 M499.4 352.1h-3.5 M145.2 334.4h7.1 M499.4 334.4h-7.1 M145.2 316.8h3.5 M499.4 316.8h-3.5 M145.2 299.1h3.5 M499.4 299.1h-3.5 M145.2 281.4h3.5 M499.4 281.4h-3.5 M145.2 263.7h3.5 M499.4 263.7h-3.5" stroke="#000" stroke-width="2.2" fill="none"/>
<rect x="145.2" y="246" width="354.2" height="353.8" fill="none" stroke="#000" stroke-width="2.5"/>
<path d="M624.4 599.8v-3.6 M624.4 237v3.6 M650.1 599.8v-3.6 M650.1 237v3.6 M675.7 599.8v-3.6 M675.7 237v3.6 M701.3 599.8v-3.6 M701.3 237v3.6 M727 599.8v-3.6 M727 237v3.6 M752.6 599.8v-3.6 M752.6 237v3.6 M778.2 599.8v-7.3 M778.2 237v7.3 M803.9 599.8v-3.6 M803.9 237v3.6 M829.5 599.8v-3.6 M829.5 237v3.6 M855.1 599.8v-3.6 M855.1 237v3.6 M880.8 599.8v-3.6 M880.8 237v3.6 M906.4 599.8v-3.6 M906.4 237v3.6 M932 599.8v-3.6 M932 237v3.6 M957.7 599.8v-3.6 M957.7 237v3.6 M983.3 599.8v-3.6 M983.3 237v3.6 M1008.9 599.8v-3.6 M1008.9 237v3.6 M1034.6 599.8v-7.3 M1034.6 237v7.3 M1060.2 599.8v-3.6 M1060.2 237v3.6 M1085.8 599.8v-3.6 M1085.8 237v3.6 M1111.4 599.8v-3.6 M1111.4 237v3.6 M1137.1 599.8v-3.6 M1137.1 237v3.6 M1162.7 599.8v-3.6 M1162.7 237v3.6 M1188.3 599.8v-3.6 M1188.3 237v3.6 M1214 599.8v-3.6 M1214 237v3.6 M1239.6 599.8v-3.6 M1239.6 237v3.6 M1265.2 599.8v-3.6 M1265.2 237v3.6 M1290.9 599.8v-7.3 M1290.9 237v7.3 M1316.5 599.8v-3.6 M1316.5 237v3.6 M1342.1 599.8v-3.6 M1342.1 237v3.6 M1367.8 599.8v-3.6 M1367.8 237v3.6 M1393.4 599.8v-3.6 M1393.4 237v3.6 M1419 599.8v-3.6 M1419 237v3.6 M1444.7 599.8v-3.6 M1444.7 237v3.6 M1470.3 599.8v-3.6 M1470.3 237v3.6 M1495.9 599.8v-3.6 M1495.9 237v3.6 M1521.6 599.8v-3.6 M1521.6 237v3.6 M598.8 593.6h9.5 M1547.2 593.6h-9.5 M598.8 574h19 M1547.2 574h-19 M598.8 554.4h9.5 M1547.2 554.4h-9.5 M598.8 534.8h9.5 M1547.2 534.8h-9.5 M598.8 515.1h9.5 M1547.2 515.1h-9.5 M598.8 495.5h19 M1547.2 495.5h-19 M598.8 475.9h9.5 M1547.2 475.9h-9.5 M598.8 456.3h9.5 M1547.2 456.3h-9.5 M598.8 436.6h9.5 M1547.2 436.6h-9.5 M598.8 417h19 M1547.2 417h-19 M598.8 397.4h9.5 M1547.2 397.4h-9.5 M598.8 377.8h9.5 M1547.2 377.8h-9.5 M598.8 358.1h9.5 M1547.2 358.1h-9.5 M598.8 338.5h19 M1547.2 338.5h-19 M598.8 318.9h9.5 M1547.2 318.9h-9.5 M598.8 299.3h9.5 M1547.2 299.3h-9.5 M598.8 279.6h9.5 M1547.2 279.6h-9.5 M598.8 260h19 M1547.2 260h-19 M598.8 240.4h9.5 M1547.2 240.4h-9.5" stroke="#000" stroke-width="2.2" fill="none"/>
<rect x="598.8" y="237" width="948.4" height="362.8" fill="none" stroke="#000" stroke-width="2.5"/>
<path d="M168.8 1106v-4.2 M168.8 681.4v4.2 M192.4 1106v-8.5 M192.4 681.4v8.5 M216 1106v-4.2 M216 681.4v4.2 M239.7 1106v-4.2 M239.7 681.4v4.2 M263.3 1106v-4.2 M263.3 681.4v4.2 M286.9 1106v-8.5 M286.9 681.4v8.5 M310.5 1106v-4.2 M310.5 681.4v4.2 M334.1 1106v-4.2 M334.1 681.4v4.2 M357.7 1106v-4.2 M357.7 681.4v4.2 M381.3 1106v-8.5 M381.3 681.4v8.5 M404.9 1106v-4.2 M404.9 681.4v4.2 M428.6 1106v-4.2 M428.6 681.4v4.2 M452.2 1106v-4.2 M452.2 681.4v4.2 M475.8 1106v-8.5 M475.8 681.4v8.5 M145.2 1084.8h3.5 M499.4 1084.8h-3.5 M145.2 1063.5h3.5 M499.4 1063.5h-3.5 M145.2 1042.3h3.5 M499.4 1042.3h-3.5 M145.2 1021.1h7.1 M499.4 1021.1h-7.1 M145.2 999.9h3.5 M499.4 999.9h-3.5 M145.2 978.6h3.5 M499.4 978.6h-3.5 M145.2 957.4h3.5 M499.4 957.4h-3.5 M145.2 936.2h7.1 M499.4 936.2h-7.1 M145.2 914.9h3.5 M499.4 914.9h-3.5 M145.2 893.7h3.5 M499.4 893.7h-3.5 M145.2 872.5h3.5 M499.4 872.5h-3.5 M145.2 851.2h7.1 M499.4 851.2h-7.1 M145.2 830h3.5 M499.4 830h-3.5 M145.2 808.8h3.5 M499.4 808.8h-3.5 M145.2 787.5h3.5 M499.4 787.5h-3.5 M145.2 766.3h7.1 M499.4 766.3h-7.1 M145.2 745.1h3.5 M499.4 745.1h-3.5 M145.2 723.9h3.5 M499.4 723.9h-3.5 M145.2 702.6h3.5 M499.4 702.6h-3.5" stroke="#000" stroke-width="2.2" fill="none"/>
<rect x="145.2" y="681.4" width="354.2" height="424.6" fill="none" stroke="#000" stroke-width="2.5"/>
<path d="M607.7 1106v-4.2 M607.7 681.4v4.2 M616.5 1106v-4.2 M616.5 681.4v4.2 M625.4 1106v-4.2 M625.4 681.4v4.2 M634.2 1106v-4.2 M634.2 681.4v4.2 M643.1 1106v-8.5 M643.1 681.4v8.5 M652 1106v-4.2 M652 681.4v4.2 M660.8 1106v-4.2 M660.8 681.4v4.2 M669.7 1106v-4.2 M669.7 681.4v4.2 M678.5 1106v-4.2 M678.5 681.4v4.2 M687.4 1106v-4.2 M687.4 681.4v4.2 M696.3 1106v-4.2 M696.3 681.4v4.2 M705.1 1106v-4.2 M705.1 681.4v4.2 M714 1106v-4.2 M714 681.4v4.2 M722.8 1106v-4.2 M722.8 681.4v4.2 M731.7 1106v-8.5 M731.7 681.4v8.5 M740.6 1106v-4.2 M740.6 681.4v4.2 M749.4 1106v-4.2 M749.4 681.4v4.2 M758.3 1106v-4.2 M758.3 681.4v4.2 M767.1 1106v-4.2 M767.1 681.4v4.2 M776 1106v-4.2 M776 681.4v4.2 M784.9 1106v-4.2 M784.9 681.4v4.2 M793.7 1106v-4.2 M793.7 681.4v4.2 M802.6 1106v-4.2 M802.6 681.4v4.2 M811.4 1106v-4.2 M811.4 681.4v4.2 M820.3 1106v-8.5 M820.3 681.4v8.5 M829.2 1106v-4.2 M829.2 681.4v4.2 M838 1106v-4.2 M838 681.4v4.2 M846.9 1106v-4.2 M846.9 681.4v4.2 M855.7 1106v-4.2 M855.7 681.4v4.2 M864.6 1106v-4.2 M864.6 681.4v4.2 M873.5 1106v-4.2 M873.5 681.4v4.2 M882.3 1106v-4.2 M882.3 681.4v4.2 M891.2 1106v-4.2 M891.2 681.4v4.2 M900 1106v-4.2 M900 681.4v4.2 M908.9 1106v-8.5 M908.9 681.4v8.5 M917.8 1106v-4.2 M917.8 681.4v4.2 M926.6 1106v-4.2 M926.6 681.4v4.2 M935.5 1106v-4.2 M935.5 681.4v4.2 M944.3 1106v-4.2 M944.3 681.4v4.2 M598.8 1099.8h3.5 M953.2 1099.8h-3.5 M598.8 1081.2h3.5 M953.2 1081.2h-3.5 M598.8 1062.5h7.1 M953.2 1062.5h-7.1 M598.8 1043.8h3.5 M953.2 1043.8h-3.5 M598.8 1025.2h3.5 M953.2 1025.2h-3.5 M598.8 1006.5h3.5 M953.2 1006.5h-3.5 M598.8 987.8h7.1 M953.2 987.8h-7.1 M598.8 969.1h3.5 M953.2 969.1h-3.5 M598.8 950.5h3.5 M953.2 950.5h-3.5 M598.8 931.8h3.5 M953.2 931.8h-3.5 M598.8 913.1h7.1 M953.2 913.1h-7.1 M598.8 894.5h3.5 M953.2 894.5h-3.5 M598.8 875.8h3.5 M953.2 875.8h-3.5 M598.8 857.1h3.5 M953.2 857.1h-3.5 M598.8 838.5h7.1 M953.2 838.5h-7.1 M598.8 819.8h3.5 M953.2 819.8h-3.5 M598.8 801.1h3.5 M953.2 801.1h-3.5 M598.8 782.4h3.5 M953.2 782.4h-3.5 M598.8 763.8h7.1 M953.2 763.8h-7.1 M598.8 745.1h3.5 M953.2 745.1h-3.5 M598.8 726.4h3.5 M953.2 726.4h-3.5 M598.8 707.8h3.5 M953.2 707.8h-3.5 M598.8 689.1h7.1 M953.2 689.1h-7.1" stroke="#000" stroke-width="2.2" fill="none"/>
<rect x="598.8" y="681.4" width="354.4" height="424.6" fill="none" stroke="#000" stroke-width="2.5"/>
<path d="M1062 1106v-4.2 M1062 681.4v4.2 M1071.7 1106v-4.2 M1071.7 681.4v4.2 M1081.4 1106v-4.2 M1081.4 681.4v4.2 M1091.1 1106v-4.2 M1091.1 681.4v4.2 M1100.8 1106v-8.5 M1100.8 681.4v8.5 M1110.5 1106v-4.2 M1110.5 681.4v4.2 M1120.2 1106v-4.2 M1120.2 681.4v4.2 M1129.9 1106v-4.2 M1129.9 681.4v4.2 M1139.6 1106v-4.2 M1139.6 681.4v4.2 M1149.3 1106v-4.2 M1149.3 681.4v4.2 M1159 1106v-4.2 M1159 681.4v4.2 M1168.7 1106v-4.2 M1168.7 681.4v4.2 M1178.5 1106v-4.2 M1178.5 681.4v4.2 M1188.2 1106v-4.2 M1188.2 681.4v4.2 M1197.9 1106v-8.5 M1197.9 681.4v8.5 M1207.6 1106v-4.2 M1207.6 681.4v4.2 M1217.3 1106v-4.2 M1217.3 681.4v4.2 M1227 1106v-4.2 M1227 681.4v4.2 M1236.7 1106v-4.2 M1236.7 681.4v4.2 M1246.4 1106v-4.2 M1246.4 681.4v4.2 M1256.1 1106v-4.2 M1256.1 681.4v4.2 M1265.8 1106v-4.2 M1265.8 681.4v4.2 M1275.5 1106v-4.2 M1275.5 681.4v4.2 M1285.2 1106v-4.2 M1285.2 681.4v4.2 M1294.9 1106v-8.5 M1294.9 681.4v8.5 M1304.6 1106v-4.2 M1304.6 681.4v4.2 M1314.3 1106v-4.2 M1314.3 681.4v4.2 M1324 1106v-4.2 M1324 681.4v4.2 M1333.7 1106v-4.2 M1333.7 681.4v4.2 M1343.4 1106v-4.2 M1343.4 681.4v4.2 M1353.1 1106v-4.2 M1353.1 681.4v4.2 M1362.8 1106v-4.2 M1362.8 681.4v4.2 M1372.5 1106v-4.2 M1372.5 681.4v4.2 M1382.2 1106v-4.2 M1382.2 681.4v4.2 M1391.9 1106v-8.5 M1391.9 681.4v8.5 M1401.6 1106v-4.2 M1401.6 681.4v4.2 M1411.3 1106v-4.2 M1411.3 681.4v4.2 M1421 1106v-4.2 M1421 681.4v4.2 M1430.8 1106v-4.2 M1430.8 681.4v4.2 M1440.5 1106v-4.2 M1440.5 681.4v4.2 M1450.2 1106v-4.2 M1450.2 681.4v4.2 M1459.9 1106v-4.2 M1459.9 681.4v4.2 M1469.6 1106v-4.2 M1469.6 681.4v4.2 M1479.3 1106v-4.2 M1479.3 681.4v4.2 M1489 1106v-8.5 M1489 681.4v8.5 M1498.7 1106v-4.2 M1498.7 681.4v4.2 M1508.4 1106v-4.2 M1508.4 681.4v4.2 M1518.1 1106v-4.2 M1518.1 681.4v4.2 M1527.8 1106v-4.2 M1527.8 681.4v4.2 M1537.5 1106v-4.2 M1537.5 681.4v4.2 M1052.3 1091h4.9 M1547.2 1091h-4.9 M1052.3 1073.8h4.9 M1547.2 1073.8h-4.9 M1052.3 1056.6h9.9 M1547.2 1056.6h-9.9 M1052.3 1039.5h4.9 M1547.2 1039.5h-4.9 M1052.3 1022.3h4.9 M1547.2 1022.3h-4.9 M1052.3 1005.1h4.9 M1547.2 1005.1h-4.9 M1052.3 987.9h9.9 M1547.2 987.9h-9.9 M1052.3 970.7h4.9 M1547.2 970.7h-4.9 M1052.3 953.5h4.9 M1547.2 953.5h-4.9 M1052.3 936.4h4.9 M1547.2 936.4h-4.9 M1052.3 919.2h9.9 M1547.2 919.2h-9.9 M1052.3 902h4.9 M1547.2 902h-4.9 M1052.3 884.8h4.9 M1547.2 884.8h-4.9 M1052.3 867.6h4.9 M1547.2 867.6h-4.9 M1052.3 850.4h9.9 M1547.2 850.4h-9.9 M1052.3 833.2h4.9 M1547.2 833.2h-4.9 M1052.3 816.1h4.9 M1547.2 816.1h-4.9 M1052.3 798.9h4.9 M1547.2 798.9h-4.9 M1052.3 781.7h9.9 M1547.2 781.7h-9.9 M1052.3 764.5h4.9 M1547.2 764.5h-4.9 M1052.3 747.3h4.9 M1547.2 747.3h-4.9 M1052.3 730.1h4.9 M1547.2 730.1h-4.9 M1052.3 713h9.9 M1547.2 713h-9.9 M1052.3 695.8h4.9 M1547.2 695.8h-4.9" stroke="#000" stroke-width="2.2" fill="none"/>
<rect x="1052.3" y="681.4" width="494.9" height="424.6" fill="none" stroke="#000" stroke-width="2.5"/>
<text x="145.2" y="634.3" text-anchor="middle" class="tk">−1.0</text>
<text x="233.8" y="634.3" text-anchor="middle" class="tk">−0.5</text>
<text x="322.3" y="634.3" text-anchor="middle" class="tk">0.0</text>
<text x="410.8" y="634.3" text-anchor="middle" class="tk">0.5</text>
<text x="499.4" y="634.3" text-anchor="middle" class="tk">1.0</text>
<text x="136.8" y="600.7" text-anchor="end" class="tk">−1.0</text>
<text x="136.8" y="520.8" text-anchor="end" class="tk">−0.5</text>
<text x="136.8" y="432.4" text-anchor="end" class="tk">0.0</text>
<text x="136.8" y="343.9" text-anchor="end" class="tk">0.5</text>
<text x="136.8" y="262.8" text-anchor="end" class="tk">1.0</text>
<text x="778.2" y="634.3" text-anchor="middle" class="tk">4000</text>
<text x="1034.6" y="634.3" text-anchor="middle" class="tk">5000</text>
<text x="1290.9" y="634.3" text-anchor="middle" class="tk">6000</text>
<text x="1547.2" y="634.3" text-anchor="middle" class="tk">7000</text>
<text x="590.4" y="583.5" text-anchor="end" class="tk">0</text>
<text x="590.4" y="505" text-anchor="end" class="tk">200</text>
<text x="590.4" y="426.5" text-anchor="end" class="tk">400</text>
<text x="590.4" y="348" text-anchor="end" class="tk">600</text>
<text x="590.4" y="269.5" text-anchor="end" class="tk">800</text>
<text x="192.4" y="1140.5" text-anchor="middle" class="tk">3400</text>
<text x="286.9" y="1140.5" text-anchor="middle" class="tk">3600</text>
<text x="381.3" y="1140.5" text-anchor="middle" class="tk">3800</text>
<text x="475.8" y="1140.5" text-anchor="middle" class="tk">4000</text>
<text x="136.8" y="1106.9" text-anchor="end" class="tk">0</text>
<text x="136.8" y="1030.6" text-anchor="end" class="tk">2</text>
<text x="136.8" y="945.7" text-anchor="end" class="tk">4</text>
<text x="136.8" y="860.7" text-anchor="end" class="tk">6</text>
<text x="136.8" y="775.8" text-anchor="end" class="tk">8</text>
<text x="136.8" y="698.2" text-anchor="end" class="tk">10</text>
<text x="643.1" y="1140.5" text-anchor="middle" class="tk">4700</text>
<text x="731.7" y="1140.5" text-anchor="middle" class="tk">4800</text>
<text x="820.3" y="1140.5" text-anchor="middle" class="tk">4900</text>
<text x="908.9" y="1140.5" text-anchor="middle" class="tk">5000</text>
<text x="590.4" y="1072" text-anchor="end" class="tk">−200</text>
<text x="590.4" y="997.3" text-anchor="end" class="tk">0</text>
<text x="590.4" y="922.6" text-anchor="end" class="tk">200</text>
<text x="590.4" y="848" text-anchor="end" class="tk">400</text>
<text x="590.4" y="773.3" text-anchor="end" class="tk">600</text>
<text x="590.4" y="698.6" text-anchor="end" class="tk">800</text>
<text x="1100.8" y="1140.5" text-anchor="middle" class="tk">6300</text>
<text x="1197.9" y="1140.5" text-anchor="middle" class="tk">6400</text>
<text x="1294.9" y="1140.5" text-anchor="middle" class="tk">6500</text>
<text x="1391.9" y="1140.5" text-anchor="middle" class="tk">6600</text>
<text x="1489" y="1140.5" text-anchor="middle" class="tk">6700</text>
<text x="1043.9" y="1066.1" text-anchor="end" class="tk">−200</text>
<text x="1043.9" y="997.4" text-anchor="end" class="tk">0</text>
<text x="1043.9" y="928.7" text-anchor="end" class="tk">200</text>
<text x="1043.9" y="859.9" text-anchor="end" class="tk">400</text>
<text x="1043.9" y="791.2" text-anchor="end" class="tk">600</text>
<text x="1043.9" y="722.5" text-anchor="end" class="tk">800</text>
<text x="181.5" y="150.5" textLength="144" lengthAdjust="spacingAndGlyphs">BAT.no=593</text>
<text x="181.5" y="176.6" textLength="247.5" lengthAdjust="spacingAndGlyphs">SWIFT J1209.4+4340</text>
<text x="181.5" y="202.9" textLength="117.5" lengthAdjust="spacingAndGlyphs">NGC 4138</text>
<text x="181.5" y="228.8" textLength="125" lengthAdjust="spacingAndGlyphs">z=0.00292</text>
<text x="1218.3" y="188.2" textLength="320" lengthAdjust="spacingAndGlyphs">survey/campaign:Perkins</text>
<text x="1218.3" y="214.4" textLength="208.6" lengthAdjust="spacingAndGlyphs">date:05/17/2011</text>
<text x="164.4" y="274" textLength="62.8" lengthAdjust="spacingAndGlyphs" style="font-size:19px">DSS−1</text>
<text x="277.4" y="663.3" textLength="88.2" lengthAdjust="spacingAndGlyphs">arcmin</text>
<text transform="translate(62 468) rotate(-90)" textLength="88" lengthAdjust="spacingAndGlyphs">arcmin</text>
<text x="1032.1" y="663.5"><tspan style="font-family:"DejaVu Serif","Liberation Serif",serif">λ</tspan><tspan class="sm" dy="6.7">r.f.</tspan><tspan dy="-6.7" dx="13"> </tspan></text>
<text x="1078.7" y="665" style="font-size:26px">[</text>
<text x="1088.7" y="663.8" style="font-weight:bold" textLength="14" lengthAdjust="spacingAndGlyphs">Å</text>
<text x="1103.1" y="665" style="font-size:26px">]</text>
<text x="281.4" y="1169.2"><tspan style="font-family:"DejaVu Serif","Liberation Serif",serif">λ</tspan><tspan class="sm" dy="6.7">r.f.</tspan><tspan dy="-6.7" dx="13"> </tspan></text>
<text x="328" y="1170.7" style="font-size:26px">[</text>
<text x="338" y="1169.5" style="font-weight:bold" textLength="14" lengthAdjust="spacingAndGlyphs">Å</text>
<text x="352.4" y="1170.7" style="font-size:26px">]</text>
<text x="735.2" y="1169.2"><tspan style="font-family:"DejaVu Serif","Liberation Serif",serif">λ</tspan><tspan class="sm" dy="6.7">r.f.</tspan><tspan dy="-6.7" dx="13"> </tspan></text>
<text x="781.8" y="1170.7" style="font-size:26px">[</text>
<text x="791.8" y="1169.5" style="font-weight:bold" textLength="14" lengthAdjust="spacingAndGlyphs">Å</text>
<text x="806.2" y="1170.7" style="font-size:26px">]</text>
<text x="1258.9" y="1169.2"><tspan style="font-family:"DejaVu Serif","Liberation Serif",serif">λ</tspan><tspan class="sm" dy="6.7">r.f.</tspan><tspan dy="-6.7" dx="13"> </tspan></text>
<text x="1305.5" y="1170.7" style="font-size:26px">[</text>
<text x="1315.5" y="1169.5" style="font-weight:bold" textLength="14" lengthAdjust="spacingAndGlyphs">Å</text>
<text x="1329.9" y="1170.7" style="font-size:26px">]</text>
<text transform="translate(526.7 570) rotate(-90)" textLength="300" lengthAdjust="spacingAndGlyphs" style="font-size:23.5px">flux[10<tspan class="sp" dy="-10">−17</tspan><tspan dy="10">erg s</tspan><tspan class="sp" dy="-10">−1</tspan><tspan dy="10">cm</tspan><tspan class="sp" dy="-10">−2</tspan><tspan dy="10" style="font-weight:bold">Å</tspan><tspan class="sp" dy="-10">−1</tspan><tspan dy="10">]</tspan></text>
<text transform="translate(88 1044.2) rotate(-90)" textLength="300" lengthAdjust="spacingAndGlyphs" style="font-size:23.5px">flux[10<tspan class="sp" dy="-10">−17</tspan><tspan dy="10">erg s</tspan><tspan class="sp" dy="-10">−1</tspan><tspan dy="10">cm</tspan><tspan class="sp" dy="-10">−2</tspan><tspan dy="10" style="font-weight:bold">Å</tspan><tspan class="sp" dy="-10">−1</tspan><tspan dy="10">]</tspan></text>
</svg></body></html>
